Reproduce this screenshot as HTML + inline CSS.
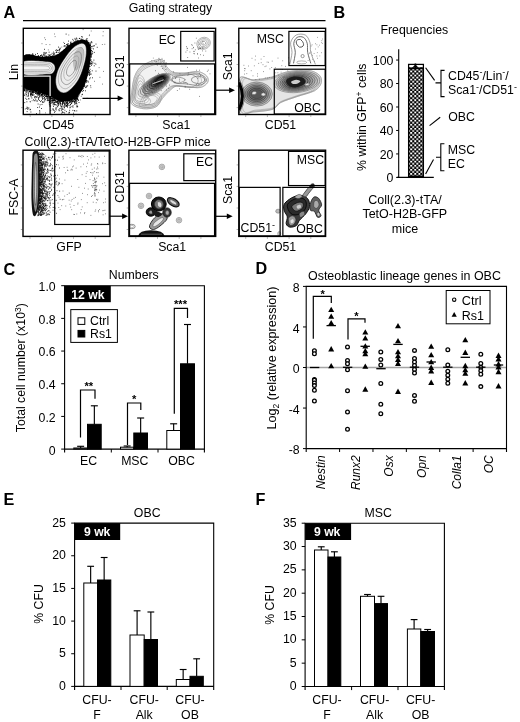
<!DOCTYPE html>
<html><head><meta charset="utf-8"><title>Figure</title>
<style>
html,body{margin:0;padding:0;background:#fff;overflow:hidden}
svg{display:block}
text{font-family:"Liberation Sans",Arial,Helvetica,sans-serif;font-size:12.3px;fill:#000}
</style></head><body>
<svg width="520" height="722" viewBox="0 0 520 722">
<rect width="520" height="722" fill="#fff"/>
<text x="3.50" y="18.20" style="font-size:16.2px;font-weight:bold;">A</text>
<text x="170.50" y="11.50" text-anchor="middle">Gating strategy</text>
<path d="M23.00 20.60L325.50 20.60" stroke="#000" stroke-width="1.2" fill="none"/>
<path d="M21.1 107.6h1.6M30.2 115.3v1.6M21.1 86.1h1.6M51.9 115.3v1.6M21.1 64.5h1.6M73.6 115.3v1.6M21.1 43.0h1.6M95.3 115.3v1.6" stroke="#888" stroke-width="0.7" fill="none"/>
<path d="M126.8 107.6h1.6M135.9 115.3v1.6M126.8 86.1h1.6M157.6 115.3v1.6M126.8 64.5h1.6M179.2 115.3v1.6M126.8 43.0h1.6M200.9 115.3v1.6" stroke="#888" stroke-width="0.7" fill="none"/>
<path d="M236.6 107.6h1.6M245.7 115.3v1.6M236.6 86.1h1.6M267.4 115.3v1.6M236.6 64.5h1.6M289.1 115.3v1.6M236.6 43.0h1.6M310.8 115.3v1.6" stroke="#888" stroke-width="0.7" fill="none"/>
<path d="M20.8 229.5h1.6M30.0 237.2v1.6M20.8 208.0h1.6M51.7 237.2v1.6M20.8 186.4h1.6M73.5 237.2v1.6M20.8 164.9h1.6M95.2 237.2v1.6" stroke="#888" stroke-width="0.7" fill="none"/>
<path d="M126.7 229.5h1.6M135.8 237.2v1.6M126.7 208.0h1.6M157.5 237.2v1.6M126.7 186.4h1.6M179.2 237.2v1.6M126.7 164.9h1.6M200.9 237.2v1.6" stroke="#888" stroke-width="0.7" fill="none"/>
<path d="M236.6 229.5h1.6M245.7 237.2v1.6M236.6 208.0h1.6M267.4 237.2v1.6M236.6 186.4h1.6M289.1 237.2v1.6M236.6 164.9h1.6M310.8 237.2v1.6" stroke="#888" stroke-width="0.7" fill="none"/>
<clipPath id="cp0"><rect x="23.30" y="28.30" width="86.70" height="86.20"/></clipPath><g clip-path="url(#cp0)">
<path d="M84.5 61.3h.01M75.2 68.4h.01M81.9 53.6h.01M78.2 77.0h.01M81.3 51.7h.01M58.5 56.8h.01M44.1 66.7h.01M44.1 52.4h.01M41.4 77.7h.01M57.2 77.9h.01M69.4 89.6h.01M37.8 76.8h.01M64.5 61.0h.01M57.6 79.9h.01M54.9 61.8h.01M65.5 61.3h.01M60.5 60.5h.01M59.1 57.0h.01M36.9 70.4h.01M32.3 75.9h.01M71.1 84.4h.01M34.5 72.8h.01M77.4 73.8h.01M37.5 74.3h.01M41.3 61.5h.01M78.4 58.0h.01M57.9 59.8h.01M81.2 39.1h.01M61.2 54.4h.01M72.7 59.7h.01M32.1 72.1h.01M60.9 97.6h.01M61.4 84.2h.01M85.2 71.0h.01M46.7 84.2h.01M64.7 68.5h.01M54.1 84.1h.01M45.3 88.0h.01M34.2 81.1h.01M79.6 91.5h.01M46.3 88.3h.01M65.7 74.0h.01M69.3 75.9h.01M32.1 73.4h.01M52.7 60.7h.01M41.6 61.1h.01M50.4 96.3h.01M28.2 75.7h.01M69.9 72.5h.01M43.7 77.5h.01M86.4 40.6h.01M69.1 76.9h.01M30.9 57.2h.01M78.2 69.1h.01M88.4 51.8h.01M90.2 77.8h.01M58.9 80.8h.01M60.5 103.7h.01M33.4 84.0h.01M85.4 55.3h.01M66.9 68.4h.01M49.0 69.5h.01M50.2 62.8h.01M40.5 73.0h.01M26.2 91.1h.01M83.8 46.2h.01M53.9 92.7h.01M42.6 69.6h.01M72.4 55.7h.01M50.0 69.2h.01M66.5 48.2h.01M50.8 98.3h.01M60.3 70.0h.01M76.6 62.2h.01M60.8 92.0h.01M68.4 48.1h.01M42.9 86.3h.01M60.6 72.9h.01M73.1 69.0h.01M85.4 42.8h.01M35.1 67.4h.01M73.9 85.6h.01M75.3 50.2h.01M32.1 69.0h.01M77.0 86.5h.01M64.5 49.8h.01M75.3 55.6h.01M60.3 104.9h.01M75.5 91.4h.01M40.4 63.9h.01M35.5 86.0h.01M51.3 61.4h.01M45.0 93.5h.01M87.8 40.9h.01M62.1 89.1h.01M56.5 84.9h.01M58.9 65.6h.01M57.5 59.8h.01M85.4 62.7h.01M74.7 63.4h.01M65.2 63.1h.01M83.8 56.2h.01M51.2 57.4h.01M84.2 80.1h.01M30.3 81.3h.01M51.5 86.9h.01M56.6 81.2h.01M41.9 68.7h.01M76.2 56.7h.01M73.7 86.8h.01M63.0 72.9h.01M88.8 49.2h.01M47.5 73.7h.01M38.4 79.8h.01M29.0 58.8h.01M36.7 87.8h.01M87.1 66.3h.01M82.5 40.2h.01M63.2 99.7h.01M66.5 88.9h.01M44.6 64.1h.01M89.3 58.6h.01M52.6 65.3h.01M64.1 66.9h.01M35.3 87.0h.01M25.6 70.9h.01M76.6 89.0h.01M77.6 95.6h.01M74.3 68.4h.01M31.5 66.1h.01M84.7 42.0h.01M78.5 41.0h.01M78.1 63.4h.01M28.5 80.0h.01M24.1 57.7h.01M26.6 75.2h.01M32.2 72.4h.01M62.2 83.9h.01M65.7 72.2h.01M35.9 83.4h.01M64.1 64.5h.01M44.0 71.9h.01M62.7 69.5h.01M71.0 74.2h.01M64.5 92.2h.01M61.4 79.3h.01M28.5 69.6h.01M79.4 67.5h.01M77.9 45.0h.01M26.8 72.2h.01M50.9 61.7h.01M30.9 86.0h.01M65.5 52.2h.01M77.8 45.7h.01M85.2 49.3h.01M76.8 89.6h.01M80.4 64.7h.01M36.7 69.1h.01M64.0 74.2h.01M72.5 92.4h.01M65.8 69.8h.01M69.0 49.3h.01M77.8 40.4h.01M68.7 48.8h.01M88.0 55.7h.01M82.4 70.5h.01M29.8 80.8h.01M69.0 67.2h.01M60.3 92.2h.01M49.0 65.2h.01M42.8 70.1h.01M70.4 59.3h.01M34.9 61.6h.01M65.0 56.2h.01M77.9 48.2h.01M60.5 80.8h.01M40.8 76.8h.01M37.6 75.6h.01M48.6 67.8h.01M32.7 59.9h.01M75.9 66.7h.01M68.1 80.0h.01M72.0 96.8h.01M30.3 60.3h.01M44.3 87.1h.01M83.7 83.6h.01M63.9 90.1h.01M52.5 88.0h.01M80.0 45.5h.01M68.3 46.7h.01M29.2 68.0h.01M76.0 47.9h.01M78.4 77.6h.01M68.2 103.6h.01M27.5 82.4h.01M75.1 89.7h.01M58.1 59.5h.01M84.8 80.3h.01M33.7 81.4h.01M66.9 66.0h.01M69.2 68.6h.01M87.2 57.2h.01M71.5 84.4h.01M68.6 57.3h.01M34.9 78.7h.01M76.8 40.1h.01M76.2 91.2h.01M71.7 95.5h.01M49.0 93.2h.01M45.1 90.0h.01M49.7 76.1h.01M83.7 64.2h.01M59.6 66.2h.01M49.8 84.1h.01M58.5 64.6h.01M68.9 58.1h.01M50.9 56.4h.01M83.3 67.1h.01M85.9 63.9h.01M45.3 87.7h.01M29.9 87.2h.01M80.3 86.0h.01M33.6 62.9h.01M71.8 62.7h.01M77.7 96.2h.01M80.7 48.6h.01M35.2 84.4h.01M27.7 70.0h.01M30.6 89.1h.01M36.4 78.6h.01M62.7 52.9h.01M88.7 71.7h.01M41.0 81.0h.01M80.2 46.6h.01M28.5 65.7h.01M54.3 77.0h.01M24.3 88.9h.01M71.9 97.2h.01M56.4 90.8h.01M86.2 50.9h.01M38.2 92.7h.01M50.1 66.0h.01M37.8 57.1h.01M56.9 77.7h.01M32.8 68.4h.01M82.0 85.9h.01M54.4 65.6h.01M71.6 78.5h.01M63.2 99.3h.01M44.5 83.3h.01M57.6 88.1h.01M63.7 62.3h.01M56.5 65.1h.01M77.8 54.2h.01M83.2 69.8h.01M33.0 91.7h.01M30.9 68.6h.01M90.0 49.3h.01M85.2 56.0h.01M56.5 71.5h.01M57.4 79.6h.01M84.5 53.4h.01M62.8 57.4h.01M37.7 78.0h.01M59.6 75.2h.01M83.0 79.1h.01M75.5 76.7h.01M76.4 87.9h.01M74.2 54.7h.01M82.7 86.3h.01M67.7 66.5h.01M42.7 66.1h.01M73.0 98.1h.01M30.9 56.1h.01M57.9 76.1h.01M46.5 85.5h.01M58.2 88.4h.01M30.8 77.4h.01M90.7 60.5h.01M61.3 73.9h.01M76.7 59.6h.01M42.6 60.6h.01M79.9 69.3h.01M70.8 65.7h.01M67.3 58.0h.01M86.8 56.2h.01M46.4 58.8h.01M69.5 78.7h.01M80.8 48.4h.01M72.7 50.2h.01M35.4 85.3h.01M59.2 56.6h.01M78.7 47.4h.01M75.1 63.6h.01M88.2 62.4h.01M51.9 61.7h.01M51.9 68.8h.01M75.8 42.5h.01M58.3 104.0h.01M68.4 49.3h.01M60.3 80.6h.01M59.1 90.2h.01M83.6 53.7h.01M55.2 72.7h.01M65.3 64.7h.01M65.8 94.0h.01M36.3 63.0h.01M83.1 85.7h.01M36.6 86.3h.01M49.4 76.3h.01M73.6 66.7h.01M66.9 76.0h.01M62.1 60.7h.01M77.7 86.2h.01M53.8 68.4h.01M66.7 70.7h.01M74.7 54.4h.01M68.0 97.4h.01M53.8 85.2h.01M56.2 76.6h.01M49.1 58.1h.01M54.5 63.0h.01M81.5 60.6h.01M59.3 81.5h.01M45.9 72.7h.01M81.8 83.2h.01M50.1 94.5h.01M78.5 45.2h.01M76.6 75.0h.01M52.5 66.3h.01M73.9 81.0h.01M27.0 71.3h.01M46.7 60.6h.01M82.9 41.8h.01M65.1 57.5h.01M60.3 67.6h.01M69.7 60.4h.01M66.8 59.6h.01M65.6 82.5h.01M50.1 64.2h.01M42.9 63.3h.01M46.2 65.5h.01M50.6 62.4h.01M47.9 78.2h.01M64.7 100.1h.01M87.6 54.7h.01M38.9 93.5h.01M84.3 78.6h.01M60.9 83.1h.01M72.9 66.2h.01M27.8 68.5h.01M84.6 49.7h.01M56.5 75.8h.01M36.3 60.4h.01M79.8 49.4h.01M80.6 50.3h.01M71.4 66.7h.01M52.1 92.8h.01M48.0 77.9h.01M57.5 80.6h.01M44.3 89.7h.01M69.7 93.8h.01M26.2 85.8h.01M76.3 76.9h.01M72.3 81.6h.01M40.5 81.5h.01M67.3 60.3h.01M67.0 46.0h.01M41.3 81.9h.01M54.2 57.2h.01M55.9 97.3h.01M38.0 89.7h.01M88.7 72.4h.01M42.1 58.8h.01M42.7 63.0h.01M28.8 62.8h.01M80.2 53.3h.01M35.6 67.3h.01M36.5 81.7h.01M45.2 85.2h.01M76.5 60.6h.01M57.9 98.9h.01M86.1 62.2h.01M66.8 55.2h.01M80.3 61.3h.01M74.7 43.4h.01M42.7 78.4h.01M46.6 71.6h.01M52.7 100.4h.01M34.4 80.4h.01M53.0 74.6h.01M62.9 100.4h.01M29.3 75.3h.01M35.6 86.2h.01M84.5 42.9h.01M24.9 70.7h.01M32.9 78.9h.01M43.7 80.3h.01M76.4 87.8h.01M65.0 71.8h.01M82.3 49.1h.01M84.3 67.4h.01M67.7 57.2h.01M24.0 73.0h.01M59.4 56.5h.01M74.3 76.1h.01M36.6 82.0h.01M42.2 87.9h.01M24.3 70.9h.01M80.5 89.7h.01M83.7 54.5h.01M63.9 55.3h.01M63.0 93.1h.01M89.4 71.1h.01M67.7 88.2h.01M42.9 73.6h.01M58.4 91.5h.01M26.8 82.7h.01M72.0 80.2h.01M71.8 100.8h.01M74.7 72.7h.01M40.3 86.4h.01M24.8 80.9h.01M38.4 63.3h.01M32.0 76.2h.01M52.2 69.6h.01M83.7 77.0h.01M71.2 82.0h.01M83.7 62.1h.01M78.1 84.7h.01M41.6 61.8h.01M76.3 95.1h.01M67.0 84.8h.01M39.0 90.6h.01M40.4 89.9h.01M91.9 53.7h.01M40.8 78.7h.01M68.5 68.5h.01M33.2 61.8h.01M81.1 62.4h.01M30.9 82.1h.01M33.3 64.8h.01M61.2 68.6h.01M79.1 81.1h.01M29.5 75.2h.01M42.8 62.8h.01M75.2 76.0h.01M66.2 74.5h.01M44.0 88.9h.01M67.0 49.4h.01M53.5 79.0h.01M88.1 65.5h.01M74.5 76.2h.01M65.1 91.2h.01M71.9 87.8h.01M71.0 43.9h.01M70.9 85.4h.01M71.1 64.2h.01M40.1 81.3h.01M71.9 48.8h.01M42.0 75.4h.01M54.6 100.4h.01M54.8 100.4h.01M41.1 55.5h.01M42.3 67.6h.01M35.7 87.0h.01M44.3 63.0h.01M54.3 81.4h.01M38.0 70.5h.01M73.8 92.7h.01M85.5 42.7h.01M39.2 59.2h.01M59.2 71.1h.01M29.8 81.9h.01M80.2 73.5h.01M83.5 81.4h.01M84.1 55.3h.01M64.2 78.0h.01M49.7 92.0h.01M77.2 45.9h.01M24.5 75.8h.01M40.1 64.2h.01M81.5 51.8h.01M52.5 67.6h.01M53.3 88.8h.01M39.0 75.4h.01M29.0 55.3h.01M52.7 70.0h.01M36.4 68.8h.01M60.7 92.0h.01M87.3 69.6h.01M62.4 69.3h.01M75.0 54.1h.01M44.6 76.1h.01M60.6 65.4h.01M59.5 54.6h.01M63.8 56.3h.01M54.7 66.7h.01M62.4 89.6h.01M81.3 64.5h.01M61.2 63.4h.01M69.5 63.2h.01M51.6 93.7h.01M39.2 75.2h.01M57.4 101.6h.01M68.5 89.3h.01M64.9 66.4h.01M31.8 60.5h.01M78.2 74.2h.01M38.3 94.1h.01M30.1 60.8h.01M76.1 81.3h.01M81.7 64.4h.01M53.3 81.2h.01M83.3 45.4h.01M32.6 56.6h.01M55.4 70.5h.01M52.8 93.9h.01M55.7 75.7h.01M73.7 43.5h.01M29.4 80.5h.01M74.5 80.3h.01M40.1 81.2h.01M72.1 85.9h.01M84.4 54.8h.01M35.7 59.5h.01M56.7 78.3h.01M56.7 56.0h.01M45.3 64.2h.01M39.5 69.6h.01M53.3 87.8h.01M65.0 89.1h.01M46.1 78.6h.01M40.9 61.6h.01M73.6 62.1h.01M43.3 73.1h.01M51.3 76.9h.01M85.5 81.1h.01M85.2 47.5h.01M44.9 91.4h.01M73.5 64.3h.01M34.0 91.9h.01M64.0 92.1h.01M87.4 66.3h.01M70.6 67.6h.01M28.3 64.3h.01M85.8 76.2h.01M29.0 88.5h.01M33.2 83.0h.01M88.9 46.0h.01M25.5 69.0h.01M61.6 96.8h.01M52.1 65.7h.01M70.7 48.2h.01M70.6 53.6h.01M35.2 58.9h.01M80.5 91.3h.01M74.3 87.0h.01M90.0 53.4h.01M52.4 56.9h.01M49.8 69.3h.01M71.0 65.8h.01M52.5 83.7h.01M50.5 60.1h.01M36.0 61.5h.01M66.8 92.9h.01M76.0 86.1h.01M39.3 96.1h.01M75.4 94.8h.01M45.1 73.5h.01M64.8 71.3h.01M28.5 75.6h.01M71.6 70.6h.01M71.1 43.6h.01M44.0 89.6h.01M65.0 100.1h.01M48.4 80.1h.01M60.9 75.3h.01M58.8 87.0h.01M62.4 78.5h.01M37.5 81.7h.01M69.3 89.4h.01M31.0 60.9h.01M87.8 43.4h.01M61.8 59.6h.01M25.9 70.7h.01M61.6 66.5h.01M77.0 45.4h.01M40.4 65.3h.01M44.1 60.4h.01M24.7 65.2h.01M59.9 87.9h.01M23.9 70.5h.01M42.5 64.2h.01M25.9 61.1h.01M53.3 60.3h.01M36.7 94.1h.01M69.6 84.2h.01M85.8 46.6h.01M86.0 64.4h.01M66.8 77.2h.01M26.6 56.8h.01M40.0 89.7h.01M31.4 64.1h.01M84.5 53.6h.01M29.9 66.5h.01M71.7 97.7h.01M63.8 72.0h.01M61.3 76.9h.01M89.0 72.3h.01M64.1 97.2h.01M26.2 77.2h.01M27.0 86.9h.01M27.8 74.9h.01M71.5 75.9h.01M78.4 74.1h.01M75.9 66.6h.01M55.5 72.4h.01M25.9 62.7h.01M75.8 70.1h.01M81.1 56.9h.01M50.2 66.1h.01M43.9 86.6h.01M59.3 63.2h.01M50.3 71.1h.01M68.9 64.1h.01M79.5 70.4h.01M84.0 61.9h.01M47.6 59.7h.01M41.3 92.5h.01M58.9 83.8h.01M35.5 88.2h.01M59.2 50.1h.01M59.4 57.0h.01M54.6 94.0h.01M89.6 53.4h.01M52.3 77.2h.01M68.9 71.3h.01M74.7 74.3h.01M60.0 74.1h.01M36.9 74.7h.01M81.6 75.7h.01M28.6 83.7h.01M68.8 97.0h.01M52.3 94.0h.01M67.6 61.1h.01M27.6 79.1h.01M38.6 57.0h.01M45.6 59.8h.01M56.2 62.7h.01M34.4 63.9h.01M89.4 49.6h.01M55.9 93.1h.01M52.5 64.2h.01M81.2 43.6h.01M40.1 82.2h.01M82.9 67.2h.01M42.6 81.9h.01M73.2 58.9h.01M65.1 80.9h.01M84.4 58.9h.01M76.2 59.0h.01M61.7 52.1h.01M37.9 73.4h.01M66.2 64.5h.01M68.6 55.0h.01M90.8 56.3h.01M83.8 71.5h.01M35.4 91.4h.01M35.9 74.7h.01M79.0 59.4h.01M81.3 79.0h.01M62.1 82.5h.01M59.4 96.5h.01M39.9 82.1h.01M87.4 55.5h.01M26.9 58.0h.01M41.7 63.1h.01M65.6 92.3h.01M50.4 70.3h.01M70.4 62.8h.01M41.7 70.2h.01M55.2 68.7h.01M87.2 54.0h.01M41.9 89.3h.01M71.6 49.0h.01M57.2 75.5h.01M83.1 80.0h.01M68.6 59.8h.01M33.4 60.8h.01M90.0 54.5h.01M85.5 58.4h.01M32.8 65.5h.01M57.1 95.0h.01M66.3 103.6h.01M45.9 83.8h.01M78.6 89.1h.01M60.0 56.7h.01M70.2 48.0h.01M81.1 75.2h.01M45.6 63.1h.01M29.8 70.2h.01M59.0 89.5h.01M76.7 49.8h.01M67.6 78.9h.01M74.0 58.2h.01M48.5 57.0h.01M75.4 74.0h.01M39.1 70.8h.01M68.1 82.3h.01M71.1 53.5h.01M81.8 44.8h.01M57.7 77.9h.01M87.3 59.8h.01M46.3 68.6h.01M69.7 85.6h.01M51.3 93.2h.01M85.7 61.6h.01M67.5 79.9h.01M60.5 86.7h.01M46.6 92.4h.01M41.8 86.2h.01M68.1 86.2h.01M72.8 48.9h.01M44.4 75.4h.01M48.6 94.0h.01M94.9 63.3h.01M30.6 57.9h.01M77.8 64.6h.01M66.1 78.7h.01M74.0 51.3h.01M45.0 83.0h.01M30.1 79.7h.01M75.5 57.4h.01M59.4 57.0h.01M37.3 64.9h.01M59.2 62.0h.01M59.3 86.5h.01M70.0 62.5h.01M83.7 67.4h.01M28.4 64.6h.01M89.3 60.7h.01M57.4 80.2h.01M76.2 59.8h.01M82.6 62.1h.01M84.4 72.5h.01M72.2 63.9h.01M87.6 54.4h.01M30.2 55.8h.01M35.6 89.3h.01M42.0 77.5h.01M46.2 81.7h.01M63.1 78.7h.01M70.3 65.3h.01M85.2 67.5h.01M49.3 60.0h.01M81.1 48.2h.01M62.6 63.0h.01M78.8 73.7h.01M65.5 71.7h.01M44.7 82.3h.01M32.7 81.1h.01M84.9 61.1h.01M62.6 63.5h.01M55.1 73.3h.01M50.4 85.9h.01M65.3 72.3h.01M87.2 48.7h.01M49.2 87.4h.01M54.1 72.2h.01M84.2 69.3h.01M71.9 52.9h.01M78.8 82.8h.01M54.1 60.9h.01M79.3 66.7h.01M81.5 42.6h.01M66.8 87.2h.01M59.8 60.2h.01M77.8 44.9h.01M26.5 74.9h.01M90.3 45.8h.01M83.7 58.1h.01M40.3 74.9h.01M80.4 83.1h.01M50.4 75.2h.01M61.8 74.4h.01M38.3 66.9h.01M69.0 85.4h.01M76.1 99.0h.01M57.6 64.3h.01M56.0 79.7h.01M56.4 85.2h.01M83.8 59.8h.01M50.6 66.9h.01M42.1 79.1h.01M57.8 74.3h.01M45.4 56.1h.01M35.2 75.6h.01M70.2 97.1h.01M82.4 84.3h.01M41.2 78.8h.01M28.9 85.9h.01M50.6 96.4h.01M88.2 55.2h.01M78.5 84.8h.01M69.0 69.8h.01M80.4 61.5h.01M71.5 80.2h.01M76.8 90.7h.01M30.3 82.5h.01M50.9 61.0h.01M59.9 56.2h.01M58.8 94.1h.01M40.2 87.9h.01M46.6 94.0h.01M86.0 75.3h.01M35.8 77.9h.01M81.6 68.1h.01M61.9 75.3h.01M68.3 57.6h.01M59.8 61.4h.01M30.4 75.1h.01M54.6 78.5h.01M64.5 77.8h.01M65.8 82.1h.01M78.8 74.8h.01M56.2 93.2h.01M83.9 49.4h.01M36.1 87.8h.01M51.7 56.5h.01M62.0 91.6h.01M73.2 85.3h.01M87.1 60.3h.01M72.6 76.9h.01M49.7 64.5h.01M69.3 71.7h.01M91.9 42.7h.01M26.1 71.6h.01M51.0 70.4h.01M55.9 70.0h.01M92.1 64.0h.01M67.3 61.3h.01M52.1 53.3h.01M76.8 71.1h.01M54.2 84.7h.01M36.5 86.0h.01M53.5 92.1h.01M41.1 90.2h.01M77.6 92.7h.01M82.1 84.8h.01M67.8 72.1h.01M85.1 69.7h.01M57.8 73.0h.01M49.0 56.2h.01M66.1 100.4h.01M67.2 82.1h.01M76.8 88.9h.01M67.4 66.2h.01M78.5 51.7h.01M48.0 66.8h.01M70.0 71.1h.01M43.2 65.2h.01M60.6 57.8h.01M70.0 82.8h.01M79.0 91.3h.01M77.1 43.1h.01M63.9 83.9h.01M45.9 62.3h.01M64.4 72.6h.01M30.0 64.2h.01M63.7 102.1h.01M58.1 64.5h.01M71.4 71.1h.01M51.1 94.3h.01M77.5 65.1h.01M28.7 72.1h.01M61.3 56.4h.01M64.6 50.5h.01M85.6 46.0h.01M83.5 49.0h.01M74.2 62.3h.01M69.4 53.6h.01M56.0 58.0h.01M57.2 61.3h.01M73.1 58.8h.01M65.6 65.8h.01M68.3 89.0h.01M69.1 57.8h.01M65.7 91.0h.01M65.0 68.3h.01M57.7 58.3h.01M45.5 53.8h.01M64.0 91.3h.01M32.1 78.8h.01M83.5 57.9h.01M32.0 82.9h.01M52.9 92.8h.01M39.2 76.8h.01M41.7 78.1h.01M69.2 75.3h.01M49.9 72.0h.01M75.0 44.4h.01M32.1 76.3h.01M63.1 60.4h.01M53.4 81.6h.01M81.3 76.0h.01M74.4 90.3h.01M33.9 60.9h.01M78.3 46.9h.01M64.2 49.7h.01M82.5 57.3h.01M88.6 59.9h.01M75.8 78.9h.01M66.4 84.3h.01M39.0 86.9h.01M46.2 85.8h.01M69.8 88.5h.01M40.5 69.0h.01M46.8 70.0h.01M49.8 89.6h.01M76.0 51.7h.01M69.8 65.9h.01M55.4 93.9h.01M31.8 84.5h.01M77.0 70.8h.01M30.2 74.0h.01M57.5 55.7h.01M43.5 65.8h.01M79.9 78.0h.01M65.3 71.2h.01M40.1 62.8h.01M74.7 74.1h.01M72.9 90.4h.01M72.9 61.8h.01M82.3 59.6h.01M42.2 82.4h.01M70.6 89.0h.01M57.6 94.4h.01M49.4 81.2h.01M48.4 91.8h.01M31.8 89.5h.01M58.1 90.7h.01M51.8 79.4h.01M70.1 49.1h.01M36.4 79.5h.01M89.0 73.8h.01M26.6 63.6h.01M72.7 56.4h.01M84.9 52.5h.01M75.7 64.5h.01M47.4 78.7h.01M54.2 59.7h.01M35.7 85.2h.01M44.7 87.3h.01M34.7 79.8h.01M81.3 84.9h.01M67.4 48.1h.01M52.4 71.9h.01M33.6 68.7h.01M91.0 74.0h.01M57.9 85.2h.01M75.5 83.7h.01M35.4 62.1h.01M60.7 57.0h.01M27.6 77.3h.01M89.9 45.2h.01M43.0 58.9h.01M70.4 92.3h.01M69.9 51.2h.01M75.8 85.8h.01M53.0 98.4h.01M59.8 101.0h.01M53.0 74.6h.01M72.4 57.4h.01M78.3 55.8h.01M29.0 58.3h.01M56.5 75.4h.01M29.8 70.5h.01M38.4 66.8h.01M74.5 96.5h.01M71.2 84.1h.01M42.9 87.5h.01M50.0 68.4h.01M56.3 94.2h.01M73.8 46.3h.01M27.0 60.6h.01M59.6 84.3h.01M74.5 50.0h.01M68.4 83.1h.01M72.3 77.0h.01M30.5 82.4h.01M36.0 78.1h.01M42.6 86.7h.01M46.3 70.9h.01M76.3 76.6h.01M90.1 59.3h.01M69.1 67.6h.01M87.4 47.4h.01M47.2 65.2h.01M49.6 76.0h.01M67.6 73.4h.01M82.5 65.7h.01M43.3 80.5h.01M37.0 65.0h.01M80.5 74.2h.01M26.7 68.9h.01M48.4 59.8h.01M75.1 81.7h.01M68.0 99.0h.01M49.6 66.5h.01M70.6 99.4h.01M72.2 93.9h.01M54.1 67.8h.01M33.9 61.0h.01M67.8 47.1h.01M61.9 74.6h.01M30.8 73.3h.01M42.1 74.8h.01M26.6 90.9h.01M36.9 66.0h.01M51.8 61.7h.01M45.5 89.5h.01M79.3 94.9h.01M25.8 83.0h.01M82.2 77.6h.01M53.4 84.5h.01M39.0 67.8h.01M83.0 57.8h.01M79.5 44.1h.01M67.2 75.0h.01M82.9 77.6h.01M78.4 46.0h.01M85.6 42.0h.01M58.8 86.4h.01M81.5 75.6h.01M52.2 72.8h.01M42.3 85.9h.01M57.6 89.1h.01M51.0 83.1h.01M84.4 71.8h.01M35.8 93.0h.01M51.7 69.8h.01M89.0 74.8h.01M90.2 42.9h.01M75.2 72.0h.01M68.2 99.8h.01M78.4 63.0h.01M38.1 87.5h.01M41.1 88.4h.01M48.6 77.2h.01M72.7 93.0h.01M25.1 58.6h.01M37.9 69.8h.01M81.0 42.5h.01M78.0 74.7h.01M65.4 84.7h.01M58.3 74.1h.01M40.0 73.9h.01M74.7 89.2h.01M61.1 60.9h.01M34.3 80.0h.01M45.7 59.2h.01M24.1 79.1h.01M50.9 69.2h.01M50.8 79.0h.01M50.5 88.9h.01M47.9 96.2h.01M48.7 65.4h.01M61.1 58.2h.01M55.6 102.3h.01M78.6 51.1h.01M60.5 75.9h.01M55.5 67.1h.01M70.7 57.2h.01M72.0 72.8h.01M80.5 76.3h.01M71.9 60.8h.01M67.4 58.2h.01M75.0 91.5h.01M31.0 81.2h.01M72.9 62.5h.01M38.4 63.0h.01M49.1 94.4h.01M69.3 77.2h.01M77.4 94.8h.01M66.1 53.2h.01M78.8 60.4h.01M26.5 59.0h.01M44.8 83.9h.01M54.3 58.0h.01M56.3 52.3h.01M45.6 77.5h.01M66.7 83.3h.01M68.2 73.4h.01M39.7 77.5h.01M69.1 78.7h.01M73.5 77.5h.01M67.4 85.6h.01M29.0 56.8h.01M64.3 65.7h.01M52.9 78.1h.01M59.5 61.1h.01M59.1 74.4h.01M41.6 59.0h.01M40.4 71.7h.01M47.3 75.1h.01M76.4 83.6h.01M50.9 60.4h.01M28.4 79.8h.01M34.8 88.9h.01M57.8 77.0h.01M49.3 61.2h.01M30.2 76.2h.01M81.7 57.0h.01M87.7 71.2h.01M50.7 94.5h.01M71.1 70.6h.01M77.6 87.7h.01M72.3 96.1h.01M67.6 52.7h.01M25.9 62.2h.01M59.3 67.7h.01M71.5 95.8h.01M49.3 88.0h.01M79.8 78.0h.01M93.6 48.9h.01M38.1 62.3h.01M68.3 79.2h.01M81.2 54.0h.01M39.0 61.7h.01M72.5 79.8h.01M36.6 58.1h.01M79.5 67.6h.01M72.1 50.2h.01M78.9 72.8h.01M32.3 86.1h.01M63.5 53.3h.01M55.6 90.2h.01M58.0 67.0h.01M75.3 103.6h.01M55.3 61.5h.01M55.2 67.9h.01M55.8 50.4h.01M50.3 62.3h.01M42.8 75.8h.01M38.2 87.4h.01M42.8 91.0h.01M76.1 44.7h.01M32.8 62.0h.01M39.1 92.2h.01M60.0 83.6h.01M47.3 73.2h.01M37.4 63.8h.01M46.6 71.4h.01M70.4 50.7h.01M88.7 60.4h.01M80.2 45.8h.01M52.1 93.9h.01M49.6 86.0h.01M40.8 85.3h.01M89.3 72.7h.01M65.5 80.9h.01M61.5 65.5h.01M87.0 56.8h.01M63.1 85.6h.01M84.6 83.3h.01M25.1 89.7h.01M77.3 76.1h.01M85.5 71.5h.01M79.1 66.4h.01M55.4 72.5h.01M25.4 84.8h.01M44.6 67.4h.01M35.9 66.3h.01M60.3 72.0h.01M67.3 51.7h.01M48.2 63.5h.01M77.5 82.4h.01M80.5 90.6h.01M79.4 79.9h.01M83.3 47.5h.01M66.8 82.4h.01M49.0 80.0h.01M81.7 64.3h.01M90.0 66.5h.01M46.5 76.9h.01M79.7 59.3h.01M66.5 72.5h.01M63.7 59.7h.01M50.1 61.1h.01M47.3 78.7h.01M42.2 81.5h.01M57.2 86.4h.01M90.5 44.7h.01M77.1 55.7h.01M84.4 74.8h.01M64.6 62.3h.01M58.4 55.8h.01M66.4 51.7h.01M48.6 83.4h.01M40.4 91.5h.01M36.9 70.7h.01M84.5 77.3h.01M45.4 66.9h.01M71.3 103.2h.01M55.8 63.6h.01M42.8 58.0h.01M44.8 73.5h.01M92.8 62.0h.01M44.8 64.5h.01M62.2 67.2h.01M89.0 45.4h.01M46.2 75.7h.01M77.8 75.4h.01M27.0 89.3h.01M68.0 52.2h.01M76.9 38.8h.01M80.8 82.3h.01M89.3 63.1h.01M71.4 76.8h.01M88.9 57.5h.01M43.9 60.7h.01M57.5 55.1h.01M38.4 69.3h.01M28.0 76.2h.01M76.3 56.5h.01M79.7 70.1h.01M26.7 83.3h.01M88.1 63.3h.01M44.4 73.7h.01M83.0 65.5h.01M74.2 79.3h.01M57.8 77.1h.01M80.4 45.7h.01M48.0 57.6h.01M79.7 38.4h.01M81.2 78.4h.01M66.3 97.5h.01M46.0 70.6h.01M59.0 69.3h.01M62.4 65.5h.01M62.2 88.5h.01M91.4 46.6h.01M27.5 69.3h.01M87.3 52.7h.01M62.5 101.0h.01M31.0 64.3h.01M83.8 56.4h.01M56.8 58.9h.01M72.1 49.5h.01M77.0 48.9h.01M29.0 84.7h.01M76.3 45.2h.01M68.8 91.0h.01M69.7 51.4h.01M86.0 87.4h.01M47.4 77.3h.01M43.6 59.0h.01M39.6 77.7h.01M30.9 74.7h.01M76.8 82.0h.01M54.2 88.4h.01M59.0 92.4h.01M45.2 85.4h.01M73.9 61.8h.01M57.0 88.1h.01M51.2 59.6h.01M60.5 64.2h.01M83.7 81.5h.01M40.2 79.7h.01M55.3 90.0h.01M32.2 55.7h.01M54.7 54.2h.01M39.1 92.4h.01M77.9 58.8h.01M79.8 79.6h.01M57.9 66.0h.01M72.0 66.7h.01M84.4 58.3h.01M64.3 71.9h.01M61.7 71.1h.01M45.4 88.8h.01M66.1 95.3h.01M64.9 88.9h.01M86.6 82.1h.01M84.0 49.6h.01M73.0 56.7h.01M72.3 82.6h.01M74.0 54.8h.01M41.1 61.4h.01M75.6 64.2h.01M45.9 61.9h.01M80.6 40.5h.01M81.6 83.6h.01M43.7 87.3h.01M58.9 97.5h.01M66.1 96.5h.01M83.2 63.9h.01M83.0 61.3h.01M37.9 84.7h.01M69.3 76.6h.01M48.3 93.1h.01M78.4 89.5h.01M58.7 65.9h.01M86.8 40.8h.01M39.3 60.0h.01M77.6 69.3h.01M44.1 86.4h.01M59.2 95.3h.01M57.1 62.0h.01M36.0 60.6h.01M75.1 41.9h.01M77.6 89.8h.01M36.2 70.0h.01M76.6 74.7h.01M82.9 72.8h.01M56.4 52.0h.01M46.1 73.8h.01M53.2 66.4h.01M30.6 69.5h.01M51.5 74.9h.01M29.5 77.9h.01M53.8 96.2h.01M70.6 44.2h.01M67.9 98.0h.01M87.6 62.3h.01M83.5 86.2h.01M64.9 63.7h.01M83.9 84.7h.01M49.6 80.8h.01M44.9 94.8h.01M63.9 52.9h.01M57.7 77.3h.01M75.7 45.2h.01M49.1 80.1h.01M79.1 90.6h.01M39.9 93.5h.01M34.4 63.8h.01M42.1 83.5h.01M88.4 68.5h.01M60.7 97.5h.01M76.1 91.9h.01M37.4 79.9h.01M79.1 42.6h.01M32.0 87.7h.01M57.1 90.4h.01M86.0 73.8h.01M74.9 88.4h.01M57.8 91.7h.01M71.0 42.1h.01M68.9 87.4h.01M48.8 86.9h.01M66.5 85.1h.01M76.5 74.7h.01M30.5 62.0h.01M84.8 65.4h.01M50.6 59.8h.01M84.9 69.7h.01M62.9 65.2h.01M81.0 39.3h.01M64.3 71.3h.01M65.5 48.8h.01M59.8 56.6h.01M35.1 58.0h.01M53.0 82.9h.01M74.2 76.7h.01M47.9 64.7h.01M56.2 68.6h.01M48.4 69.7h.01M77.3 83.0h.01M28.2 58.3h.01M81.6 69.8h.01M60.1 81.1h.01M44.3 88.1h.01M78.9 67.3h.01M78.8 88.2h.01M72.3 90.9h.01M25.1 82.5h.01M73.0 61.8h.01M67.8 61.8h.01M84.2 68.3h.01M35.0 89.9h.01M51.9 70.6h.01M68.2 83.1h.01M33.0 68.5h.01M74.6 48.8h.01M54.2 88.9h.01M69.6 73.4h.01M73.4 83.6h.01M66.5 74.7h.01M32.3 77.0h.01M43.9 75.6h.01M53.1 91.4h.01M32.8 72.6h.01M65.7 56.8h.01M72.9 88.2h.01M56.9 80.7h.01M60.3 55.0h.01M87.7 60.9h.01M29.0 67.2h.01M84.2 56.0h.01M90.0 47.4h.01M71.2 55.2h.01M82.6 89.0h.01M63.4 86.7h.01M40.1 84.3h.01M66.8 55.4h.01M79.6 51.8h.01M34.6 80.4h.01M80.7 54.1h.01M74.2 74.6h.01M72.8 63.2h.01M66.0 86.0h.01M59.1 70.7h.01M63.6 80.8h.01M68.2 92.6h.01M60.4 99.3h.01M29.8 77.0h.01M34.7 72.0h.01M83.7 48.1h.01M71.8 52.2h.01M82.5 48.3h.01M60.7 72.7h.01M65.7 62.6h.01M70.8 47.7h.01M47.6 72.4h.01M65.6 54.2h.01M41.3 89.3h.01M29.2 70.6h.01M78.4 71.5h.01M74.6 60.9h.01M54.1 70.4h.01M56.7 79.7h.01M79.1 67.0h.01M64.9 53.0h.01M47.9 66.1h.01M56.0 72.7h.01M44.9 56.4h.01M37.6 59.2h.01M75.0 96.3h.01M42.5 80.1h.01M65.4 53.2h.01M39.8 68.4h.01M46.6 94.3h.01M52.6 64.5h.01M85.7 73.5h.01M71.9 66.5h.01M72.2 44.1h.01M85.2 53.0h.01M67.1 96.8h.01M80.8 79.9h.01M58.4 68.4h.01M72.4 73.7h.01M30.4 62.7h.01M77.9 77.3h.01M39.3 78.4h.01M63.5 83.9h.01M70.9 82.6h.01M33.8 86.3h.01M47.1 82.8h.01M75.6 58.9h.01M47.8 92.5h.01M35.6 67.2h.01M65.2 75.9h.01M77.4 95.6h.01M83.6 74.6h.01M30.9 85.7h.01M79.8 64.6h.01M70.1 96.5h.01M78.3 88.0h.01M59.6 93.3h.01M59.4 62.6h.01M83.4 77.0h.01M33.8 79.7h.01M77.6 43.7h.01M34.0 88.3h.01M65.2 61.2h.01M27.1 81.5h.01M46.6 63.1h.01M81.6 70.8h.01M56.6 58.9h.01M65.2 69.3h.01M24.7 73.5h.01M84.1 76.6h.01M94.3 52.4h.01M74.5 46.3h.01M49.9 55.4h.01M31.6 75.1h.01M50.5 64.6h.01M86.3 75.4h.01M78.8 49.1h.01M46.5 65.3h.01M28.3 71.5h.01M53.8 78.7h.01M37.2 59.6h.01M68.5 79.7h.01M52.7 71.2h.01M44.6 67.6h.01M38.5 83.4h.01M44.4 67.2h.01M42.8 56.1h.01M89.3 63.2h.01M76.6 70.7h.01M67.6 92.5h.01M71.8 85.8h.01M72.0 73.2h.01M75.2 49.1h.01M55.2 57.1h.01M83.9 76.7h.01M63.8 69.0h.01M87.1 63.8h.01M68.9 87.0h.01M90.0 49.5h.01M59.8 72.5h.01M29.5 81.3h.01M72.9 49.4h.01M26.3 80.6h.01M52.0 96.0h.01M33.1 62.7h.01M30.5 82.9h.01M70.4 43.1h.01M67.2 53.9h.01M67.7 45.0h.01M71.7 60.1h.01M72.8 44.1h.01M75.5 46.2h.01M28.5 65.0h.01M31.9 71.8h.01M72.9 71.3h.01M37.5 68.6h.01M58.6 96.8h.01M29.4 55.3h.01M71.2 77.7h.01M51.6 71.9h.01M79.6 85.2h.01M31.9 80.0h.01M31.8 85.4h.01M72.8 58.4h.01M60.5 63.4h.01M88.5 63.8h.01M69.3 97.1h.01M47.0 68.9h.01M41.8 65.6h.01M92.7 53.1h.01M25.5 76.9h.01M72.1 43.9h.01M51.8 93.5h.01M68.5 70.1h.01M71.6 50.3h.01M33.7 68.1h.01M37.7 61.8h.01M55.3 90.5h.01M69.6 97.9h.01M70.8 50.7h.01M78.3 49.2h.01M41.4 94.6h.01M28.8 84.5h.01M35.8 65.2h.01M68.8 98.3h.01M53.2 67.7h.01M72.1 72.6h.01M85.6 56.9h.01M86.9 52.9h.01M80.5 53.1h.01M61.5 81.0h.01M41.8 81.4h.01M64.9 92.8h.01M78.4 85.8h.01M49.9 73.6h.01M71.2 82.1h.01M75.0 98.6h.01M80.8 46.0h.01M63.0 95.7h.01M67.4 78.0h.01M85.9 66.2h.01M85.7 76.7h.01M38.8 84.6h.01M53.3 79.2h.01M38.8 75.0h.01M31.5 81.5h.01M80.2 45.9h.01M71.8 47.1h.01M38.2 88.5h.01M90.9 62.4h.01M71.8 80.3h.01M58.8 56.0h.01M90.8 63.5h.01M76.2 77.2h.01M42.3 79.5h.01M70.5 66.9h.01M35.5 85.2h.01M26.1 81.4h.01M44.9 86.1h.01M79.1 60.1h.01M69.8 77.0h.01M69.3 64.3h.01M80.2 85.5h.01M91.9 53.9h.01M54.4 92.8h.01M74.2 62.0h.01M91.1 59.9h.01M40.6 59.8h.01M64.7 98.0h.01M52.3 75.3h.01M54.6 99.6h.01M75.1 93.8h.01M68.3 67.7h.01M80.1 82.2h.01M37.6 72.5h.01M62.2 92.0h.01M84.0 71.9h.01M37.0 68.0h.01M62.1 63.0h.01M86.0 59.0h.01M82.5 81.3h.01M51.8 89.4h.01M84.6 44.2h.01M77.5 81.2h.01M80.8 83.4h.01M53.9 87.1h.01M40.5 59.9h.01M81.2 44.3h.01M87.0 60.0h.01M46.9 56.5h.01M83.3 44.7h.01M47.2 83.2h.01M53.5 72.3h.01M61.2 79.2h.01M41.5 72.6h.01M41.3 89.1h.01M57.5 73.0h.01M28.7 75.4h.01M78.8 73.2h.01M34.2 66.5h.01M54.2 83.3h.01M64.6 76.2h.01M31.5 61.8h.01M50.6 77.3h.01M63.4 70.1h.01M81.0 87.9h.01M78.1 73.9h.01M69.4 54.7h.01M36.8 82.5h.01M70.3 88.5h.01M78.1 75.6h.01M39.2 56.7h.01M81.6 78.4h.01M63.3 82.8h.01M67.8 79.0h.01M55.3 60.5h.01M82.7 57.1h.01M71.0 45.7h.01M45.8 72.1h.01M54.1 98.7h.01M77.0 82.2h.01M82.5 37.0h.01M74.7 66.0h.01M71.6 60.2h.01M85.3 43.7h.01M39.2 77.6h.01M25.9 66.7h.01M70.7 57.7h.01M45.7 86.3h.01M34.9 68.2h.01M65.6 87.9h.01M50.9 93.7h.01M75.2 84.2h.01M70.8 70.4h.01M75.2 49.5h.01M42.9 66.4h.01M28.2 84.0h.01M81.2 88.3h.01M87.0 80.8h.01M66.5 96.0h.01M89.6 75.4h.01M72.1 95.8h.01M64.4 96.4h.01M40.1 57.8h.01M49.5 64.0h.01M57.1 68.6h.01M44.9 74.0h.01M68.3 66.7h.01M74.6 44.7h.01M64.1 65.6h.01M70.3 91.7h.01M50.1 79.1h.01M76.1 72.3h.01M38.5 63.0h.01M88.5 60.0h.01M62.6 66.9h.01M81.5 65.5h.01M63.2 88.5h.01M86.3 71.7h.01M50.9 63.4h.01M71.5 98.3h.01M69.7 86.8h.01M39.2 57.9h.01M71.6 85.0h.01M76.3 47.2h.01M48.1 79.7h.01M71.8 91.9h.01M85.0 69.7h.01M88.0 81.2h.01M29.4 69.8h.01M64.0 91.1h.01M54.6 69.3h.01M66.7 88.4h.01M42.8 85.2h.01M68.9 56.9h.01M70.1 85.4h.01M56.4 62.1h.01M40.5 68.6h.01M75.9 72.0h.01M34.8 88.3h.01M59.0 75.7h.01M66.1 61.9h.01M81.9 54.4h.01M79.6 61.1h.01M33.4 57.6h.01M40.7 66.1h.01M68.0 62.3h.01M44.7 91.9h.01M75.7 40.9h.01M53.3 54.7h.01M63.3 90.6h.01M67.7 80.1h.01M43.5 81.7h.01M84.7 68.4h.01M73.2 76.3h.01M73.6 58.7h.01M62.1 72.9h.01M33.1 83.9h.01M64.1 97.0h.01M39.9 59.7h.01M56.4 82.7h.01M64.3 87.7h.01M73.4 84.9h.01M51.6 79.7h.01M74.9 75.3h.01M80.9 60.3h.01M76.5 88.0h.01M83.4 77.2h.01M30.2 85.1h.01M43.2 66.1h.01M70.7 79.9h.01M50.0 65.1h.01M53.4 81.8h.01M32.0 64.6h.01M30.0 88.6h.01M70.6 61.5h.01M55.5 85.4h.01M85.8 65.1h.01M60.5 88.3h.01M79.4 85.3h.01M72.8 39.4h.01M49.9 96.5h.01M87.9 49.5h.01M82.1 65.5h.01M33.9 88.3h.01M50.5 81.5h.01M38.6 67.3h.01M92.6 51.4h.01M49.0 79.5h.01M38.1 85.0h.01M41.0 77.6h.01M58.0 58.8h.01M83.4 44.8h.01M28.5 57.4h.01M77.0 94.8h.01M66.1 50.0h.01M24.8 69.8h.01M39.5 80.5h.01M87.1 38.7h.01M54.4 63.8h.01M58.9 81.1h.01M59.8 66.3h.01M55.8 61.2h.01M25.3 85.9h.01M43.1 78.2h.01M28.3 55.8h.01M74.2 96.0h.01M52.9 80.4h.01M72.5 78.5h.01M47.7 88.6h.01M86.6 55.8h.01M25.9 85.6h.01M81.7 62.1h.01M32.5 65.6h.01M68.0 91.0h.01M63.8 70.7h.01M31.2 62.6h.01M52.1 69.5h.01M53.3 81.2h.01M82.3 77.7h.01M88.4 54.0h.01M80.6 89.9h.01M41.9 63.2h.01M58.8 76.9h.01M79.6 82.6h.01M81.8 48.3h.01M44.3 54.9h.01M61.7 87.4h.01M27.7 69.8h.01M29.8 59.6h.01M32.7 53.8h.01M30.2 82.8h.01M43.8 90.1h.01M43.4 82.7h.01M71.5 81.3h.01M29.5 85.1h.01M68.1 54.8h.01M70.1 55.5h.01M70.5 96.8h.01M66.3 80.8h.01M62.0 87.9h.01M75.5 78.1h.01M31.2 55.2h.01M34.4 74.8h.01M76.8 58.8h.01M57.1 60.7h.01M39.7 84.5h.01M81.4 41.9h.01M71.2 55.1h.01M52.1 86.5h.01M77.3 57.8h.01M66.5 105.6h.01M53.5 66.6h.01M82.2 84.8h.01M71.1 80.2h.01M66.6 89.7h.01M57.7 67.7h.01M71.9 57.1h.01M33.2 83.8h.01M54.3 62.2h.01M67.7 46.0h.01M27.7 70.5h.01M79.0 65.1h.01M71.9 89.4h.01M55.0 69.7h.01M54.4 94.9h.01M81.6 68.1h.01M50.5 94.2h.01M78.7 45.1h.01M47.9 94.4h.01M38.0 88.7h.01M81.3 61.5h.01M86.3 51.3h.01M68.0 86.8h.01M46.0 91.2h.01M71.8 59.1h.01M25.9 77.1h.01M83.8 64.9h.01M62.2 84.3h.01M36.4 78.6h.01M66.4 52.2h.01M66.5 51.4h.01M43.5 86.7h.01M44.1 79.4h.01M52.8 76.5h.01M80.0 61.5h.01M59.3 77.0h.01M65.2 59.5h.01M56.2 55.2h.01M71.1 85.9h.01M52.7 57.0h.01M72.7 86.5h.01M45.5 79.5h.01M81.5 61.9h.01M48.0 71.3h.01M82.7 63.8h.01M80.5 79.3h.01M57.7 84.4h.01M32.5 83.3h.01M75.8 68.5h.01M43.7 87.8h.01M82.5 44.9h.01M50.2 62.6h.01M40.0 84.9h.01M65.4 89.3h.01M51.6 98.5h.01M53.9 83.2h.01M77.9 96.5h.01M89.7 78.9h.01M91.2 42.0h.01M76.7 79.8h.01M31.5 66.1h.01M63.1 82.9h.01M88.3 69.4h.01M60.1 96.6h.01M42.6 57.7h.01M41.0 65.6h.01M53.8 71.5h.01M67.2 69.4h.01M88.8 42.8h.01M85.3 47.5h.01M53.3 93.6h.01M68.9 90.5h.01M47.4 89.3h.01M54.2 73.4h.01M67.0 65.8h.01M32.5 74.7h.01M60.0 78.2h.01M35.6 57.1h.01M67.4 98.9h.01M44.3 76.5h.01M36.8 81.5h.01M51.4 66.6h.01M53.1 87.9h.01M78.1 43.5h.01M70.5 56.8h.01M61.0 71.3h.01M65.6 82.8h.01M66.2 50.7h.01M68.4 89.3h.01M86.2 73.2h.01M89.4 47.6h.01M83.4 62.4h.01M73.8 84.5h.01M64.9 92.0h.01M39.1 63.7h.01M52.5 80.2h.01M30.0 58.4h.01M49.5 61.7h.01M37.6 69.1h.01M43.3 70.0h.01M75.6 57.8h.01M64.6 75.5h.01M29.0 73.7h.01M60.6 72.2h.01M39.4 91.6h.01M44.0 87.0h.01M65.2 68.8h.01M54.0 67.5h.01M43.3 69.1h.01M80.9 65.9h.01M35.2 67.9h.01M76.7 79.3h.01M26.5 81.5h.01M68.3 54.4h.01M32.2 64.3h.01M44.0 79.1h.01M74.5 78.8h.01M83.9 64.1h.01M47.9 86.5h.01M67.2 95.1h.01M49.9 74.8h.01M78.1 47.1h.01M27.2 68.7h.01M75.2 39.5h.01M68.2 78.8h.01M55.9 57.5h.01M73.9 60.3h.01M52.3 87.7h.01M32.6 85.8h.01M52.4 90.5h.01M28.7 57.5h.01M52.2 72.7h.01M78.4 68.9h.01M39.0 83.1h.01M61.9 64.5h.01M75.4 54.5h.01M85.4 81.1h.01M74.1 87.1h.01M63.8 101.0h.01M61.0 63.9h.01M66.9 92.2h.01M55.8 79.3h.01M49.2 75.5h.01M61.3 73.9h.01M37.3 75.4h.01M83.0 47.8h.01M27.3 79.4h.01M90.4 53.3h.01M65.2 93.0h.01M60.8 82.0h.01M76.6 88.6h.01M25.0 78.0h.01M25.1 58.9h.01M59.1 77.9h.01M43.7 83.9h.01M46.9 74.3h.01M63.0 82.9h.01M74.1 89.1h.01M71.0 91.4h.01M57.6 102.7h.01M69.8 69.5h.01M74.0 99.4h.01M90.7 52.8h.01M49.2 70.2h.01M83.3 75.3h.01M28.5 70.8h.01M72.8 73.1h.01M77.8 48.4h.01M83.1 82.6h.01M83.8 76.6h.01M57.0 80.8h.01M33.1 55.3h.01M57.5 90.8h.01M28.5 84.2h.01M82.4 46.2h.01M66.2 61.8h.01M69.5 95.9h.01M45.1 93.5h.01M88.4 44.6h.01M26.6 82.7h.01M39.6 60.2h.01M42.4 93.9h.01M47.9 93.2h.01M63.1 69.8h.01M68.2 73.7h.01M69.2 77.0h.01M53.8 92.9h.01M56.9 58.4h.01M63.8 63.1h.01M53.2 101.0h.01M86.7 43.7h.01M79.7 78.9h.01M69.8 83.9h.01M84.2 54.0h.01M39.8 61.6h.01M88.2 43.6h.01M49.2 55.6h.01M66.0 51.4h.01M87.2 72.1h.01M61.9 71.3h.01M60.5 59.6h.01M61.6 64.4h.01M51.2 77.2h.01M68.6 66.4h.01M71.0 76.4h.01M38.8 60.5h.01M83.3 53.3h.01M88.1 61.6h.01M56.0 85.0h.01M47.9 77.5h.01M56.5 89.3h.01M50.0 73.4h.01M70.8 42.4h.01M40.4 78.6h.01M49.2 82.4h.01M31.3 81.6h.01M75.2 52.0h.01M28.9 80.8h.01M51.2 85.3h.01M75.5 95.6h.01M46.4 56.2h.01M79.9 46.3h.01M68.7 79.6h.01M47.1 78.3h.01M70.5 70.2h.01M60.1 55.4h.01M65.3 84.3h.01M71.0 53.2h.01M56.7 84.6h.01M79.9 86.8h.01M24.0 64.2h.01M41.4 61.7h.01M87.0 50.0h.01M67.0 82.7h.01M49.9 57.4h.01M39.2 87.5h.01M53.3 64.2h.01M44.9 83.7h.01M27.2 64.3h.01M68.3 52.5h.01M70.3 52.3h.01M89.7 55.5h.01M41.7 88.5h.01M66.8 95.5h.01M43.6 91.6h.01M81.6 77.7h.01M60.5 62.1h.01M49.2 58.5h.01M82.8 52.3h.01M91.4 65.3h.01M47.0 79.5h.01M74.0 45.5h.01M74.8 88.5h.01M77.7 50.8h.01M54.0 89.0h.01M86.3 49.2h.01M34.8 87.9h.01M89.1 74.4h.01M26.4 58.6h.01M29.8 80.1h.01M85.5 47.8h.01M69.2 86.6h.01M69.2 72.7h.01M47.3 66.1h.01M76.2 69.7h.01M59.1 75.3h.01M59.7 90.6h.01M41.9 69.3h.01M80.2 81.8h.01M49.1 72.1h.01M29.9 80.9h.01M59.3 83.8h.01M81.3 72.7h.01M60.4 69.3h.01M86.5 59.0h.01M32.1 78.6h.01M67.4 73.7h.01M72.0 64.3h.01M64.7 50.0h.01M25.8 58.2h.01M67.5 101.9h.01M51.1 95.0h.01M30.0 76.1h.01M80.0 52.9h.01M50.4 59.4h.01M80.3 42.9h.01M66.1 84.7h.01M63.8 67.3h.01M51.1 98.1h.01M68.4 59.6h.01M43.2 90.6h.01M42.6 63.5h.01M82.3 78.4h.01M37.5 57.1h.01M48.7 92.0h.01M75.6 49.9h.01M82.1 62.4h.01M41.6 84.0h.01M39.5 67.8h.01M42.6 73.8h.01M46.2 73.8h.01M85.3 68.5h.01M80.9 56.2h.01M82.4 46.6h.01M68.4 81.2h.01M83.7 60.4h.01M39.6 60.0h.01M44.3 63.6h.01M50.8 61.0h.01M57.9 50.3h.01M66.3 60.1h.01M24.8 59.1h.01M36.8 86.7h.01M42.7 69.2h.01M90.7 43.8h.01M45.4 69.7h.01M77.6 61.3h.01M65.3 73.8h.01M51.1 98.9h.01M77.7 70.4h.01M76.3 83.9h.01M54.1 63.6h.01M66.4 49.0h.01M68.5 100.2h.01M41.8 79.0h.01M38.7 77.5h.01M41.4 81.5h.01M85.0 50.4h.01M74.7 69.8h.01M82.0 50.8h.01M81.2 86.5h.01M80.0 60.0h.01M73.5 89.7h.01M37.7 56.7h.01M64.6 100.1h.01M82.6 87.5h.01M31.9 70.0h.01M79.6 87.3h.01M63.0 73.1h.01M66.4 51.1h.01M84.5 49.8h.01M74.1 73.6h.01M61.5 71.7h.01M57.1 66.4h.01M34.4 60.7h.01M31.5 66.6h.01M40.1 70.1h.01M68.2 94.5h.01M88.1 65.8h.01M54.1 96.6h.01M73.5 63.2h.01M72.6 81.9h.01M65.6 68.9h.01M89.5 63.0h.01M34.1 77.0h.01M57.4 50.6h.01M72.0 89.7h.01M39.0 74.3h.01M89.1 61.7h.01M68.6 61.4h.01M78.5 59.2h.01M52.5 80.1h.01M66.3 94.8h.01M53.2 68.3h.01M55.5 70.8h.01M82.7 65.7h.01M32.2 70.4h.01M81.3 65.9h.01M49.7 88.7h.01M78.6 51.0h.01M60.9 68.7h.01M78.4 92.0h.01M81.4 63.7h.01M38.1 80.9h.01M81.9 77.1h.01M23.9 65.4h.01M56.2 91.5h.01M42.0 65.0h.01M52.1 70.5h.01M78.5 77.1h.01M87.7 56.4h.01M45.2 90.5h.01M64.7 83.4h.01M51.6 87.3h.01M68.4 41.1h.01M78.2 90.6h.01M79.6 45.9h.01M44.7 80.8h.01M78.2 70.5h.01M75.8 52.5h.01M61.5 75.9h.01M32.3 72.3h.01M53.2 60.1h.01M86.7 70.4h.01M49.1 63.2h.01M54.6 60.5h.01M54.0 90.2h.01M76.6 83.5h.01M50.6 56.4h.01M35.9 84.2h.01M81.4 85.9h.01M60.8 92.8h.01M33.6 63.6h.01M31.7 72.2h.01M28.4 68.8h.01M57.6 56.1h.01M72.5 71.3h.01M44.7 75.7h.01M36.2 81.5h.01M86.0 86.1h.01M71.8 68.5h.01M72.0 43.5h.01M30.4 88.4h.01M76.7 47.5h.01M88.5 66.0h.01M63.4 50.4h.01M72.0 87.8h.01M49.8 83.7h.01M76.8 80.0h.01M82.7 64.4h.01M28.4 60.9h.01M45.5 86.6h.01M66.5 53.7h.01M50.5 60.9h.01M74.3 60.4h.01M69.3 70.2h.01M73.0 97.9h.01M26.2 74.0h.01M62.0 74.9h.01M79.2 59.5h.01M69.3 78.9h.01M46.2 85.3h.01M65.3 67.2h.01M68.5 51.5h.01M82.8 69.1h.01M53.6 89.4h.01M35.8 65.3h.01M27.0 77.2h.01M70.3 102.0h.01M88.3 49.7h.01M57.1 82.7h.01M66.0 54.4h.01M60.6 93.0h.01M49.3 84.4h.01M77.1 79.8h.01M47.2 60.9h.01M85.4 42.6h.01M79.1 68.5h.01M77.2 81.1h.01M79.2 54.6h.01M51.0 54.5h.01M76.2 93.8h.01M64.6 90.2h.01M55.7 81.6h.01M73.0 62.7h.01M84.1 82.8h.01M58.0 98.2h.01M61.3 66.5h.01M56.9 96.0h.01M36.6 83.2h.01M78.8 63.2h.01M45.5 66.3h.01M60.1 59.8h.01M73.2 54.2h.01M91.1 57.1h.01M69.5 60.9h.01M70.3 53.9h.01M83.2 46.5h.01M35.2 79.5h.01M39.5 84.0h.01M32.7 60.4h.01M30.6 75.6h.01M69.0 47.2h.01M73.8 48.5h.01M79.5 73.3h.01M25.4 76.1h.01M90.1 45.7h.01M86.6 51.0h.01M72.3 69.5h.01M50.4 79.9h.01M84.3 57.4h.01M48.4 70.7h.01M60.4 80.1h.01M71.6 81.8h.01M71.9 81.4h.01M71.2 47.3h.01M58.5 88.8h.01M73.6 52.5h.01M52.6 61.7h.01M37.3 89.9h.01M89.7 45.6h.01M74.8 76.3h.01M31.5 62.4h.01M82.5 72.3h.01M63.3 56.3h.01M24.0 69.4h.01M51.5 90.8h.01M71.2 64.7h.01M47.6 60.7h.01M80.4 71.2h.01M32.9 92.5h.01M70.8 79.0h.01M47.6 70.7h.01M35.0 66.4h.01M46.8 80.8h.01M58.4 92.7h.01M81.1 50.8h.01M72.7 57.5h.01M61.2 71.5h.01M64.3 71.3h.01M62.7 95.4h.01M40.9 67.5h.01M77.8 67.6h.01M47.0 93.9h.01M42.5 72.8h.01M64.5 83.7h.01M79.5 46.3h.01M32.8 63.3h.01M60.1 67.0h.01M60.4 66.2h.01M40.2 70.0h.01M89.8 63.6h.01M31.7 66.7h.01M65.8 60.3h.01M86.1 49.5h.01M37.8 81.7h.01M55.6 89.6h.01M83.5 50.8h.01M50.2 91.7h.01M68.1 68.6h.01M79.2 73.5h.01M29.0 84.6h.01M71.0 93.8h.01M41.6 78.9h.01M89.4 54.7h.01M32.8 62.2h.01M39.5 66.3h.01M26.9 73.7h.01M83.2 59.0h.01M45.1 62.0h.01M72.9 82.8h.01M38.1 55.9h.01M32.9 88.2h.01M49.0 58.7h.01M68.7 57.2h.01M62.4 54.9h.01M24.3 57.4h.01M87.4 51.8h.01M30.3 80.1h.01M48.4 69.8h.01M60.2 91.4h.01M38.6 89.9h.01M77.4 45.6h.01M53.8 80.9h.01M72.8 87.2h.01M45.1 78.2h.01M51.2 86.5h.01M77.4 85.4h.01M49.8 67.5h.01M56.1 66.1h.01M81.5 51.3h.01M85.6 44.4h.01M40.2 69.4h.01M34.0 65.8h.01M79.6 43.4h.01M35.0 68.7h.01M26.0 64.5h.01M65.6 56.7h.01M85.7 52.3h.01M80.1 54.3h.01M62.8 76.3h.01M86.6 56.8h.01M67.8 65.5h.01M71.9 58.0h.01M73.7 49.4h.01M74.1 77.8h.01M33.1 64.3h.01M65.2 96.8h.01M34.2 80.4h.01M52.5 73.2h.01M51.4 85.3h.01M73.7 77.9h.01M30.3 71.8h.01M42.5 74.9h.01M44.8 64.2h.01M59.8 99.1h.01M62.5 75.6h.01M53.1 75.7h.01M80.4 42.5h.01M49.1 52.2h.01M42.3 56.5h.01M83.9 50.0h.01M80.3 68.4h.01M33.7 85.4h.01M34.8 79.1h.01M51.3 87.5h.01M91.5 56.0h.01M65.2 50.6h.01M66.5 54.2h.01M45.2 74.4h.01M35.9 65.1h.01M64.8 98.8h.01M71.1 63.1h.01M76.9 55.5h.01M75.8 79.2h.01M46.3 80.6h.01M44.5 86.9h.01M41.3 64.9h.01M77.5 57.2h.01M82.1 86.6h.01M66.6 100.4h.01M50.2 92.8h.01M69.2 60.5h.01M63.4 88.9h.01M77.0 96.1h.01M85.7 42.3h.01M75.3 53.7h.01M57.7 74.3h.01M78.3 52.2h.01M31.9 87.8h.01M34.4 84.6h.01M66.5 78.6h.01M78.5 75.7h.01M26.5 75.6h.01M65.2 88.7h.01M40.3 77.8h.01M49.9 93.6h.01M75.0 38.4h.01M41.1 71.4h.01M50.5 63.9h.01M44.2 58.6h.01M26.2 82.8h.01M40.0 79.5h.01M61.7 55.6h.01M68.4 65.7h.01M84.2 53.9h.01M59.1 50.3h.01M26.1 68.3h.01M85.7 50.3h.01M35.0 74.4h.01M42.8 74.0h.01M55.5 68.5h.01M70.8 76.9h.01M55.9 75.3h.01M69.3 93.2h.01M54.3 94.5h.01M48.2 54.8h.01M46.5 87.2h.01M45.1 76.6h.01M63.3 63.3h.01M58.8 89.1h.01M52.9 92.6h.01M74.3 73.7h.01M76.0 54.6h.01M64.9 98.7h.01M42.1 68.3h.01M86.7 62.1h.01M50.8 85.1h.01M76.3 50.6h.01M66.4 96.6h.01M88.4 47.8h.01M82.6 79.2h.01M36.9 74.9h.01M56.9 72.7h.01M73.7 81.8h.01M30.8 57.8h.01M58.8 80.5h.01M43.6 74.9h.01M30.9 74.7h.01M39.3 75.8h.01M40.7 55.6h.01M45.7 82.9h.01M81.7 76.3h.01M66.0 86.8h.01M30.3 68.3h.01M85.5 46.1h.01M46.7 58.9h.01M67.9 51.7h.01M70.8 93.8h.01M28.6 71.1h.01M54.7 79.4h.01M45.5 84.7h.01M46.6 68.9h.01M55.1 96.7h.01M46.3 52.9h.01M68.0 91.0h.01M55.6 57.3h.01M87.7 64.7h.01M31.7 67.5h.01M26.2 68.2h.01M85.5 75.7h.01M71.7 77.7h.01M26.2 75.2h.01M47.4 93.8h.01M56.0 72.6h.01M68.8 61.6h.01M29.5 77.0h.01M69.2 64.3h.01M43.7 68.7h.01M72.2 91.2h.01M50.9 86.3h.01M56.9 79.5h.01M37.5 69.1h.01M80.3 68.6h.01M56.3 97.5h.01M76.9 92.2h.01M83.9 77.8h.01M65.9 80.2h.01M38.3 76.4h.01M55.4 75.0h.01M63.4 97.6h.01M55.0 78.0h.01M69.1 87.2h.01M84.9 56.5h.01M32.7 77.1h.01M38.2 62.3h.01M63.2 99.9h.01M57.7 78.4h.01M70.0 45.9h.01M87.5 75.6h.01M77.5 44.2h.01M47.0 78.1h.01M84.6 73.1h.01M32.2 66.4h.01M38.4 79.6h.01M67.6 87.1h.01M68.7 92.8h.01M82.2 85.0h.01M67.5 65.6h.01M35.8 78.0h.01M60.5 66.2h.01M38.0 82.4h.01M62.7 62.2h.01M51.0 79.7h.01M68.6 72.2h.01M50.7 63.0h.01M82.7 51.6h.01M74.0 95.6h.01M59.0 60.2h.01M48.0 79.2h.01M51.9 69.4h.01M36.2 90.1h.01M31.5 81.0h.01M82.3 66.9h.01M58.5 100.2h.01M38.1 76.0h.01M36.1 81.3h.01M54.6 75.2h.01M34.8 66.5h.01M68.4 46.1h.01M51.8 78.3h.01M63.5 59.1h.01M50.9 99.2h.01M57.1 68.8h.01M52.8 61.6h.01M37.1 85.4h.01M37.7 60.5h.01M80.6 44.0h.01M78.8 52.9h.01M59.6 84.6h.01M66.6 86.3h.01M80.5 66.9h.01M36.6 80.7h.01M67.4 74.5h.01M68.1 45.7h.01M47.5 87.0h.01M50.0 89.8h.01M60.7 74.9h.01M58.2 96.4h.01M67.9 73.2h.01M26.3 60.4h.01M28.5 88.6h.01M66.7 77.4h.01M69.4 81.8h.01M37.1 64.2h.01M37.7 72.9h.01M38.8 80.3h.01M59.2 58.7h.01M52.7 82.7h.01M82.4 46.9h.01M60.2 74.9h.01M77.4 86.3h.01M61.4 98.0h.01M57.9 87.8h.01M25.7 77.0h.01M65.3 100.3h.01M62.0 99.8h.01M29.8 83.8h.01M67.5 95.4h.01M69.9 46.8h.01M43.5 91.3h.01M64.4 82.1h.01M43.1 61.4h.01M38.7 67.5h.01M24.0 58.9h.01M69.9 83.1h.01M30.5 76.1h.01M75.4 57.0h.01M58.2 83.5h.01M54.1 95.7h.01M63.4 65.2h.01M74.4 65.0h.01M59.2 55.8h.01M59.6 100.9h.01M60.7 94.4h.01M84.0 81.5h.01M28.2 60.8h.01M76.5 80.4h.01M26.2 71.9h.01M59.3 52.1h.01M66.9 86.4h.01M24.7 67.4h.01M85.1 72.6h.01M38.6 77.0h.01M60.0 60.2h.01M46.0 78.1h.01M43.3 68.0h.01M51.6 71.3h.01M45.8 85.9h.01M43.8 76.7h.01M66.0 78.6h.01M32.3 68.5h.01M81.4 80.2h.01M63.2 71.9h.01M28.5 68.8h.01M83.5 78.2h.01M25.4 62.3h.01M64.6 93.4h.01M67.3 51.4h.01M90.8 74.2h.01M56.3 75.0h.01M39.0 62.4h.01M63.6 78.8h.01M82.8 44.7h.01M29.2 83.8h.01M51.0 85.0h.01M47.1 90.3h.01M67.1 74.3h.01M44.9 70.0h.01M70.0 79.9h.01M86.8 65.4h.01M43.4 86.1h.01M85.9 76.2h.01M72.9 85.3h.01M69.4 100.5h.01M37.3 87.5h.01M44.9 69.5h.01M81.7 73.6h.01M36.7 82.7h.01M90.8 64.6h.01M69.1 45.4h.01M27.4 81.0h.01M50.8 70.0h.01M63.4 63.2h.01M52.7 62.1h.01M42.9 58.7h.01M36.1 85.9h.01M46.5 79.7h.01M41.3 66.8h.01M56.9 88.8h.01M83.2 61.4h.01M86.8 50.7h.01M68.1 66.4h.01M35.0 59.1h.01M58.3 71.5h.01M46.2 79.4h.01M81.1 64.6h.01M37.3 89.7h.01M56.6 91.7h.01M64.2 63.9h.01M44.4 67.0h.01M45.1 92.2h.01M66.0 64.4h.01M56.9 58.4h.01M69.7 71.4h.01M31.7 80.4h.01M72.2 84.9h.01M81.1 50.9h.01M41.0 59.3h.01M79.0 69.1h.01M46.9 70.1h.01M34.0 71.6h.01M37.8 59.8h.01M70.7 54.7h.01M42.9 78.6h.01M79.7 46.7h.01M63.4 85.7h.01M72.9 50.7h.01M88.7 48.2h.01M81.6 75.9h.01M60.8 52.3h.01M38.1 78.8h.01M33.3 79.5h.01M41.1 62.4h.01M77.6 84.9h.01M81.2 45.7h.01M63.9 85.0h.01M32.2 71.6h.01M61.5 84.7h.01M53.9 81.2h.01M67.8 88.3h.01M59.8 61.9h.01M66.9 51.4h.01M35.3 62.8h.01M81.5 36.7h.01M41.8 73.9h.01M62.8 56.2h.01M85.8 87.6h.01M28.9 59.3h.01M32.2 54.7h.01M39.5 89.0h.01M51.7 93.5h.01M70.5 72.3h.01M69.9 55.5h.01M58.1 81.0h.01M85.6 47.5h.01M67.6 47.4h.01M88.4 62.2h.01M41.6 69.4h.01M41.1 91.8h.01M51.0 57.8h.01M80.7 48.7h.01M50.3 87.5h.01M67.4 90.2h.01M36.6 60.9h.01M82.7 71.4h.01M36.7 91.8h.01M40.7 90.3h.01M65.7 69.7h.01M42.4 83.3h.01M25.7 80.8h.01M59.6 49.4h.01M27.4 73.5h.01M49.1 73.0h.01M40.5 90.1h.01M67.5 45.2h.01M71.5 90.9h.01M52.9 70.4h.01M56.4 73.3h.01M44.2 76.8h.01M31.1 75.3h.01M83.7 84.8h.01M72.9 72.5h.01M57.4 83.0h.01M75.3 63.5h.01M30.5 84.6h.01M76.0 90.1h.01M89.1 62.1h.01M60.7 95.3h.01M57.4 92.9h.01M77.7 72.7h.01M25.0 59.2h.01M63.4 68.8h.01M74.9 49.3h.01M24.6 76.9h.01M62.0 77.5h.01M59.6 70.0h.01M48.8 87.2h.01M59.4 86.7h.01M62.6 81.1h.01M67.2 84.7h.01M88.2 66.1h.01M66.7 53.2h.01M69.0 69.8h.01M31.9 85.3h.01M27.3 69.3h.01M42.9 85.5h.01M71.8 54.3h.01M67.4 45.0h.01M63.0 99.3h.01M48.1 76.9h.01M55.5 60.9h.01M83.2 62.3h.01M77.9 52.9h.01M62.8 88.0h.01M43.3 67.8h.01M45.7 84.7h.01M80.8 51.7h.01M67.8 60.0h.01M75.8 100.3h.01M81.8 83.3h.01M79.3 83.2h.01M45.7 76.4h.01M63.2 58.7h.01M41.1 80.2h.01M35.3 62.6h.01M34.2 83.9h.01M35.0 76.8h.01M35.4 92.1h.01M68.9 93.9h.01M54.9 64.5h.01M69.7 75.8h.01M37.8 77.7h.01M62.4 92.1h.01M31.2 77.0h.01M80.2 67.7h.01M41.2 94.8h.01M61.4 93.8h.01M80.4 57.7h.01M44.3 68.3h.01M64.8 96.7h.01M46.6 96.5h.01M76.6 59.0h.01M36.4 76.6h.01M60.9 87.7h.01M81.6 41.7h.01M48.1 60.5h.01M59.3 55.9h.01M71.0 72.0h.01M69.6 50.2h.01M37.9 71.0h.01M50.8 92.3h.01M46.3 85.9h.01M49.1 57.5h.01M88.1 43.0h.01M88.7 57.2h.01M25.4 78.5h.01M33.3 79.9h.01M43.9 59.1h.01M83.9 77.6h.01M86.8 86.4h.01M90.7 54.1h.01M84.3 74.0h.01M28.7 67.5h.01M83.2 49.1h.01M70.8 56.9h.01M59.4 93.0h.01M89.1 73.0h.01M84.1 73.5h.01M57.7 98.1h.01M58.5 75.7h.01M31.9 87.4h.01M50.7 65.1h.01M51.4 58.2h.01M27.4 83.2h.01M54.0 83.9h.01M86.1 49.3h.01M87.5 53.7h.01M34.5 82.1h.01M56.5 49.9h.01M50.8 97.5h.01M54.4 63.8h.01M34.1 62.9h.01M43.6 92.1h.01M83.1 88.5h.01M56.3 84.5h.01M65.2 61.6h.01M56.1 79.5h.01M38.8 87.2h.01M60.7 64.0h.01M57.9 97.9h.01M43.4 75.9h.01M40.0 87.1h.01M71.2 70.2h.01M43.3 73.1h.01M44.0 55.5h.01M49.8 64.1h.01M47.4 82.4h.01M69.3 61.0h.01M38.2 59.4h.01M78.4 78.6h.01M43.6 58.5h.01M29.5 87.1h.01M81.9 68.0h.01M46.7 87.8h.01M71.7 87.6h.01M71.4 66.7h.01M41.1 57.3h.01M64.9 68.5h.01M35.3 79.7h.01M59.5 99.8h.01M33.8 86.6h.01M53.0 72.7h.01M35.3 58.4h.01M34.9 68.5h.01M59.3 61.2h.01M57.6 95.7h.01M66.7 55.5h.01M84.6 63.0h.01M72.9 55.2h.01M56.0 91.4h.01M67.4 50.3h.01M80.1 58.4h.01M60.7 92.1h.01M79.0 64.0h.01M85.1 52.8h.01M40.6 69.7h.01M87.7 51.3h.01M76.1 72.0h.01M50.5 64.6h.01M79.1 48.5h.01M42.8 78.0h.01M32.2 66.1h.01M71.8 65.6h.01M56.7 91.5h.01M68.9 50.8h.01M43.3 60.5h.01M73.0 43.5h.01M46.5 91.8h.01M82.2 47.5h.01M78.7 51.3h.01M84.7 82.6h.01M62.4 95.6h.01M42.8 81.4h.01M51.5 65.9h.01M44.2 57.6h.01M27.4 62.7h.01M79.0 75.9h.01M84.2 59.5h.01M76.0 49.4h.01M34.6 83.2h.01M84.8 50.6h.01M72.6 66.4h.01M82.9 81.1h.01M79.9 44.9h.01M29.2 66.5h.01M31.1 72.1h.01M48.1 66.1h.01M79.7 62.4h.01M56.0 88.7h.01M45.6 61.5h.01M33.3 65.1h.01M63.8 68.9h.01M78.1 69.2h.01M78.8 52.0h.01M82.1 86.4h.01M40.4 84.5h.01M28.7 73.2h.01M42.3 79.9h.01M78.5 79.9h.01M26.5 80.2h.01M36.4 79.4h.01M77.2 72.3h.01M75.7 70.0h.01M74.4 46.5h.01M64.1 84.5h.01M69.2 74.1h.01M62.8 61.8h.01M47.8 74.7h.01M58.1 71.3h.01M40.9 78.4h.01M30.6 67.9h.01M51.9 86.5h.01M41.7 85.9h.01M90.1 69.3h.01M54.1 102.8h.01M26.8 83.2h.01M30.3 80.5h.01M66.7 55.2h.01M86.3 81.8h.01M77.4 81.0h.01M69.5 84.8h.01M62.3 74.3h.01M54.4 67.5h.01M41.8 81.2h.01M66.7 58.0h.01M35.7 80.9h.01M85.1 51.7h.01M65.9 95.9h.01M58.4 77.5h.01M37.3 75.4h.01M49.3 88.1h.01M58.8 83.4h.01M52.7 74.7h.01M82.7 71.0h.01M72.8 64.4h.01M44.8 71.7h.01M41.7 78.2h.01M35.2 88.6h.01M75.9 69.8h.01M54.5 90.1h.01M79.9 47.8h.01M26.1 61.7h.01M86.9 58.3h.01M31.7 63.5h.01M57.0 86.7h.01M60.0 76.4h.01M67.1 92.9h.01M35.8 93.3h.01M57.5 101.1h.01M54.0 78.3h.01M30.6 66.1h.01M39.6 76.1h.01M57.3 68.9h.01M25.7 69.5h.01M78.7 67.8h.01M72.1 87.7h.01M40.1 85.3h.01M89.2 55.3h.01M35.8 61.1h.01M29.9 63.7h.01M53.7 92.1h.01M25.9 66.6h.01M67.0 63.0h.01M56.3 102.3h.01M68.1 64.9h.01M52.5 66.9h.01M86.1 49.5h.01M71.4 86.0h.01M42.0 86.1h.01M31.2 65.9h.01M44.4 95.3h.01M40.1 81.2h.01M85.8 70.0h.01M60.6 96.1h.01M60.5 94.9h.01M67.4 77.7h.01M33.7 89.5h.01M38.9 80.2h.01M71.3 69.8h.01M45.5 73.3h.01M85.6 90.8h.01M68.5 49.7h.01M78.6 56.2h.01M45.1 79.1h.01M68.8 70.7h.01M33.7 66.8h.01M72.1 70.8h.01M36.6 80.5h.01M47.7 91.8h.01M45.9 90.0h.01M71.4 96.7h.01M87.7 72.9h.01M52.7 88.8h.01M26.2 63.8h.01M24.8 73.6h.01M68.3 78.0h.01M77.9 41.2h.01M63.1 77.7h.01M70.6 66.5h.01M65.1 80.5h.01M71.6 82.3h.01M81.2 71.2h.01M43.5 91.8h.01M25.7 83.7h.01M81.1 64.4h.01M96.0 71.1h.01M74.0 50.6h.01M48.9 79.9h.01M78.4 50.4h.01M59.1 92.2h.01M69.8 70.2h.01M87.7 85.7h.01M60.0 91.9h.01M50.8 90.9h.01M48.2 88.7h.01M73.6 63.4h.01M71.4 52.8h.01M61.5 78.8h.01M77.9 62.3h.01M63.6 58.2h.01M75.3 46.6h.01M81.5 67.1h.01M44.6 89.6h.01M73.5 89.1h.01M68.0 84.1h.01M80.3 50.3h.01M49.0 88.7h.01M64.0 72.5h.01M47.8 63.5h.01M58.9 76.2h.01M85.2 48.3h.01M42.3 59.8h.01M64.7 45.8h.01M87.0 65.9h.01M82.8 42.4h.01M75.3 82.7h.01M84.2 84.6h.01M86.6 80.5h.01M39.9 57.8h.01M66.1 59.9h.01M61.4 78.0h.01M72.9 53.8h.01M73.6 73.1h.01M78.4 62.3h.01M39.3 67.2h.01M32.8 86.6h.01M79.3 50.1h.01M42.9 72.3h.01M36.2 60.2h.01M76.1 79.6h.01M67.0 100.2h.01M82.0 49.9h.01M77.3 70.2h.01M84.0 60.9h.01M46.0 61.7h.01M67.1 72.9h.01M61.2 89.2h.01M75.2 52.7h.01M80.0 92.9h.01M44.7 85.7h.01M29.8 75.3h.01M74.9 95.9h.01M67.9 77.2h.01M40.1 92.5h.01M40.4 76.5h.01M45.9 52.7h.01M38.4 77.8h.01M26.1 84.4h.01M37.9 82.7h.01M45.5 68.6h.01M32.1 87.3h.01M39.3 60.7h.01M50.1 65.8h.01M32.7 72.8h.01M65.3 98.2h.01M51.6 61.6h.01M63.6 78.4h.01M75.5 48.7h.01M67.6 50.0h.01M83.6 75.1h.01M27.2 84.6h.01M24.5 84.0h.01M57.6 78.2h.01M68.3 81.2h.01M37.5 53.6h.01M58.5 79.2h.01M35.9 60.7h.01M85.1 43.9h.01M51.0 70.8h.01M73.1 61.9h.01M47.9 72.3h.01M55.2 67.5h.01M75.4 42.4h.01M83.4 61.2h.01M54.0 60.8h.01M62.8 65.3h.01M28.8 82.6h.01M74.9 59.2h.01M35.1 80.7h.01M38.9 74.5h.01M43.8 83.6h.01M24.2 58.3h.01M83.7 83.4h.01M81.4 59.1h.01M24.4 89.0h.01M52.1 73.7h.01M63.7 99.9h.01M44.3 79.3h.01M79.7 86.4h.01M39.2 88.9h.01M65.2 82.4h.01M54.8 71.0h.01M57.7 87.3h.01M59.7 87.7h.01M64.0 93.6h.01M89.3 66.4h.01M37.9 87.2h.01M46.8 68.6h.01M41.0 63.3h.01M44.5 81.7h.01M27.5 62.4h.01M24.4 62.8h.01M57.5 92.9h.01M80.7 62.0h.01M30.5 64.5h.01M37.2 69.8h.01M76.8 52.9h.01M36.3 84.2h.01M81.1 53.7h.01M63.3 79.8h.01M43.3 62.8h.01M88.2 82.1h.01M36.3 83.5h.01M73.8 70.0h.01M35.5 58.5h.01M43.6 58.0h.01M73.2 65.2h.01M74.3 93.1h.01M77.0 62.4h.01M47.9 74.3h.01M36.3 91.2h.01M50.8 58.1h.01M87.2 64.5h.01M57.6 84.7h.01M62.9 96.6h.01M81.4 71.9h.01M60.0 54.2h.01M37.4 63.6h.01M74.1 57.3h.01M52.1 69.9h.01M70.9 65.5h.01M36.6 68.9h.01M85.7 51.1h.01M38.3 64.6h.01M78.5 57.6h.01M84.6 69.7h.01M28.0 86.5h.01M82.5 40.6h.01M43.1 88.7h.01M43.9 53.1h.01M57.4 82.3h.01M67.3 78.5h.01M74.1 54.7h.01M70.4 61.9h.01M47.4 92.9h.01M43.0 79.9h.01M77.6 54.1h.01M86.4 60.1h.01M36.3 71.6h.01M81.8 41.2h.01M69.7 66.0h.01M45.8 64.6h.01M72.8 86.5h.01M41.4 62.2h.01M64.2 53.2h.01M52.1 93.1h.01M81.1 46.5h.01M56.1 77.3h.01M72.5 55.0h.01M61.1 75.0h.01M33.6 65.0h.01M82.0 82.4h.01M81.1 67.8h.01M70.1 69.8h.01M92.2 70.8h.01M51.8 73.3h.01M78.2 63.2h.01M80.4 48.5h.01M55.8 68.5h.01M66.1 91.1h.01M74.3 74.6h.01M44.6 81.0h.01M85.7 61.9h.01M33.7 81.9h.01M75.8 58.7h.01M55.5 65.1h.01M75.8 95.4h.01M37.8 62.9h.01M82.4 81.3h.01M55.9 58.3h.01M86.8 45.6h.01M44.8 58.2h.01M83.4 45.4h.01M39.3 75.7h.01M52.6 73.7h.01M62.3 90.1h.01M68.3 66.5h.01M41.1 60.8h.01M70.2 89.1h.01M54.7 85.3h.01M59.1 72.2h.01M41.0 74.7h.01M83.3 84.9h.01M86.3 51.0h.01M74.8 80.2h.01M41.3 70.7h.01M26.7 61.8h.01M70.5 89.6h.01M46.4 59.1h.01M49.7 84.3h.01M45.2 86.9h.01M40.2 91.6h.01M43.0 89.6h.01M65.4 77.2h.01M48.9 95.6h.01M38.6 79.5h.01M81.1 42.6h.01M44.1 84.0h.01M38.1 64.3h.01M89.0 56.7h.01M68.3 98.2h.01M66.7 52.3h.01M80.7 90.2h.01M39.5 69.8h.01M68.7 83.0h.01M68.1 46.7h.01M65.7 46.0h.01M38.4 66.4h.01M66.9 97.6h.01M41.3 76.7h.01M70.5 74.2h.01M34.0 59.8h.01M32.9 74.6h.01M28.4 73.5h.01M74.7 82.2h.01M77.4 57.0h.01M29.7 64.5h.01M56.6 90.8h.01M82.9 61.1h.01M29.1 76.0h.01M76.1 70.9h.01M61.9 58.1h.01M71.3 96.6h.01M77.5 68.3h.01M60.5 86.1h.01M41.7 80.4h.01M34.3 74.0h.01M40.4 60.1h.01M66.8 87.9h.01M74.9 95.2h.01M81.5 45.1h.01M86.8 42.6h.01M43.9 93.6h.01M37.3 77.2h.01M59.5 64.2h.01M75.9 98.4h.01M51.6 65.9h.01M36.9 60.5h.01M81.8 72.1h.01M92.4 77.8h.01M75.3 91.4h.01M46.2 56.3h.01M67.4 93.3h.01M84.7 44.7h.01M51.8 63.6h.01M74.6 88.9h.01M62.7 77.6h.01M57.4 58.8h.01M55.3 69.1h.01M41.0 63.1h.01M77.5 91.0h.01M56.5 59.4h.01M64.7 89.9h.01M27.4 85.7h.01M89.4 53.1h.01M33.2 66.6h.01M68.4 69.6h.01M59.8 60.5h.01M75.5 52.5h.01M67.0 96.1h.01M38.6 66.6h.01M74.0 46.7h.01M67.5 78.6h.01M62.9 91.4h.01M73.4 56.5h.01M33.0 83.2h.01M66.7 75.6h.01M80.9 68.4h.01M49.1 88.0h.01M53.9 85.0h.01M62.2 86.9h.01M83.1 80.2h.01M66.2 54.3h.01M42.6 81.5h.01M67.5 74.0h.01M48.0 79.9h.01M60.9 88.1h.01M32.3 56.3h.01M59.8 97.7h.01M60.5 62.9h.01M65.5 61.2h.01M59.8 74.4h.01M62.5 96.9h.01M72.1 84.1h.01M72.1 58.3h.01M66.2 80.6h.01M70.7 98.0h.01M50.8 70.8h.01M32.3 72.6h.01M81.8 54.3h.01M86.7 72.9h.01M82.6 81.8h.01M61.2 74.7h.01M74.2 80.3h.01M30.3 62.5h.01M36.5 72.8h.01M48.7 84.5h.01M70.1 99.6h.01M61.6 73.8h.01M82.7 91.3h.01M75.6 55.9h.01M63.6 102.1h.01M35.2 87.1h.01M57.7 79.8h.01M81.2 80.6h.01M79.4 58.2h.01M65.5 56.3h.01M39.1 85.1h.01M69.4 61.4h.01M42.5 91.3h.01M39.1 73.9h.01M44.8 58.8h.01M52.6 66.9h.01M54.1 56.0h.01M72.0 78.6h.01M62.2 58.4h.01M79.8 78.1h.01M65.8 88.9h.01M38.4 55.7h.01M79.5 64.3h.01M65.0 73.6h.01M80.6 48.0h.01M59.5 89.0h.01M81.0 46.2h.01M57.3 61.2h.01M82.2 65.1h.01M30.7 78.9h.01M67.9 61.0h.01M47.9 88.7h.01M64.6 94.6h.01M64.0 82.2h.01M79.0 45.2h.01M85.4 45.2h.01M34.9 88.6h.01M82.3 70.9h.01M29.6 71.0h.01M43.5 79.0h.01M43.9 72.2h.01M70.9 57.8h.01M77.1 41.2h.01M89.0 63.2h.01M63.2 100.0h.01M67.1 47.1h.01M77.8 68.4h.01M40.8 77.4h.01M26.0 83.4h.01M82.5 75.9h.01M34.9 87.7h.01M46.1 69.0h.01M56.9 87.6h.01M46.6 70.8h.01M29.9 57.3h.01M53.5 66.8h.01M38.9 72.7h.01M76.7 73.3h.01M50.2 65.6h.01M26.2 75.2h.01M81.8 70.5h.01M29.0 80.1h.01M43.2 86.0h.01M38.4 65.1h.01M28.8 78.7h.01M32.7 86.6h.01M36.8 68.7h.01M68.5 80.1h.01M34.4 76.3h.01M28.1 68.8h.01M60.3 65.5h.01M82.2 63.5h.01M82.4 94.3h.01M57.3 90.7h.01M78.9 55.6h.01M73.8 92.3h.01M62.3 60.0h.01M76.7 90.0h.01M76.9 98.9h.01M58.1 64.5h.01M72.3 99.3h.01M77.9 54.8h.01M27.4 65.5h.01M75.2 52.7h.01M63.2 82.1h.01M78.9 81.6h.01M29.3 89.5h.01M71.5 67.5h.01M46.6 69.6h.01M46.7 72.8h.01M65.5 72.3h.01M27.4 57.0h.01M81.6 73.2h.01M43.9 62.3h.01M47.5 57.4h.01M28.3 71.0h.01M84.6 67.1h.01M77.8 58.9h.01M44.5 85.2h.01M44.7 82.6h.01M66.0 85.0h.01M86.9 64.7h.01M77.9 60.0h.01M55.6 78.6h.01M29.5 83.7h.01M52.7 81.4h.01M38.1 72.5h.01M53.1 90.2h.01M85.3 63.0h.01M80.1 68.8h.01M68.9 79.4h.01M41.0 85.2h.01M67.9 94.5h.01M57.5 67.2h.01M38.5 92.6h.01M52.4 66.4h.01M79.5 66.9h.01M71.5 49.0h.01M86.9 74.1h.01M65.5 86.2h.01M31.5 56.6h.01M84.4 54.7h.01M41.0 77.4h.01M63.6 81.1h.01M81.4 63.7h.01M81.2 76.9h.01M73.9 59.6h.01M71.2 71.6h.01M48.4 89.2h.01M28.2 84.3h.01M66.0 89.9h.01M82.0 57.3h.01M30.7 78.4h.01M59.6 88.6h.01M24.9 83.2h.01M69.6 79.6h.01M78.9 76.2h.01M41.3 62.8h.01M24.9 63.9h.01M75.0 90.3h.01M54.6 96.8h.01M88.1 46.5h.01M66.8 86.1h.01M63.7 78.5h.01M38.2 58.5h.01M42.7 58.0h.01M92.8 46.4h.01M89.4 70.4h.01M81.9 81.0h.01M68.2 99.9h.01M40.4 55.8h.01M72.5 69.9h.01M90.1 47.5h.01M91.3 50.6h.01M43.9 72.4h.01M46.8 62.7h.01M80.9 50.1h.01M54.2 72.1h.01M79.6 92.8h.01M60.7 79.3h.01M74.6 49.0h.01M26.8 70.5h.01M27.0 65.9h.01M80.1 49.1h.01M82.2 85.9h.01M73.0 83.6h.01M61.8 62.8h.01M83.0 55.2h.01M70.3 68.5h.01M66.4 82.5h.01M82.6 67.1h.01M38.0 80.5h.01M63.4 62.0h.01M73.0 77.4h.01M74.2 89.5h.01M33.2 66.5h.01M73.9 71.6h.01M82.6 44.2h.01M33.8 79.5h.01M86.5 48.4h.01M43.1 71.5h.01M48.6 87.1h.01M74.2 60.7h.01M67.9 49.5h.01M35.6 67.8h.01M77.6 61.4h.01M79.6 87.2h.01M27.9 79.8h.01M58.0 97.1h.01M74.1 63.6h.01M45.6 66.3h.01M25.5 84.6h.01M87.6 51.8h.01M36.7 58.8h.01M68.9 66.8h.01M42.2 90.2h.01M33.0 54.3h.01M47.7 84.3h.01M42.0 60.8h.01M81.3 57.7h.01M77.2 85.5h.01M53.2 62.4h.01M91.5 55.0h.01M68.7 90.5h.01M79.8 87.7h.01M64.8 57.5h.01M80.0 77.3h.01M75.0 60.9h.01M83.7 48.5h.01M46.1 88.9h.01M49.7 80.5h.01M83.7 47.4h.01M81.2 47.1h.01M52.6 95.0h.01M35.3 60.2h.01M89.5 46.4h.01M69.9 72.4h.01M86.4 54.2h.01M60.3 99.7h.01M72.2 50.6h.01M86.4 61.4h.01M76.2 50.7h.01M46.7 93.6h.01M60.3 89.5h.01M56.1 70.9h.01M77.5 85.9h.01M54.7 92.1h.01M75.8 94.4h.01M28.6 70.2h.01M27.5 78.7h.01M51.2 59.7h.01M50.5 86.4h.01M31.6 84.2h.01M82.3 69.0h.01M78.2 54.1h.01M48.6 66.3h.01M53.7 90.4h.01M37.1 76.6h.01M51.7 66.2h.01M61.2 56.9h.01M73.9 85.2h.01M81.7 79.3h.01M69.9 54.5h.01M43.3 90.0h.01M58.9 91.3h.01M50.5 70.6h.01M42.3 56.2h.01M46.3 80.3h.01M39.3 88.0h.01M55.9 66.3h.01M30.1 71.0h.01M60.7 86.4h.01M51.1 98.1h.01M40.2 85.5h.01M87.9 46.3h.01M61.1 57.1h.01M26.9 85.7h.01M59.9 49.3h.01M74.3 82.7h.01M32.3 87.4h.01M47.6 81.2h.01M38.6 93.3h.01M62.1 80.8h.01M79.8 69.2h.01M31.9 64.5h.01M65.1 73.7h.01M24.3 74.9h.01M57.0 62.8h.01M73.3 57.3h.01M68.4 46.1h.01M37.1 78.4h.01M56.1 57.1h.01M34.1 63.6h.01M33.5 80.4h.01M86.4 43.7h.01M28.4 77.8h.01M78.3 79.3h.01M29.7 61.8h.01M45.1 60.8h.01M53.1 87.3h.01M73.9 92.3h.01M49.0 73.7h.01M80.0 52.9h.01M41.2 88.3h.01M65.3 52.3h.01M88.8 66.6h.01M35.1 63.5h.01M73.5 91.0h.01M31.1 88.8h.01M45.7 92.5h.01M74.9 88.3h.01M58.0 61.9h.01M29.1 55.2h.01M69.7 73.2h.01M28.9 64.6h.01M70.7 73.7h.01M66.8 77.6h.01M31.8 89.2h.01M74.3 95.7h.01M42.9 68.6h.01M59.4 63.1h.01M63.6 90.2h.01M50.0 81.4h.01M79.2 44.9h.01M80.7 53.9h.01M63.8 55.7h.01M79.3 38.5h.01M81.5 65.2h.01M78.5 95.7h.01M48.3 92.0h.01M73.6 56.1h.01M85.8 46.1h.01M68.0 61.3h.01M64.1 46.6h.01M24.6 63.4h.01M68.1 87.1h.01M80.7 82.8h.01M58.0 90.3h.01M86.4 76.6h.01M62.1 53.1h.01M87.7 63.3h.01M61.6 53.3h.01M39.7 60.5h.01M59.8 85.7h.01M38.7 66.8h.01M46.7 75.0h.01M37.5 80.0h.01M67.4 49.4h.01M63.9 88.0h.01M64.4 61.9h.01M83.9 48.2h.01M63.6 55.3h.01M83.2 74.2h.01M60.6 94.8h.01M82.0 43.1h.01M83.8 72.2h.01M59.6 66.8h.01M27.7 81.7h.01M71.7 57.7h.01M60.0 64.8h.01M73.3 94.0h.01M69.0 56.9h.01M73.7 86.1h.01M24.6 89.6h.01M47.8 64.6h.01M25.6 87.9h.01M30.1 68.1h.01M37.7 63.2h.01M77.1 96.1h.01M68.9 57.2h.01M64.9 94.6h.01M57.4 85.3h.01M27.4 79.0h.01M85.7 62.1h.01M62.1 70.8h.01M75.9 73.1h.01M75.4 64.4h.01M42.9 61.3h.01M79.6 64.1h.01M65.5 53.6h.01M33.4 91.5h.01M61.4 95.9h.01M89.8 51.9h.01M76.6 38.1h.01M33.6 61.2h.01M44.4 69.5h.01M33.7 73.0h.01M70.2 87.5h.01M44.0 93.3h.01M50.2 64.6h.01M50.9 93.5h.01M68.4 75.0h.01M69.7 90.6h.01M87.9 72.3h.01M77.7 82.7h.01M29.5 84.5h.01M30.3 73.7h.01M41.9 83.4h.01M30.6 73.2h.01M63.9 87.5h.01M35.3 78.7h.01M25.0 85.0h.01M67.4 58.3h.01M51.3 90.1h.01M42.9 65.6h.01M50.8 95.3h.01M77.3 77.4h.01M66.4 74.9h.01M64.3 83.3h.01M81.5 48.2h.01M38.2 91.9h.01M38.9 86.2h.01M74.5 93.9h.01M32.3 70.4h.01M60.6 88.0h.01M71.0 73.5h.01M82.0 56.0h.01M80.0 60.1h.01M87.6 55.8h.01M80.6 49.0h.01M63.8 93.2h.01M50.7 93.9h.01M63.5 91.7h.01M50.5 58.7h.01M64.8 57.1h.01M57.3 70.2h.01M36.1 79.8h.01M69.5 92.5h.01M32.8 76.5h.01M70.2 91.4h.01M92.9 63.0h.01M70.4 57.6h.01M36.4 70.2h.01M58.6 73.4h.01M44.3 77.6h.01M52.1 72.6h.01M25.6 58.4h.01M66.9 75.0h.01M52.0 77.2h.01M38.9 71.9h.01M63.1 100.8h.01M57.2 54.8h.01M28.5 64.6h.01M28.1 67.8h.01M88.5 55.0h.01M83.5 42.7h.01M38.3 78.0h.01M72.4 64.5h.01M80.6 90.6h.01M63.1 69.7h.01M39.8 96.9h.01M44.3 61.5h.01M79.7 59.4h.01M32.0 64.6h.01M86.7 39.1h.01M48.8 71.7h.01M32.5 73.4h.01M73.5 92.5h.01M77.9 61.4h.01M83.5 81.8h.01M88.7 52.2h.01M86.0 47.9h.01M36.6 63.6h.01M63.3 54.4h.01M68.8 82.2h.01M26.2 63.8h.01M40.3 79.8h.01M53.8 73.9h.01M84.4 86.6h.01M80.4 47.8h.01M38.7 86.1h.01M65.6 89.4h.01M63.2 69.3h.01M91.7 41.8h.01M67.1 60.9h.01M36.0 70.9h.01M68.1 55.3h.01M62.3 69.2h.01M82.7 68.8h.01M33.6 95.0h.01M74.3 54.5h.01M65.3 91.8h.01M62.5 95.9h.01M69.7 99.1h.01M73.3 40.8h.01M73.9 58.9h.01M72.1 57.9h.01M88.9 57.4h.01M67.4 49.6h.01M60.5 64.5h.01M60.4 69.5h.01M82.8 82.9h.01M69.9 62.9h.01M73.3 83.4h.01M76.0 66.8h.01M27.7 74.4h.01M44.6 49.3h.01M41.9 84.1h.01M25.2 75.2h.01M87.2 67.8h.01M70.7 69.6h.01M76.6 55.1h.01M76.6 51.3h.01M89.7 74.0h.01M48.9 71.3h.01M44.1 62.6h.01M69.0 49.2h.01M87.5 72.2h.01M50.4 85.7h.01M52.9 66.3h.01M70.1 97.0h.01M82.0 40.0h.01M33.9 70.4h.01M74.7 66.7h.01M61.2 53.6h.01M41.0 81.0h.01M29.0 82.7h.01M90.8 63.4h.01M66.7 84.2h.01M70.4 61.3h.01M71.3 52.6h.01M36.6 75.6h.01M61.1 93.8h.01M67.4 90.2h.01M58.9 85.0h.01M93.3 45.9h.01M30.6 82.6h.01M74.7 68.9h.01M64.8 50.9h.01M66.6 56.5h.01M39.9 79.0h.01M95.9 64.2h.01M68.6 93.2h.01M56.8 83.5h.01M71.6 47.5h.01M33.1 88.2h.01M38.4 86.8h.01M52.7 95.9h.01M77.5 71.4h.01M83.3 64.8h.01M53.6 52.1h.01M73.7 46.2h.01M53.4 61.8h.01M52.5 56.0h.01M63.1 80.0h.01M38.1 91.5h.01M75.7 45.1h.01M68.2 62.7h.01M46.8 68.0h.01M30.9 60.8h.01M55.9 95.7h.01M28.0 56.6h.01M40.2 78.2h.01M67.9 88.8h.01M52.0 68.2h.01M90.3 71.9h.01M36.9 80.6h.01M45.0 66.1h.01M68.0 92.0h.01M33.1 71.2h.01M83.4 70.9h.01M67.7 63.4h.01M75.0 72.1h.01M82.8 74.5h.01M41.3 89.4h.01M52.7 67.7h.01M82.0 68.9h.01M41.3 86.8h.01M64.2 54.2h.01M65.3 86.5h.01M67.5 100.5h.01M26.1 88.9h.01M77.9 66.2h.01M75.9 54.5h.01M60.3 91.5h.01M64.2 76.4h.01M75.6 71.1h.01M65.2 82.4h.01M75.2 52.0h.01M72.9 76.0h.01M35.6 93.3h.01M58.8 70.4h.01M78.5 87.3h.01M25.0 58.1h.01M55.3 75.2h.01M60.1 88.1h.01M31.8 77.4h.01M50.1 66.7h.01M81.0 88.5h.01M27.3 69.5h.01M85.3 81.6h.01M67.0 46.9h.01M58.8 83.1h.01M70.9 89.1h.01M52.6 90.9h.01M74.9 72.9h.01M66.1 34.1h.01M43.4 60.7h.01M64.5 55.2h.01M63.3 67.7h.01M91.6 63.5h.01M53.4 72.4h.01M81.2 56.7h.01M24.2 83.7h.01M31.4 56.1h.01M50.9 79.5h.01M80.4 84.9h.01M71.6 71.2h.01M62.5 103.3h.01M82.0 94.7h.01M50.3 85.8h.01M40.9 65.3h.01M56.2 52.5h.01M49.1 71.8h.01M91.3 52.0h.01M24.1 87.3h.01M73.1 97.9h.01M48.2 57.3h.01M58.0 96.4h.01M46.8 67.6h.01M80.2 70.1h.01M72.4 80.4h.01M69.9 73.8h.01M78.5 63.0h.01M42.4 67.9h.01M47.9 68.5h.01M54.2 61.6h.01M74.9 78.3h.01M72.4 68.2h.01M64.7 76.1h.01M51.4 78.8h.01M51.9 64.6h.01M49.8 60.4h.01M37.2 73.3h.01M59.5 63.1h.01M73.7 91.7h.01M57.0 80.5h.01M31.7 62.6h.01M38.7 68.5h.01M66.6 44.5h.01M42.5 68.8h.01M56.8 94.1h.01M40.3 87.8h.01M52.5 87.8h.01M48.3 79.5h.01M67.1 88.9h.01M83.6 78.9h.01M81.3 40.2h.01M57.7 77.0h.01M81.6 86.9h.01M62.4 95.2h.01M54.3 65.0h.01M82.1 53.7h.01M58.6 47.1h.01M51.0 56.3h.01M65.3 51.8h.01M24.9 62.1h.01M42.9 75.9h.01M54.8 69.9h.01M75.1 66.0h.01M62.8 76.9h.01M70.8 62.3h.01M59.6 96.8h.01M34.5 62.1h.01M70.6 70.0h.01M44.2 53.8h.01M81.0 82.1h.01M42.5 75.1h.01M54.2 78.8h.01M38.1 68.7h.01M62.4 62.4h.01M70.0 62.8h.01M47.1 59.1h.01M49.9 70.3h.01M65.5 83.3h.01M54.3 75.8h.01M43.0 64.7h.01M28.2 85.4h.01M86.0 58.4h.01M42.3 69.9h.01M84.0 47.9h.01M69.4 75.9h.01M54.2 102.2h.01M53.7 53.7h.01M64.6 95.3h.01M39.5 69.0h.01M49.8 89.1h.01M46.0 82.2h.01M82.0 61.7h.01M58.5 60.0h.01M30.6 61.4h.01M72.0 93.0h.01M51.9 61.1h.01M58.1 52.5h.01M37.9 69.4h.01M63.7 94.7h.01M75.1 97.5h.01M82.6 69.2h.01M75.5 84.1h.01M35.9 70.2h.01M26.7 61.6h.01M58.6 90.2h.01M36.9 92.4h.01M24.5 63.8h.01M60.4 95.9h.01M48.0 77.0h.01M29.3 85.1h.01M59.5 92.4h.01M66.1 47.5h.01M47.4 66.4h.01M43.1 79.2h.01M56.8 80.0h.01M71.4 49.4h.01M33.4 56.3h.01M30.2 72.4h.01M39.1 78.5h.01M79.3 47.8h.01M39.7 83.9h.01M48.0 56.9h.01M44.2 74.1h.01M96.0 44.1h.01M75.6 62.2h.01M48.7 85.0h.01M51.9 60.4h.01M76.2 99.0h.01M35.0 71.2h.01M87.4 64.6h.01M50.0 90.8h.01M67.9 60.5h.01M33.6 68.2h.01M33.1 91.2h.01M28.9 84.7h.01M82.9 44.7h.01M55.5 74.4h.01M76.6 96.7h.01M81.9 50.1h.01M46.9 75.7h.01M56.5 63.1h.01M77.5 53.4h.01M50.1 86.2h.01M32.1 71.1h.01M32.8 78.2h.01M44.8 77.2h.01M56.0 77.6h.01M44.2 81.0h.01M41.2 61.7h.01M32.4 72.6h.01M50.2 69.0h.01M91.6 61.7h.01M83.0 72.8h.01M58.8 92.7h.01M38.5 63.4h.01M30.5 72.1h.01M83.4 51.1h.01M86.5 73.1h.01M33.6 76.4h.01M48.3 90.5h.01M34.9 75.1h.01M68.4 94.7h.01M86.1 42.5h.01M88.1 46.4h.01M57.0 91.1h.01M57.5 78.0h.01M54.0 94.1h.01M77.7 63.7h.01M61.5 65.8h.01M27.9 80.6h.01M91.4 50.3h.01M63.6 65.4h.01M39.5 58.8h.01M36.8 60.0h.01M37.1 88.5h.01M52.2 86.5h.01M74.8 41.8h.01M63.2 51.5h.01M47.9 74.3h.01M62.6 84.0h.01M31.7 62.7h.01M53.5 84.4h.01M40.6 81.6h.01M58.1 71.3h.01M57.2 96.0h.01M69.7 68.2h.01M34.0 73.0h.01M67.6 87.0h.01M71.9 81.1h.01M28.9 71.0h.01M66.5 105.5h.01M53.6 86.7h.01M47.5 85.3h.01M30.8 74.4h.01M70.2 72.5h.01M57.5 97.6h.01M64.0 57.2h.01M63.4 88.8h.01M70.1 62.1h.01M60.2 82.1h.01M55.6 71.7h.01M63.9 91.5h.01M67.3 69.4h.01M87.7 57.1h.01M62.4 93.1h.01M46.3 76.9h.01M44.9 60.2h.01M35.1 65.2h.01M32.8 71.8h.01M53.7 89.4h.01M39.8 69.4h.01M35.9 88.5h.01M30.4 69.3h.01M88.5 51.5h.01M44.8 67.9h.01M73.7 66.7h.01M80.9 83.6h.01M78.2 74.1h.01M55.3 85.8h.01M65.9 73.8h.01M34.0 69.9h.01M48.9 93.4h.01M43.5 92.9h.01M79.5 57.7h.01M67.0 53.8h.01M57.4 61.8h.01M65.1 77.1h.01M51.3 84.4h.01M41.2 90.8h.01M46.9 67.5h.01M79.2 76.4h.01M56.5 74.4h.01M74.0 88.8h.01M69.6 87.0h.01M33.9 64.9h.01M39.9 83.4h.01M30.4 87.2h.01M78.1 62.5h.01M78.8 43.4h.01M77.8 51.0h.01M23.9 80.2h.01M89.6 63.7h.01M47.9 96.8h.01M61.5 107.1h.01M82.9 39.3h.01M32.5 80.6h.01M62.1 77.7h.01M55.1 74.2h.01M82.4 62.1h.01M27.8 58.7h.01M69.1 83.9h.01M71.3 79.1h.01M53.6 65.4h.01M46.8 83.9h.01M70.1 88.0h.01M58.4 94.3h.01M75.9 72.8h.01M35.6 81.2h.01M33.6 68.6h.01M61.2 68.6h.01M77.0 97.2h.01M58.0 79.3h.01M55.8 90.7h.01M31.0 66.7h.01M31.7 71.1h.01M49.4 90.1h.01M83.8 67.8h.01M75.1 73.1h.01M78.8 55.4h.01M77.9 80.5h.01M75.1 87.4h.01M66.8 47.1h.01M71.6 56.4h.01M50.2 72.8h.01M54.6 59.2h.01M78.4 89.2h.01M81.6 90.6h.01M32.3 69.8h.01M51.9 62.4h.01M24.2 76.9h.01M49.1 68.8h.01M42.2 87.1h.01M46.3 69.0h.01M43.3 54.5h.01M30.7 93.9h.01M69.9 55.0h.01M83.6 43.8h.01M79.5 73.8h.01M93.9 60.1h.01M38.2 56.5h.01M37.0 65.0h.01M47.5 66.3h.01M53.5 75.3h.01M97.2 47.3h.01M48.0 89.2h.01M46.8 62.5h.01M56.3 94.7h.01M71.8 74.8h.01M28.8 63.5h.01M35.3 80.6h.01M72.3 87.0h.01M84.4 58.0h.01M49.3 87.9h.01M29.9 72.7h.01M30.0 60.7h.01M64.5 43.5h.01M57.2 84.0h.01M85.2 57.1h.01M41.5 70.0h.01M69.8 80.5h.01M89.0 60.5h.01M84.8 45.3h.01M82.5 67.9h.01M49.7 55.0h.01M48.1 100.7h.01M53.3 61.9h.01M46.9 95.3h.01M67.7 63.1h.01M68.3 43.9h.01M36.5 63.6h.01M57.3 80.0h.01M75.7 64.4h.01M67.4 92.5h.01M82.3 68.7h.01M84.6 85.4h.01M71.9 66.3h.01M84.5 79.7h.01M55.7 73.8h.01M27.5 83.9h.01M62.9 70.1h.01M74.4 80.5h.01M86.3 57.8h.01M76.5 84.6h.01M55.3 93.5h.01M83.2 54.5h.01M45.7 73.7h.01M72.3 80.7h.01M94.2 65.8h.01M78.9 90.4h.01M36.8 75.9h.01M45.0 67.6h.01M37.2 81.6h.01M57.3 90.3h.01M45.1 62.4h.01M53.7 59.9h.01M70.8 46.1h.01M69.2 95.8h.01M46.5 91.9h.01M89.1 43.1h.01M61.2 98.1h.01M88.0 49.2h.01M41.6 55.0h.01M28.8 82.0h.01M61.9 73.5h.01M35.3 81.7h.01M45.6 81.2h.01M33.4 69.3h.01M68.4 87.7h.01M87.8 42.8h.01M69.1 85.7h.01M45.7 63.0h.01M28.2 61.8h.01M67.2 89.2h.01M42.4 58.3h.01M30.1 91.4h.01M35.5 74.3h.01M39.9 67.6h.01M91.0 57.1h.01M64.6 84.4h.01M41.7 68.3h.01M60.2 54.0h.01M83.0 46.4h.01M49.9 72.8h.01M64.2 80.1h.01M28.6 66.9h.01M91.7 54.3h.01M64.4 81.9h.01M35.5 54.4h.01M24.1 77.1h.01M56.6 83.9h.01M53.0 98.1h.01M38.0 57.2h.01M60.7 57.4h.01M33.0 62.9h.01M52.3 71.1h.01M61.7 69.8h.01M88.5 58.4h.01M31.4 58.2h.01M59.9 92.4h.01M87.0 73.9h.01M58.2 76.5h.01M49.4 60.8h.01M53.8 54.9h.01M43.2 81.1h.01M65.4 89.9h.01M51.0 90.0h.01M85.6 67.7h.01M90.7 85.8h.01M86.0 39.9h.01M79.8 44.8h.01M50.5 62.4h.01M58.6 58.0h.01M67.5 92.6h.01M58.6 63.5h.01M70.7 59.3h.01M67.8 43.9h.01M69.9 91.4h.01M51.3 75.1h.01M81.7 69.5h.01M63.1 63.4h.01M58.9 91.8h.01M90.5 45.7h.01M71.6 90.7h.01M75.5 69.0h.01M76.3 73.0h.01M34.8 79.6h.01M78.1 79.8h.01M88.5 64.9h.01M68.8 58.3h.01M46.0 81.2h.01M84.3 52.9h.01M56.8 62.9h.01M34.2 87.6h.01M69.8 86.2h.01M61.1 55.4h.01M63.9 98.7h.01M54.8 65.8h.01M66.1 76.5h.01M58.1 92.4h.01M54.4 112.3h.01M29.7 86.5h.01M56.8 70.5h.01M66.8 79.6h.01M34.2 71.9h.01M44.2 77.9h.01M82.1 47.1h.01M73.0 79.3h.01M68.8 88.1h.01M63.9 66.3h.01M72.7 88.8h.01M54.2 64.7h.01M62.6 95.8h.01M61.5 90.2h.01M54.3 53.2h.01M63.1 70.1h.01M75.6 42.9h.01M63.2 69.5h.01M65.3 82.7h.01M80.1 84.8h.01M81.4 83.7h.01M74.2 57.0h.01M79.8 78.3h.01M69.3 76.3h.01M94.6 45.8h.01M29.9 56.8h.01M50.6 61.9h.01M69.5 72.7h.01M86.9 53.8h.01M64.6 59.1h.01M61.5 67.7h.01M42.6 82.5h.01M91.9 48.2h.01M43.8 83.7h.01M34.4 61.8h.01M63.6 70.0h.01M52.7 94.4h.01M63.2 65.4h.01M40.9 90.0h.01M37.0 89.4h.01M83.6 90.4h.01M27.3 59.3h.01M87.7 73.3h.01M57.6 69.7h.01M79.2 81.3h.01M77.7 45.7h.01M70.2 100.2h.01M42.6 69.5h.01M44.0 68.9h.01M60.2 48.3h.01M73.0 65.4h.01M49.7 105.0h.01M40.0 94.4h.01M48.0 99.9h.01M74.0 101.7h.01M75.8 97.8h.01M31.2 96.8h.01M38.8 92.2h.01M77.0 105.6h.01M29.8 91.5h.01M31.6 89.5h.01M46.7 96.1h.01M54.1 103.3h.01M43.8 102.4h.01M38.1 104.0h.01M35.7 96.7h.01M29.8 89.2h.01M31.3 93.9h.01M60.4 103.5h.01M49.6 102.7h.01M75.7 100.2h.01M67.4 107.0h.01M30.8 94.1h.01M23.9 88.4h.01M58.0 101.1h.01M77.4 99.5h.01M32.3 89.8h.01M49.7 97.4h.01M30.0 91.6h.01M59.1 110.7h.01M65.2 105.9h.01M66.0 102.0h.01M67.6 106.8h.01M24.6 90.8h.01M38.5 92.0h.01M28.5 94.9h.01M47.5 99.0h.01M32.1 94.6h.01M47.2 100.6h.01M31.7 94.8h.01M26.1 88.0h.01M26.8 99.4h.01M59.8 108.7h.01M71.4 100.7h.01M50.6 103.7h.01M71.0 99.8h.01M76.6 98.2h.01M63.1 109.3h.01M63.6 103.3h.01M48.0 96.8h.01M27.6 88.3h.01M65.2 103.9h.01M75.5 101.7h.01M55.8 100.7h.01M37.5 93.9h.01M66.3 111.6h.01M53.7 100.3h.01M31.7 91.3h.01M64.9 110.2h.01M53.3 103.8h.01M64.9 102.5h.01M65.1 104.4h.01M50.3 97.6h.01M65.0 103.2h.01M41.5 95.8h.01M64.6 103.4h.01M30.6 94.8h.01M32.0 93.0h.01M64.4 107.1h.01M76.5 103.3h.01M26.9 92.4h.01M76.4 97.3h.01M28.8 98.4h.01M73.0 105.7h.01M53.2 100.2h.01M45.6 96.6h.01M48.9 100.3h.01M60.1 102.7h.01M27.9 90.7h.01M74.4 98.8h.01M45.2 95.4h.01M42.9 98.5h.01M49.2 96.6h.01M54.1 102.7h.01M24.8 88.3h.01M38.7 95.1h.01M62.5 104.6h.01M38.3 92.8h.01M74.2 98.3h.01M67.0 102.3h.01M32.4 91.4h.01M36.3 91.5h.01M51.8 103.0h.01M44.5 97.4h.01M60.8 101.4h.01M51.0 97.9h.01M42.4 101.8h.01M58.3 101.0h.01M52.7 98.1h.01M35.8 99.3h.01M62.7 109.0h.01M46.5 95.3h.01M63.6 101.5h.01M56.7 101.2h.01M60.2 100.9h.01M67.5 103.3h.01M33.1 93.3h.01M38.7 93.7h.01M26.0 92.8h.01M55.2 100.0h.01M46.4 98.2h.01M33.2 90.4h.01M69.8 100.5h.01M57.8 103.9h.01M61.9 108.8h.01M32.8 92.4h.01M45.8 96.6h.01M46.5 96.9h.01M49.4 102.8h.01M69.7 101.3h.01M56.3 109.9h.01M47.5 96.5h.01M74.1 101.7h.01M71.7 101.5h.01M39.1 94.5h.01M42.2 93.8h.01M31.3 89.7h.01M56.9 105.1h.01M42.7 94.2h.01M33.4 99.8h.01M69.8 105.7h.01M66.4 106.4h.01M38.3 97.8h.01M54.9 104.4h.01M77.1 98.5h.01M75.0 98.5h.01M67.8 101.3h.01M52.7 101.1h.01M69.4 112.3h.01M70.7 101.4h.01M32.3 91.5h.01M76.9 98.2h.01M76.9 103.9h.01M73.0 101.3h.01M77.5 98.7h.01M51.0 98.3h.01M76.5 101.1h.01M44.1 101.3h.01M69.1 100.8h.01M28.6 93.0h.01M57.3 106.2h.01M61.9 109.1h.01M74.8 99.6h.01M72.6 101.5h.01M37.7 92.7h.01M60.2 102.5h.01M34.7 90.7h.01M53.1 99.4h.01M54.2 100.7h.01M38.9 92.4h.01M46.1 96.0h.01M69.2 100.5h.01M43.2 96.3h.01M28.2 93.7h.01M71.8 99.6h.01M42.2 94.0h.01M67.2 104.7h.01M56.7 102.2h.01M31.0 90.5h.01M32.1 95.4h.01M61.7 101.2h.01M42.9 93.7h.01M76.3 102.7h.01M61.9 103.9h.01M24.5 87.8h.01M32.3 92.8h.01M66.3 102.6h.01M57.4 103.0h.01M37.5 93.7h.01M43.0 96.0h.01M31.3 93.0h.01M42.0 104.4h.01M32.1 90.2h.01M54.6 100.1h.01M26.3 94.5h.01M30.9 94.0h.01M36.9 92.9h.01M60.8 106.1h.01M39.4 95.9h.01M23.9 86.8h.01M25.7 91.1h.01M54.3 102.3h.01M27.6 91.0h.01M72.9 100.8h.01M34.2 100.7h.01M48.9 100.1h.01M34.7 97.3h.01M56.0 107.8h.01M65.2 106.0h.01M58.7 103.7h.01M38.4 98.3h.01M43.2 96.3h.01M64.1 105.9h.01M61.6 106.4h.01M33.3 92.5h.01M28.9 89.5h.01M39.0 94.9h.01M58.4 100.7h.01M49.2 103.0h.01M76.0 97.4h.01M52.4 100.6h.01M47.9 96.4h.01M38.4 92.4h.01M39.0 97.7h.01M61.2 101.1h.01M40.3 93.3h.01M29.9 91.4h.01M63.1 101.4h.01M40.0 92.6h.01M24.2 86.8h.01M75.3 100.3h.01M68.1 105.4h.01M78.4 99.9h.01M61.5 101.1h.01M42.1 97.3h.01M68.7 100.8h.01M68.9 103.9h.01M44.9 100.7h.01M54.0 100.1h.01M42.1 94.0h.01M58.9 109.7h.01M55.0 99.2h.01M30.5 95.8h.01M24.9 87.5h.01M50.0 106.4h.01M50.0 101.7h.01M55.8 104.7h.01M44.2 94.6h.01M60.8 101.1h.01M58.7 103.2h.01M49.3 104.7h.01M50.0 101.7h.01M50.2 100.0h.01M62.7 105.0h.01M35.9 91.7h.01M74.8 104.3h.01M69.7 102.5h.01M67.5 104.6h.01M35.0 97.9h.01M40.0 92.8h.01M32.0 89.8h.01M49.4 101.9h.01M39.3 93.2h.01M46.5 96.5h.01M53.3 100.4h.01M53.6 109.1h.01M71.7 103.5h.01M45.1 99.2h.01M37.4 96.0h.01M51.3 100.5h.01M48.7 96.1h.01M56.0 101.8h.01M30.2 90.8h.01M23.9 86.5h.01M54.9 104.8h.01M28.2 90.0h.01M24.1 86.6h.01M58.6 104.1h.01M70.6 104.6h.01M29.2 89.3h.01M74.5 101.4h.01M67.5 105.1h.01M49.3 102.1h.01M26.5 87.4h.01M40.9 96.2h.01M69.9 107.8h.01M70.2 101.1h.01M31.1 93.0h.01M50.3 98.3h.01M72.6 101.3h.01M43.7 94.3h.01M52.8 98.7h.01M30.1 101.7h.01M49.5 99.1h.01M26.2 108.5h.01M72.3 99.6h.01M47.9 100.1h.01M27.2 88.0h.01M36.2 96.7h.01M66.7 103.1h.01M73.9 100.0h.01M74.8 102.6h.01M62.8 102.5h.01M26.1 89.1h.01M60.9 105.0h.01M49.3 98.1h.01M53.9 98.9h.01M36.8 97.5h.01M63.8 112.4h.01M49.6 100.4h.01M57.7 101.1h.01M62.2 112.3h.01M34.1 92.5h.01M75.1 98.5h.01M47.0 96.5h.01M53.6 100.6h.01M40.9 95.5h.01M55.1 111.4h.01M72.0 100.3h.01M41.2 94.2h.01M47.9 97.7h.01M44.3 98.3h.01M70.7 104.6h.01M31.0 94.2h.01M38.6 99.6h.01M52.7 98.1h.01M40.6 93.1h.01M31.5 89.5h.01M42.5 95.0h.01M39.4 94.3h.01M59.8 101.1h.01M74.0 101.0h.01M34.1 91.9h.01M24.7 90.4h.01M55.4 100.9h.01M27.8 109.3h.01M50.7 105.9h.01M36.1 93.5h.01M40.6 101.6h.01M62.6 101.7h.01M74.9 99.0h.01M64.7 104.2h.01M52.8 102.7h.01M38.3 93.1h.01M52.4 102.0h.01M63.6 101.1h.01M27.0 90.1h.01M76.3 97.7h.01M74.7 99.1h.01M48.4 97.1h.01M51.8 102.8h.01M24.0 86.9h.01M24.0 94.1h.01M36.6 92.1h.01M59.2 103.9h.01M30.2 92.7h.01M77.0 97.6h.01M74.2 99.5h.01M59.2 101.3h.01M37.4 94.0h.01M77.8 97.6h.01M36.9 91.5h.01M50.1 97.5h.01M75.4 98.5h.01M41.6 95.1h.01M42.6 97.0h.01M77.2 99.0h.01M62.8 100.9h.01M39.6 93.7h.01M30.7 94.7h.01M27.8 96.2h.01M35.4 91.4h.01M47.9 98.6h.01M63.0 106.8h.01M30.0 89.8h.01M44.3 97.2h.01M77.9 96.4h.01M73.2 100.2h.01M49.9 96.9h.01M62.4 102.3h.01M34.9 96.4h.01M56.3 108.1h.01M45.0 99.3h.01M31.9 91.8h.01M58.6 102.3h.01M41.7 94.6h.01M30.9 89.3h.01M53.1 104.8h.01M51.9 100.0h.01M29.3 91.0h.01M26.0 90.1h.01M76.2 98.6h.01M28.8 91.9h.01M39.8 93.9h.01M52.9 98.9h.01M54.2 104.6h.01M75.4 99.3h.01M58.9 100.9h.01M35.0 91.9h.01M33.1 90.0h.01M45.2 99.2h.01M27.4 88.6h.01M77.7 98.1h.01M71.1 102.9h.01M69.8 102.5h.01M24.4 90.5h.01M69.7 110.3h.01M32.5 94.9h.01M34.6 90.9h.01M76.2 99.1h.01M42.7 102.3h.01M60.8 101.6h.01M37.6 93.0h.01M38.0 92.6h.01M68.7 100.9h.01M74.8 101.3h.01M48.2 98.3h.01M57.6 101.7h.01M67.0 102.0h.01M28.0 88.2h.01M74.9 102.1h.01M72.0 102.5h.01M39.8 113.2h.01M42.9 98.6h.01M26.9 101.8h.01M41.4 100.7h.01M32.5 92.4h.01M37.1 101.1h.01M32.7 95.1h.01M42.8 93.6h.01M25.9 93.9h.01M47.6 97.0h.01M72.9 110.4h.01M64.5 107.8h.01M59.6 102.2h.01M71.0 97.1h.01M67.2 104.9h.01M67.2 103.1h.01M77.1 96.4h.01M55.9 96.6h.01M57.5 97.0h.01M74.4 110.6h.01M30.4 109.4h.01M79.0 102.5h.01M76.8 110.9h.01M53.6 106.4h.01M69.0 112.4h.01M65.0 96.3h.01M51.2 101.4h.01M27.1 111.6h.01M55.6 94.9h.01M39.6 100.4h.01M50.8 110.6h.01M28.9 99.0h.01M50.7 92.3h.01M75.9 100.5h.01M70.0 101.0h.01M64.0 93.8h.01M25.8 98.3h.01M58.4 105.6h.01M30.9 112.0h.01M71.8 100.1h.01M71.9 92.6h.01M69.8 96.2h.01M44.7 95.4h.01M31.9 98.0h.01M74.9 111.0h.01M30.0 109.8h.01M65.4 101.0h.01M36.4 113.6h.01M27.9 108.7h.01M61.7 110.3h.01M61.8 113.8h.01M73.6 113.2h.01M67.3 95.1h.01M72.0 106.6h.01M62.4 112.0h.01M40.1 104.8h.01M73.0 107.1h.01M57.7 106.8h.01M28.3 95.3h.01M41.4 108.5h.01M24.8 102.6h.01M43.6 91.6h.01M77.7 106.7h.01M39.7 110.6h.01M67.8 102.6h.01M54.5 98.7h.01M31.0 91.8h.01M50.0 98.8h.01M57.4 95.5h.01M76.9 92.1h.01M52.3 109.0h.01M64.5 104.9h.01M66.7 105.5h.01M77.0 101.2h.01M42.6 95.1h.01M73.4 93.1h.01M39.8 111.9h.01M35.1 100.7h.01M50.7 92.3h.01M70.3 107.2h.01M56.0 101.4h.01M55.4 109.0h.01M27.0 107.2h.01M27.8 107.7h.01M78.3 100.5h.01M66.5 98.9h.01M48.8 93.8h.01M59.8 93.2h.01M77.4 106.7h.01M64.7 113.0h.01M28.9 108.0h.01M66.7 100.4h.01M62.5 103.6h.01M55.0 91.9h.01M53.2 110.1h.01M44.6 91.3h.01M26.1 95.9h.01M69.0 113.7h.01M74.7 102.4h.01M52.9 99.6h.01M54.1 110.4h.01M76.7 106.8h.01M42.7 99.3h.01M37.0 100.9h.01M37.7 107.5h.01M55.8 92.2h.01M39.6 107.0h.01M70.0 93.7h.01M24.6 95.3h.01" stroke="#000" stroke-width="0.95" stroke-linecap="round" fill="none"/>
<path d="M42.3 98.9h.01M85.5 68.3h.01M102.6 84.1h.01M64.2 45.5h.01M84.9 54.2h.01M74.4 103.2h.01M63.7 42.4h.01M103.2 31.7h.01M89.5 34.9h.01M63.5 79.5h.01M99.1 67.6h.01M30.7 82.0h.01M83.8 58.2h.01M44.7 37.8h.01M49.9 44.6h.01M62.1 112.0h.01M34.2 94.8h.01M60.1 85.7h.01M29.2 114.2h.01M90.9 87.6h.01M55.1 36.6h.01M53.9 57.4h.01M33.1 89.3h.01M80.6 99.9h.01M56.8 90.9h.01M30.4 101.8h.01M103.5 71.4h.01M42.0 43.7h.01M26.3 76.2h.01M49.6 90.6h.01M81.2 96.3h.01M103.0 35.8h.01M102.3 44.5h.01M60.6 108.3h.01M53.7 93.8h.01M25.9 55.0h.01M68.8 35.0h.01M94.4 81.3h.01M86.9 86.2h.01M89.3 35.6h.01M45.4 112.9h.01M48.3 49.9h.01M55.0 84.5h.01M69.7 58.9h.01M54.6 34.0h.01M104.8 44.3h.01M49.3 79.0h.01M32.1 100.7h.01M63.0 107.0h.01M23.7 70.6h.01M26.9 58.2h.01M60.0 48.2h.01M83.1 29.6h.01M74.8 102.2h.01M45.4 39.6h.01M59.5 60.7h.01M46.3 81.5h.01M29.9 89.2h.01M59.8 110.7h.01M73.1 54.4h.01M52.8 55.7h.01M64.5 65.5h.01M87.1 98.2h.01M28.4 96.3h.01M25.2 109.1h.01M61.8 47.1h.01M60.3 83.5h.01M99.9 77.3h.01M91.2 31.0h.01M46.1 44.5h.01" stroke="#444" stroke-width="0.8" stroke-linecap="round" fill="none"/>
<path d="M23.3 56.4C26.4 51.5 36.7 56.9 41.9 56.8C47.2 56.6 51.4 56.5 54.7 55.5C58.1 54.5 59.3 52.9 62.0 50.9C64.8 49.0 68.1 45.5 71.2 43.6C74.2 41.8 77.5 40.3 80.3 40.0C83.1 39.6 86.2 40.0 88.0 41.4C89.7 42.9 90.5 45.4 90.9 48.7C91.3 52.1 90.8 57.3 90.3 61.5C89.8 65.8 89.0 70.1 88.0 74.3C86.9 78.6 85.8 83.3 83.9 87.1C82.1 90.9 79.5 94.8 76.6 97.2C73.7 99.5 69.8 100.8 66.6 101.4C63.4 101.9 60.2 101.1 57.4 100.3C54.7 99.5 53.2 98.0 50.0 96.6C46.8 95.2 42.7 93.6 38.3 91.9C33.8 90.1 25.8 91.9 23.3 86.0C20.8 80.1 20.2 61.3 23.3 56.4Z" stroke="#000" stroke-width="0" fill="#000"/>
<path d="M23.3 61.5C27.3 59.4 42.3 61.1 47.4 61.5C52.5 62.0 52.5 63.1 53.8 64.3C55.1 65.5 55.2 67.4 55.1 68.8C54.9 70.3 54.2 71.9 52.9 72.9C51.6 73.8 52.3 74.1 47.4 74.3C42.5 74.6 27.3 76.5 23.3 74.3C19.3 72.2 19.3 63.7 23.3 61.5Z" stroke="#000" stroke-width="0.5" fill="#f4f4f4"/>
<path d="M23.3 63.0C27.2 63.0 41.8 62.5 46.7 63.0C51.5 63.5 51.4 64.5 52.3 65.7C53.3 67.0 53.3 69.5 52.3 70.7C51.4 71.9 51.5 72.5 46.7 72.9C41.8 73.2 27.2 72.9 23.3 72.9" stroke="#777" stroke-width="0.5" fill="none"/>
<path d="M23.3 64.5C27.1 64.5 41.3 64.1 45.9 64.5C50.5 64.8 50.1 65.8 50.9 66.7C51.7 67.5 51.7 69.0 50.9 69.8C50.1 70.5 50.5 71.1 45.9 71.4C41.3 71.7 27.1 71.4 23.3 71.4" stroke="#777" stroke-width="0.5" fill="none"/>
<path d="M23.3 65.9C26.9 65.9 40.9 65.6 45.2 65.9C49.6 66.2 48.7 67.1 49.4 67.6C50.1 68.1 50.1 68.4 49.4 68.8C48.7 69.2 49.6 69.8 45.2 69.9C40.9 70.1 26.9 69.9 23.3 69.9" stroke="#777" stroke-width="0.5" fill="none"/>
<path d="M57.4 88.9C56.1 86.7 55.5 83.2 55.6 79.8C55.8 76.5 56.8 72.5 58.4 68.8C59.9 65.2 62.3 61.4 64.8 57.9C67.2 54.4 70.2 50.3 73.0 47.8C75.7 45.4 79.1 43.6 81.2 43.3C83.3 43.0 84.9 43.9 85.8 46.0C86.6 48.1 86.6 52.3 86.1 56.1C85.7 59.9 84.3 64.9 83.0 68.8C81.7 72.8 80.4 76.5 78.5 79.8C76.5 83.2 73.6 86.7 71.2 88.9C68.7 91.1 66.1 93.0 63.8 93.0C61.6 93.0 58.8 91.1 57.4 88.9Z" stroke="#000" stroke-width="0.5" fill="#ececec"/>
<path d="M74.8 52.4C76.2 49.7 79.7 46.9 81.2 46.9C82.7 46.9 83.9 49.5 83.9 52.4C83.9 55.3 82.6 61.2 81.2 64.3C79.8 67.3 77.1 70.8 75.7 70.7C74.3 70.5 73.1 66.4 73.0 63.4C72.8 60.3 73.4 55.1 74.8 52.4Z" stroke="#000" stroke-width="0" fill="rgba(0,0,0,0.18)"/>
<path d="M59.8 85.4C58.7 83.6 58.2 80.6 58.3 77.8C58.5 75.1 59.3 71.8 60.6 68.7C61.9 65.7 63.9 62.6 65.9 59.6C67.9 56.7 70.5 53.3 72.7 51.3C75.0 49.3 77.8 47.8 79.6 47.5C81.3 47.3 82.7 48.0 83.4 49.8C84.0 51.6 84.0 55.0 83.7 58.1C83.3 61.3 82.1 65.5 81.1 68.7C80.0 72.0 78.9 75.1 77.3 77.8C75.6 80.6 73.2 83.6 71.2 85.4C69.2 87.2 67.1 88.8 65.2 88.8C63.3 88.8 61.0 87.2 59.8 85.4Z" stroke="#888" stroke-width="0.5" fill="none"/>
<path d="M62.2 81.9C61.3 80.5 60.9 78.1 61.0 75.9C61.1 73.7 61.8 71.1 62.9 68.6C63.9 66.2 65.5 63.7 67.1 61.4C68.7 59.1 70.7 56.4 72.5 54.8C74.3 53.2 76.5 52.0 77.9 51.8C79.3 51.6 80.4 52.2 80.9 53.6C81.5 55.0 81.5 57.7 81.2 60.2C80.9 62.7 80.0 66.0 79.1 68.6C78.3 71.3 77.4 73.7 76.1 75.9C74.8 78.1 72.9 80.5 71.3 81.9C69.7 83.4 68.0 84.6 66.5 84.6C65.0 84.6 63.2 83.4 62.2 81.9Z" stroke="#555" stroke-width="0.5" fill="none"/>
<path d="M64.6 78.4C64.0 77.3 63.7 75.6 63.8 73.9C63.8 72.3 64.3 70.3 65.1 68.5C65.8 66.8 67.0 64.9 68.2 63.2C69.4 61.5 70.9 59.4 72.3 58.3C73.6 57.1 75.2 56.2 76.3 56.0C77.3 55.9 78.1 56.3 78.5 57.4C78.9 58.4 78.9 60.4 78.7 62.3C78.5 64.1 77.8 66.6 77.2 68.5C76.6 70.5 75.9 72.3 74.9 73.9C74.0 75.6 72.6 77.3 71.4 78.4C70.2 79.5 68.9 80.4 67.8 80.4C66.7 80.4 65.3 79.5 64.6 78.4Z" stroke="#888" stroke-width="0.5" fill="none"/>
<path d="M67.0 74.9C66.6 74.2 66.4 73.0 66.5 72.0C66.5 70.9 66.9 69.6 67.3 68.5C67.8 67.3 68.6 66.1 69.4 64.9C70.2 63.8 71.1 62.5 72.0 61.7C72.9 60.9 74.0 60.4 74.6 60.3C75.3 60.2 75.8 60.5 76.1 61.1C76.4 61.8 76.4 63.1 76.2 64.4C76.1 65.6 75.6 67.2 75.2 68.5C74.8 69.7 74.4 70.9 73.8 72.0C73.1 73.0 72.2 74.2 71.4 74.9C70.7 75.6 69.8 76.2 69.1 76.2C68.4 76.2 67.5 75.6 67.0 74.9Z" stroke="#555" stroke-width="0.5" fill="none"/>
<path d="M23.3 76.2H50.1V95.9" stroke="#e8e8e8" stroke-width="1.3" fill="none"/>
<path d="M50.1 95.9V114.5" stroke="#000" stroke-width="1.25" fill="none"/>
</g>
<rect x="23.30" y="28.30" width="86.70" height="86.20" stroke="#000" stroke-width="1.4" fill="none"/>
<path d="M82.50 98.30L120.50 98.30" stroke="#000" stroke-width="1.2" fill="none"/>
<path d="M123.50 98.30L117.60 95.50L117.60 101.10Z" fill="#000"/>
<clipPath id="cp1"><rect x="129.00" y="28.30" width="86.60" height="86.20"/></clipPath><g clip-path="url(#cp1)">
<path d="M131.4 103.6C129.5 100.6 131.5 95.0 131.9 90.8C132.4 86.5 132.9 81.8 134.1 78.0C135.4 74.2 136.9 70.7 139.6 67.9C142.4 65.2 146.8 62.9 150.6 61.5C154.4 60.2 159.8 58.9 162.4 59.7C165.1 60.6 164.9 64.6 166.7 66.7C168.4 68.7 169.8 71.1 172.9 72.1C176.0 73.2 181.1 73.0 185.3 72.9C189.5 72.8 194.5 71.0 198.1 71.6C201.7 72.1 205.3 74.3 206.8 76.2C208.4 78.0 208.7 80.7 207.6 82.5C206.5 84.4 203.7 86.8 200.3 87.5C196.9 88.2 191.1 87.0 187.1 86.7C183.2 86.5 179.5 85.3 176.5 86.0C173.5 86.7 171.6 89.1 169.2 91.1C166.9 93.2 164.6 95.8 162.4 98.4C160.3 101.1 159.3 105.1 156.1 106.8C152.9 108.5 147.4 109.2 143.3 108.7C139.2 108.1 133.3 106.5 131.4 103.6Z" stroke="#999" stroke-width="0.5" fill="rgba(0,0,0,0.05)"/>
<path d="M131.4 103.6C129.5 100.6 131.5 95.0 131.9 90.8C132.4 86.5 132.9 81.8 134.1 78.0C135.4 74.2 136.9 70.7 139.6 67.9C142.4 65.2 146.8 62.9 150.6 61.5C154.4 60.2 159.8 58.9 162.4 59.7C165.1 60.6 164.9 64.6 166.7 66.7C168.4 68.7 169.8 71.1 172.9 72.1C176.0 73.2 181.1 73.0 185.3 72.9C189.5 72.8 194.5 71.0 198.1 71.6C201.7 72.1 205.3 74.3 206.8 76.2C208.4 78.0 208.7 80.7 207.6 82.5C206.5 84.4 203.7 86.8 200.3 87.5C196.9 88.2 191.1 87.0 187.1 86.7C183.2 86.5 179.5 85.3 176.5 86.0C173.5 86.7 171.6 89.1 169.2 91.1C166.9 93.2 164.6 95.8 162.4 98.4C160.3 101.1 159.3 105.1 156.1 106.8C152.9 108.5 147.4 109.2 143.3 108.7C139.2 108.1 133.3 106.5 131.4 103.6Z" stroke="#999" stroke-width="0.5" fill="none"/>
<path d="M132.7 102.5C130.9 99.7 132.7 94.4 133.2 90.4C133.6 86.4 134.0 82.0 135.2 78.4C136.4 74.8 137.8 71.5 140.4 69.0C143.0 66.4 147.1 64.2 150.7 63.0C154.3 61.7 159.3 60.4 161.8 61.2C164.4 62.0 164.2 65.8 165.8 67.8C167.4 69.7 168.7 71.9 171.6 72.9C174.6 73.9 179.4 73.7 183.3 73.6C187.3 73.5 192.0 71.9 195.3 72.4C198.7 72.9 202.1 75.0 203.6 76.7C205.1 78.4 205.3 80.9 204.3 82.7C203.2 84.5 200.6 86.7 197.4 87.3C194.2 88.0 188.7 86.9 185.0 86.7C181.3 86.4 177.9 85.3 175.1 86.0C172.3 86.7 170.4 88.8 168.2 90.8C166.0 92.7 163.9 95.2 161.8 97.6C159.8 100.1 158.8 103.9 155.8 105.5C152.8 107.2 147.7 107.8 143.8 107.3C140.0 106.8 134.4 105.3 132.7 102.5Z" stroke="#888" stroke-width="0.5" fill="none"/>
<path d="M133.9 101.4C132.3 98.7 134.0 93.9 134.4 90.1C134.8 86.4 135.2 82.2 136.3 78.9C137.5 75.5 138.7 72.4 141.1 70.0C143.6 67.6 147.4 65.6 150.8 64.4C154.1 63.2 158.9 62.0 161.2 62.8C163.6 63.5 163.4 67.1 164.9 68.9C166.5 70.7 167.7 72.8 170.4 73.7C173.1 74.6 177.6 74.4 181.3 74.4C185.0 74.3 189.4 72.7 192.6 73.2C195.8 73.7 198.9 75.6 200.3 77.2C201.7 78.9 201.9 81.2 201.0 82.9C200.0 84.5 197.5 86.6 194.5 87.2C191.5 87.8 186.4 86.8 182.9 86.6C179.5 86.4 176.2 85.3 173.6 85.9C171.0 86.6 169.3 88.6 167.2 90.4C165.1 92.3 163.2 94.6 161.2 96.9C159.3 99.2 158.4 102.8 155.6 104.3C152.8 105.8 148.0 106.3 144.4 105.9C140.7 105.4 135.6 104.0 133.9 101.4Z" stroke="#999" stroke-width="0.5" fill="none"/>
<path d="M135.2 100.3C133.6 97.8 135.3 93.3 135.6 89.8C136.0 86.3 136.4 82.4 137.4 79.3C138.5 76.2 139.7 73.3 141.9 71.1C144.2 68.8 147.8 66.9 150.9 65.8C154.0 64.7 158.4 63.6 160.6 64.3C162.8 65.0 162.7 68.3 164.1 70.0C165.5 71.7 166.6 73.7 169.2 74.5C171.7 75.3 175.9 75.2 179.4 75.1C182.8 75.0 186.9 73.6 189.9 74.1C192.8 74.5 195.7 76.3 197.0 77.8C198.3 79.3 198.5 81.5 197.6 83.0C196.7 84.6 194.4 86.5 191.6 87.1C188.9 87.7 184.1 86.7 180.9 86.5C177.6 86.3 174.6 85.3 172.2 85.9C169.7 86.5 168.1 88.4 166.2 90.1C164.3 91.8 162.4 93.9 160.6 96.1C158.8 98.2 158.0 101.6 155.4 103.0C152.8 104.4 148.3 104.9 144.9 104.5C141.5 104.0 136.7 102.7 135.2 100.3Z" stroke="#777" stroke-width="0.5" fill="none"/>
<path d="M132.7 102.6C131.2 99.4 132.8 91.7 133.8 87.1C134.8 82.5 137.0 76.5 138.7 75.2C140.4 74.0 143.1 76.9 144.2 79.8C145.3 82.7 144.4 88.9 145.5 92.6C146.5 96.2 151.1 99.4 150.6 101.7C150.1 104.0 145.3 106.1 142.4 106.3C139.4 106.4 134.1 105.8 132.7 102.6Z" stroke="#888" stroke-width="0.5" fill="none"/>
<path d="M134.1 100.9C132.9 98.2 134.2 91.8 135.0 88.0C135.8 84.2 137.7 79.1 139.1 78.1C140.5 77.1 142.7 79.5 143.7 81.9C144.6 84.3 143.8 89.5 144.7 92.5C145.6 95.6 149.4 98.2 149.0 100.1C148.5 102.0 144.6 103.8 142.1 103.9C139.7 104.0 135.3 103.5 134.1 100.9Z" stroke="#999" stroke-width="0.5" fill="none"/>
<path d="M135.5 99.1C134.6 97.0 135.6 91.9 136.3 88.8C136.9 85.8 138.4 81.8 139.5 81.0C140.7 80.2 142.4 82.1 143.1 84.0C143.9 85.9 143.3 90.0 144.0 92.5C144.7 94.9 147.7 97.0 147.4 98.5C147.0 100.0 143.9 101.4 141.9 101.5C140.0 101.6 136.5 101.2 135.5 99.1Z" stroke="#777" stroke-width="0.5" fill="none"/>
<path d="M137.0 97.3C136.3 95.7 137.0 91.9 137.5 89.7C138.0 87.5 139.1 84.5 139.9 83.9C140.8 83.3 142.1 84.7 142.6 86.1C143.2 87.5 142.7 90.6 143.2 92.4C143.8 94.2 146.0 95.7 145.7 96.9C145.5 98.0 143.2 99.0 141.7 99.1C140.3 99.2 137.7 98.9 137.0 97.3Z" stroke="#999" stroke-width="0.5" fill="none"/>
<path d="M139.6 105.4C139.3 103.2 142.4 96.6 145.1 94.4C147.8 92.3 153.3 92.1 156.1 92.6C158.8 93.0 161.5 95.0 161.5 97.2C161.5 99.3 158.5 103.6 156.1 105.4C153.6 107.1 149.7 107.6 146.9 107.6C144.2 107.6 139.9 107.6 139.6 105.4Z" stroke="#888" stroke-width="0.5" fill="none"/>
<path d="M141.9 104.4C141.6 102.6 144.1 97.3 146.3 95.6C148.4 93.9 152.8 93.8 155.0 94.2C157.2 94.5 159.4 96.1 159.4 97.8C159.4 99.5 157.0 103.0 155.0 104.4C153.1 105.8 149.9 106.1 147.7 106.1C145.5 106.1 142.1 106.1 141.9 104.4Z" stroke="#999" stroke-width="0.5" fill="none"/>
<path d="M144.1 103.4C143.9 102.1 145.8 98.1 147.4 96.8C149.1 95.5 152.3 95.4 154.0 95.7C155.6 96.0 157.3 97.2 157.3 98.5C157.3 99.7 155.4 102.4 154.0 103.4C152.5 104.4 150.1 104.7 148.5 104.7C146.9 104.7 144.3 104.7 144.1 103.4Z" stroke="#888" stroke-width="0.5" fill="none"/>
<path d="M172.9 77.1C174.7 75.8 181.1 75.8 185.3 75.2C189.5 74.7 194.7 73.6 198.1 74.0C201.4 74.4 204.1 76.3 205.4 77.6C206.7 79.0 206.9 80.7 205.7 82.0C204.6 83.3 201.8 85.0 198.4 85.3C195.0 85.6 189.3 84.2 185.3 83.8C181.3 83.4 176.4 83.9 174.3 82.7C172.3 81.6 171.0 78.3 172.9 77.1Z" stroke="#555" stroke-width="0.6" fill="none"/>
<path d="M192.2 78.0C193.2 77.1 196.1 76.2 198.1 76.2C200.0 76.2 202.9 77.1 203.9 78.0C204.9 78.9 204.9 80.7 203.9 81.6C202.9 82.5 200.0 83.5 198.1 83.5C196.1 83.5 193.2 82.5 192.2 81.6C191.3 80.7 191.3 78.9 192.2 78.0Z" stroke="#555" stroke-width="0.6" fill="none"/>
<path d="M171.6 79.8C171.6 78.8 175.7 77.1 178.0 77.1C180.3 77.1 185.3 78.8 185.3 79.8C185.3 80.8 180.3 83.1 178.0 83.1C175.7 83.1 171.6 80.8 171.6 79.8Z" stroke="#666" stroke-width="0.6" fill="none"/>
<ellipse cx="154.2" cy="85.3" rx="18.5" ry="7.6" transform="rotate(-33 154.2 85.3)" stroke="#969696" stroke-width="0.7" fill="rgba(0,0,0,0.10)"/>
<ellipse cx="154.9" cy="84.6" rx="16.8" ry="6.9" transform="rotate(-33 154.9 84.6)" stroke="#737373" stroke-width="0.7" fill="none"/>
<ellipse cx="155.6" cy="84.0" rx="15.1" ry="6.2" transform="rotate(-33 155.6 84.0)" stroke="#5d5d5d" stroke-width="0.7" fill="rgba(0,0,0,0.10)"/>
<ellipse cx="156.3" cy="83.4" rx="13.4" ry="5.6" transform="rotate(-33 156.3 83.4)" stroke="#4a4a4a" stroke-width="0.7" fill="rgba(0,0,0,0.14)"/>
<ellipse cx="157.0" cy="82.7" rx="11.8" ry="4.9" transform="rotate(-33 157.0 82.7)" stroke="#393939" stroke-width="0.7" fill="rgba(0,0,0,0.17)"/>
<ellipse cx="157.7" cy="82.1" rx="10.1" ry="4.2" transform="rotate(-33 157.7 82.1)" stroke="#2a2a2a" stroke-width="0.7" fill="rgba(0,0,0,0.21)"/>
<ellipse cx="158.3" cy="81.4" rx="8.4" ry="3.5" transform="rotate(-33 158.3 81.4)" stroke="#1b1b1b" stroke-width="0.7" fill="rgba(0,0,0,0.24)"/>
<ellipse cx="159.0" cy="80.8" rx="6.7" ry="2.9" transform="rotate(-33 159.0 80.8)" stroke="#0d0d0d" stroke-width="0.7" fill="rgba(0,0,0,0.28)"/>
<ellipse cx="159.7" cy="80.2" rx="5.0" ry="2.2" transform="rotate(-33 159.7 80.2)" stroke="#000000" stroke-width="0.7" fill="rgba(0,0,0,0.31)"/>
<path d="M152.4 83.8L163.7 79.8" stroke="#ddd" stroke-width="0.9" fill="none"/>
<path d="M160.4 60.0h.01M151.8 60.5h.01M162.2 61.1h.01M155.9 62.9h.01M150.8 63.8h.01M166.2 62.7h.01M166.4 63.9h.01M156.7 63.9h.01M158.5 63.4h.01M160.6 63.7h.01M164.4 60.4h.01M154.5 61.1h.01M161.8 62.4h.01M160.0 63.9h.01M159.0 58.3h.01M156.2 61.6h.01M158.5 60.7h.01M153.3 58.1h.01M163.6 62.1h.01M158.9 58.6h.01M160.5 62.0h.01M162.0 58.4h.01M159.7 59.6h.01M157.6 63.6h.01M156.4 61.6h.01" stroke="#777" stroke-width="0.8" stroke-linecap="round" fill="none"/>
<ellipse cx="203.6" cy="43.3" rx="2.1" ry="1.8" transform="rotate(-20 203.6 43.3)" stroke="#777" stroke-width="0.5" fill="none"/>
<ellipse cx="203.6" cy="43.3" rx="3.8" ry="3.2" transform="rotate(-20 203.6 43.3)" stroke="#777" stroke-width="0.5" fill="none"/>
<ellipse cx="203.6" cy="43.3" rx="5.5" ry="4.7" transform="rotate(-20 203.6 43.3)" stroke="#777" stroke-width="0.5" fill="none"/>
<ellipse cx="203.6" cy="43.3" rx="6.9" ry="5.9" transform="rotate(-20 203.6 43.3)" stroke="#777" stroke-width="0.5" fill="none"/>
<path d="M194.2 51.4h.01M200.4 48.5h.01M198.1 48.7h.01M197.7 47.1h.01M193.8 51.4h.01M198.7 49.4h.01M203.1 43.9h.01M196.3 38.2h.01M194.3 53.8h.01M200.6 48.4h.01M200.4 54.7h.01M187.5 48.5h.01M203.0 48.2h.01M186.6 46.6h.01M203.6 55.3h.01M198.4 58.0h.01M193.4 47.8h.01M192.2 45.6h.01M197.4 54.2h.01M193.9 53.4h.01M185.9 52.1h.01M202.8 41.6h.01M187.1 50.3h.01M195.3 49.8h.01M193.4 47.4h.01M205.8 51.1h.01M187.0 48.1h.01M202.4 50.9h.01M199.1 48.8h.01M187.7 57.5h.01M192.1 48.7h.01M189.9 52.0h.01M197.6 53.6h.01M199.7 44.1h.01M202.6 48.0h.01M191.8 44.5h.01M199.5 48.0h.01M194.9 43.0h.01" stroke="#555" stroke-width="0.8" stroke-linecap="round" fill="none"/>
<path d="M187.8 75.2h.01M196.6 70.2h.01M199.4 96.4h.01M176.7 76.8h.01M164.4 80.4h.01M173.5 71.9h.01M175.7 77.9h.01M152.8 83.8h.01M183.8 82.6h.01M208.3 70.1h.01M161.1 86.0h.01M169.0 73.7h.01M187.5 67.4h.01M185.2 87.2h.01M185.7 82.6h.01M197.5 78.1h.01M179.9 73.7h.01M166.4 86.1h.01M154.9 77.8h.01M159.3 74.4h.01M161.6 84.4h.01M175.1 82.2h.01M199.5 70.2h.01M166.5 90.0h.01M161.2 66.5h.01M158.4 73.4h.01M186.7 82.8h.01M179.4 79.2h.01M185.1 86.3h.01M159.1 84.6h.01M161.2 90.6h.01M172.3 75.9h.01M205.1 79.9h.01M210.0 73.8h.01M207.3 71.3h.01M169.5 85.1h.01M187.4 83.8h.01M152.7 82.0h.01M188.8 74.7h.01M152.5 92.6h.01M164.3 83.0h.01M196.3 84.7h.01M164.9 80.7h.01M174.2 82.4h.01M189.7 89.3h.01M168.7 88.4h.01M179.6 88.9h.01M171.8 80.9h.01M179.5 81.1h.01M155.5 70.7h.01M175.3 78.5h.01M200.5 75.5h.01M199.4 73.4h.01M166.3 80.1h.01M161.1 80.6h.01M170.8 74.3h.01M165.4 66.4h.01M198.8 77.9h.01M170.6 80.0h.01M184.9 82.5h.01M188.3 72.9h.01M165.9 69.5h.01M157.3 65.2h.01M184.9 79.8h.01M157.7 75.2h.01M198.8 84.6h.01M162.5 68.5h.01M177.3 90.5h.01M166.9 78.4h.01" stroke="#555" stroke-width="0.8" stroke-linecap="round" fill="none"/>
<rect x="180.72" y="31.39" width="33.43" height="29.59" stroke="#000" stroke-width="1.2" fill="none"/>
<rect x="129.60" y="63.91" width="85.10" height="50.09" stroke="#000" stroke-width="1.3" fill="none"/>
</g>
<rect x="129.00" y="28.30" width="86.60" height="86.20" stroke="#000" stroke-width="1.4" fill="none"/>
<text x="167.20" y="44.20" text-anchor="middle">EC</text>
<path d="M216.00 90.20L232.00 90.20" stroke="#000" stroke-width="1.2" fill="none"/>
<path d="M235.00 90.20L229.10 87.40L229.10 93.00Z" fill="#000"/>
<clipPath id="cp2"><rect x="238.80" y="28.30" width="86.80" height="86.20"/></clipPath><g clip-path="url(#cp2)">
<path d="M239.0 78.9C241.4 73.5 247.8 80.1 253.3 79.8C258.7 79.5 265.8 78.4 271.5 77.1C277.3 75.7 281.9 72.7 288.0 71.6C294.1 70.5 302.8 69.7 308.1 70.3C313.3 70.9 317.2 73.1 319.4 75.2C321.6 77.4 322.0 80.5 321.2 83.1C320.4 85.7 318.5 88.5 314.5 90.8C310.4 93.0 302.7 94.6 297.1 96.6C291.5 98.6 284.8 100.5 280.7 102.6C276.6 104.8 277.0 107.8 272.4 109.4C267.9 111.0 258.8 111.5 253.3 112.0C247.7 112.4 241.4 117.8 239.0 112.3C236.6 106.8 236.6 84.3 239.0 78.9Z" stroke="#999" stroke-width="0.5" fill="rgba(0,0,0,0.10)"/>
<path d="M239.0 78.9C241.4 73.5 247.8 80.1 253.3 79.8C258.7 79.5 265.8 78.4 271.5 77.1C277.3 75.7 281.9 72.7 288.0 71.6C294.1 70.5 302.8 69.7 308.1 70.3C313.3 70.9 317.2 73.1 319.4 75.2C321.6 77.4 322.0 80.5 321.2 83.1C320.4 85.7 318.5 88.5 314.5 90.8C310.4 93.0 302.7 94.6 297.1 96.6C291.5 98.6 284.8 100.5 280.7 102.6C276.6 104.8 277.0 107.8 272.4 109.4C267.9 111.0 258.8 111.5 253.3 112.0C247.7 112.4 241.4 117.8 239.0 112.3C236.6 106.8 236.6 84.3 239.0 78.9Z" stroke="#999" stroke-width="0.5" fill="none"/>
<path d="M241.1 79.6C243.4 74.4 249.5 80.7 254.6 80.4C259.8 80.2 266.5 79.1 272.0 77.8C277.5 76.5 281.8 73.7 287.6 72.6C293.4 71.6 301.7 70.8 306.7 71.4C311.7 72.0 315.4 74.1 317.5 76.1C319.5 78.1 320.0 81.1 319.2 83.6C318.4 86.0 316.6 88.7 312.8 90.9C309.0 93.0 301.6 94.5 296.3 96.4C290.9 98.3 284.6 100.1 280.7 102.1C276.8 104.2 277.2 107.1 272.9 108.6C268.5 110.0 259.9 110.5 254.6 111.0C249.3 111.5 243.4 116.6 241.1 111.3C238.8 106.1 238.8 84.7 241.1 79.6Z" stroke="#888" stroke-width="0.5" fill="none"/>
<path d="M243.2 80.3C245.3 75.4 251.1 81.4 256.0 81.1C260.9 80.8 267.2 79.9 272.4 78.6C277.7 77.4 281.8 74.7 287.2 73.7C292.7 72.7 300.6 72.0 305.3 72.5C310.0 73.1 313.6 75.1 315.5 77.0C317.5 78.9 317.9 81.7 317.2 84.0C316.4 86.4 314.7 88.9 311.1 90.9C307.5 93.0 300.5 94.4 295.5 96.2C290.4 98.0 284.4 99.7 280.7 101.6C277.0 103.6 277.4 106.3 273.3 107.7C269.2 109.1 261.0 109.6 256.0 110.0C251.0 110.5 245.3 115.3 243.2 110.3C241.0 105.4 241.0 85.1 243.2 80.3Z" stroke="#999" stroke-width="0.5" fill="none"/>
<ellipse cx="256.8" cy="94.1" rx="15.5" ry="12.0" transform="rotate(0 256.8 94.1)" stroke="#777" stroke-width="0.7" fill="rgba(0,0,0,0.15)"/>
<ellipse cx="256.8" cy="94.1" rx="13.6" ry="10.5" transform="rotate(0 256.8 94.1)" stroke="#666" stroke-width="0.7" fill="rgba(0,0,0,0.15)"/>
<ellipse cx="256.8" cy="94.1" rx="11.7" ry="9.0" transform="rotate(0 256.8 94.1)" stroke="#555" stroke-width="0.7" fill="rgba(0,0,0,0.15)"/>
<ellipse cx="256.8" cy="94.1" rx="9.8" ry="7.5" transform="rotate(0 256.8 94.1)" stroke="#444" stroke-width="0.7" fill="rgba(0,0,0,0.15)"/>
<ellipse cx="256.8" cy="94.1" rx="7.9" ry="6.0" transform="rotate(0 256.8 94.1)" stroke="#333" stroke-width="0.7" fill="rgba(0,0,0,0.15)"/>
<ellipse cx="256.8" cy="94.1" rx="6.0" ry="4.5" transform="rotate(0 256.8 94.1)" stroke="#444" stroke-width="0.7" fill="rgba(0,0,0,0.15)"/>
<ellipse cx="254.2" cy="93.0" rx="2.2" ry="1.5" transform="rotate(-10 254.2 93.0)" stroke="#666" stroke-width="0.5" fill="#e8e8e8"/>
<ellipse cx="263.3" cy="94.4" rx="2.0" ry="1.6" transform="rotate(0 263.3 94.4)" stroke="#666" stroke-width="0.5" fill="#e8e8e8"/>
<ellipse cx="297.1" cy="82.0" rx="23.0" ry="10.5" transform="rotate(-6 297.1 82.0)" stroke="#888" stroke-width="0.7" fill="rgba(0,0,0,0.09)"/>
<ellipse cx="296.9" cy="82.0" rx="20.8" ry="9.6" transform="rotate(-6 296.9 82.0)" stroke="#777" stroke-width="0.7" fill="rgba(0,0,0,0.09)"/>
<ellipse cx="296.6" cy="82.0" rx="18.7" ry="8.7" transform="rotate(-6 296.6 82.0)" stroke="#666" stroke-width="0.7" fill="rgba(0,0,0,0.09)"/>
<ellipse cx="296.4" cy="82.0" rx="16.5" ry="7.8" transform="rotate(-6 296.4 82.0)" stroke="#555" stroke-width="0.7" fill="rgba(0,0,0,0.09)"/>
<ellipse cx="296.1" cy="82.0" rx="14.3" ry="6.8" transform="rotate(-6 296.1 82.0)" stroke="#444" stroke-width="0.7" fill="rgba(0,0,0,0.09)"/>
<ellipse cx="295.9" cy="82.0" rx="12.2" ry="5.9" transform="rotate(-6 295.9 82.0)" stroke="#333" stroke-width="0.7" fill="rgba(0,0,0,0.09)"/>
<ellipse cx="295.6" cy="82.0" rx="10.0" ry="5.0" transform="rotate(-6 295.6 82.0)" stroke="#222" stroke-width="0.7" fill="rgba(0,0,0,0.09)"/>
<path d="M286.5 79.8C287.6 78.3 291.5 76.8 294.4 76.5C297.2 76.3 301.8 77.1 303.5 78.3C305.2 79.6 305.8 82.3 304.4 83.8C303.0 85.3 298.0 87.2 295.3 87.5C292.5 87.7 289.4 86.6 288.0 85.3C286.5 84.0 285.5 81.3 286.5 79.8Z" stroke="#000" stroke-width="0" fill="#1c1c1c"/>
<path d="M291.3 81.6C291.9 81.0 294.7 79.9 296.2 79.8C297.7 79.7 300.2 80.6 300.4 81.3C300.6 81.9 298.4 83.4 297.1 83.8C295.8 84.2 293.5 84.2 292.5 83.8C291.6 83.5 290.7 82.3 291.3 81.6Z" stroke="#000" stroke-width="0" fill="#ccc"/>
<ellipse cx="307.2" cy="84.4" rx="2.2" ry="1.2" transform="rotate(-10 307.2 84.4)" stroke="#555" stroke-width="0.4" fill="#ddd"/>
<path d="M239.0 82.4Q245.6 96.2 239.0 110.1" stroke="#000" stroke-width="3.0" fill="none"/>
<path d="M239.0 78.9Q250.5 96.2 239.0 113.1" stroke="#555" stroke-width="0.6" fill="rgba(0,0,0,0.15)"/>
<path d="M293.5 63.4C293.8 61.5 295.2 55.8 295.3 52.4C295.3 49.1 293.5 45.8 293.8 43.3C294.1 40.8 295.5 38.4 297.1 37.4C298.7 36.4 301.8 36.4 303.5 37.4C305.2 38.4 306.5 40.8 307.2 43.3C307.9 45.8 307.1 49.1 307.7 52.4C308.3 55.8 310.3 61.5 310.8 63.4" stroke="#444" stroke-width="0.8" fill="none"/>
<path d="M289.8 64.3C290.2 62.3 291.8 56.1 292.0 52.4C292.1 48.7 290.0 45.2 290.7 42.4C291.4 39.5 293.8 36.3 296.2 35.0C298.6 33.8 303.0 33.8 305.3 35.0C307.6 36.3 309.0 39.5 309.9 42.4C310.8 45.2 309.9 48.7 310.8 52.4C311.7 56.1 314.6 62.3 315.4 64.3" stroke="#666" stroke-width="0.6" fill="none"/>
<ellipse cx="299.9" cy="43.3" rx="4.2" ry="3.2" transform="rotate(60 299.9 43.3)" stroke="#444" stroke-width="0.8" fill="none"/>
<ellipse cx="302.6" cy="56.1" rx="1.6" ry="1.6" transform="rotate(0 302.6 56.1)" stroke="#555" stroke-width="0.6" fill="none"/>
<ellipse cx="301.7" cy="62.4" rx="5.0" ry="1.5" transform="rotate(0 301.7 62.4)" stroke="#666" stroke-width="0.5" fill="none"/>
<path d="M243.9 65.3h.01M255.2 59.9h.01M252.0 58.3h.01M257.6 73.8h.01M271.7 67.5h.01M251.2 70.7h.01M267.5 78.0h.01M287.8 70.8h.01M261.1 59.1h.01M263.0 64.7h.01M244.5 74.1h.01M255.5 56.1h.01M272.0 78.0h.01M265.3 78.0h.01M272.2 61.1h.01M255.8 79.6h.01M282.5 69.5h.01M282.7 60.8h.01M275.8 72.8h.01M277.9 72.8h.01M281.1 72.2h.01M269.3 77.4h.01M253.0 75.8h.01M288.7 57.8h.01M261.2 62.7h.01M244.7 70.7h.01M254.3 65.8h.01M265.0 66.6h.01M268.4 62.3h.01M275.3 67.7h.01M264.0 56.5h.01M285.6 66.4h.01M284.0 77.4h.01M258.7 63.4h.01M278.8 75.2h.01M278.0 58.1h.01M257.5 76.2h.01M289.5 63.0h.01M263.4 71.6h.01M269.9 68.9h.01M246.8 73.6h.01M248.6 66.0h.01M266.1 66.0h.01M267.1 62.1h.01M281.8 65.7h.01M283.4 77.1h.01M244.6 68.5h.01M245.2 68.7h.01M259.6 79.3h.01M281.0 69.4h.01" stroke="#666" stroke-width="0.8" stroke-linecap="round" fill="none"/>
<path d="M316.9 56.0h.01M319.8 55.9h.01M312.6 55.3h.01M321.8 40.6h.01M317.5 37.4h.01M314.1 53.5h.01M322.3 43.5h.01M321.5 52.7h.01M311.3 52.1h.01M317.3 52.6h.01M315.6 43.7h.01M308.1 60.5h.01M314.5 61.3h.01M318.2 46.9h.01M319.5 45.2h.01M321.7 42.4h.01M315.6 49.0h.01M311.2 46.0h.01M317.4 58.3h.01M312.1 44.8h.01M312.7 59.3h.01M309.6 53.1h.01M316.9 44.8h.01M310.0 53.1h.01M322.6 39.0h.01" stroke="#666" stroke-width="0.7" stroke-linecap="round" fill="none"/>
<rect x="288.89" y="31.39" width="36.31" height="34.16" stroke="#000" stroke-width="1.2" fill="none"/>
<rect x="274.28" y="69.21" width="50.92" height="44.79" stroke="#000" stroke-width="1.2" fill="none"/>
</g>
<rect x="238.80" y="28.30" width="86.80" height="86.20" stroke="#000" stroke-width="1.4" fill="none"/>
<text x="270.30" y="43.40" text-anchor="middle">MSC</text>
<text x="307.50" y="111.80" text-anchor="middle">OBC</text>
<clipPath id="cp3"><rect x="23.00" y="150.20" width="87.00" height="86.20"/></clipPath><g clip-path="url(#cp3)">
<path d="M39.5 173.7h.01M40.6 214.1h.01M40.8 212.1h.01M49.7 183.6h.01M53.1 203.4h.01M40.1 195.8h.01M52.0 168.3h.01M38.3 163.6h.01M46.3 191.8h.01M41.4 177.8h.01M40.8 201.5h.01M37.8 192.5h.01M42.0 210.8h.01M51.0 174.8h.01M42.6 204.0h.01M47.8 169.7h.01M40.7 159.4h.01M43.4 174.6h.01M38.2 161.7h.01M39.1 192.2h.01M41.0 156.0h.01M42.4 162.1h.01M38.0 166.4h.01M38.3 176.6h.01M40.9 198.4h.01M38.0 191.0h.01M38.6 166.8h.01M40.1 159.1h.01M44.0 205.6h.01M39.5 174.5h.01M40.1 184.9h.01M42.7 167.3h.01M39.1 188.6h.01M41.7 187.5h.01M39.5 194.0h.01M46.4 205.2h.01M45.5 191.8h.01M43.2 174.1h.01M52.4 195.2h.01M47.2 205.7h.01M38.3 159.3h.01M38.6 155.2h.01M47.9 213.9h.01M45.3 198.7h.01M39.4 159.7h.01M40.7 194.0h.01M43.4 193.4h.01M40.5 153.8h.01M38.4 177.7h.01M39.2 179.2h.01M40.5 159.0h.01M38.3 167.5h.01M47.8 169.4h.01M41.2 159.5h.01M46.5 178.4h.01M41.8 171.0h.01M43.1 156.7h.01M47.3 211.3h.01M39.2 192.6h.01M46.9 162.0h.01M42.4 188.6h.01M46.3 165.1h.01M42.8 170.2h.01M42.3 173.9h.01M45.2 163.1h.01M38.6 191.3h.01M46.2 188.0h.01M37.8 183.8h.01M39.9 175.8h.01M40.8 169.6h.01M41.3 175.9h.01M38.1 195.7h.01M38.5 170.6h.01M43.4 185.7h.01M40.6 179.9h.01M42.9 210.2h.01M42.9 213.0h.01M46.6 193.0h.01M40.6 208.6h.01M39.3 174.2h.01M42.4 200.8h.01M38.6 183.7h.01M38.8 169.9h.01M39.1 170.8h.01M42.0 183.7h.01M42.1 176.9h.01M46.9 162.6h.01M39.9 206.4h.01M37.7 190.3h.01M43.1 200.8h.01M40.0 197.2h.01M44.6 198.7h.01M38.9 181.9h.01M38.4 209.5h.01M39.6 180.2h.01M47.6 171.4h.01M47.9 172.8h.01M41.3 170.6h.01M43.7 169.9h.01M41.1 181.4h.01M39.0 168.4h.01M38.4 161.8h.01M39.8 174.2h.01M41.7 184.5h.01M43.3 189.9h.01M38.3 186.8h.01M39.5 201.0h.01M40.0 176.5h.01M41.7 157.5h.01M41.4 160.2h.01M46.1 207.2h.01M43.6 162.0h.01M38.2 157.8h.01M55.1 179.2h.01M38.2 191.1h.01M42.3 158.8h.01M37.7 165.2h.01M42.0 191.6h.01M48.2 191.9h.01M39.5 190.9h.01M40.7 189.9h.01M44.2 197.4h.01M42.8 180.7h.01M47.8 179.9h.01M53.7 193.9h.01M39.4 199.4h.01M41.0 182.6h.01M41.2 170.0h.01M41.2 188.8h.01M41.2 199.6h.01M39.6 189.2h.01M41.3 215.1h.01M50.2 165.1h.01M38.8 190.5h.01M39.8 159.2h.01M39.7 173.8h.01M39.4 194.2h.01M42.4 170.2h.01M39.0 188.5h.01M41.8 201.7h.01M44.9 200.6h.01M39.4 185.9h.01M43.8 214.3h.01M39.2 182.8h.01M43.2 169.7h.01M39.4 181.7h.01M41.8 170.9h.01M40.8 178.4h.01M41.2 165.9h.01M40.9 160.4h.01M38.7 196.9h.01M42.4 164.7h.01M43.0 169.1h.01M40.2 199.1h.01M40.8 154.5h.01M45.6 205.3h.01M44.5 178.0h.01M40.6 200.1h.01M45.7 205.1h.01M39.0 174.9h.01M37.8 200.6h.01M39.1 190.4h.01M41.4 173.6h.01M42.5 203.9h.01M40.7 177.3h.01M38.6 177.6h.01M41.4 165.6h.01M40.8 185.7h.01M53.8 187.3h.01M41.3 196.4h.01M39.1 191.7h.01M41.0 156.7h.01M48.5 197.5h.01M38.3 158.9h.01M42.9 206.1h.01M38.2 162.9h.01M38.4 200.5h.01M41.8 177.8h.01M46.0 163.1h.01M41.8 192.9h.01M39.8 183.7h.01M40.6 196.6h.01M40.7 169.8h.01M39.4 178.8h.01M50.9 200.2h.01M41.5 199.9h.01M60.1 199.3h.01M43.8 158.4h.01M47.1 214.9h.01M38.5 182.5h.01M51.1 177.1h.01M42.3 176.6h.01M42.9 193.1h.01M41.3 204.9h.01M38.0 155.1h.01M45.9 199.4h.01M40.5 190.3h.01M39.1 176.1h.01M43.6 172.7h.01M42.4 210.1h.01M41.8 182.1h.01M39.5 156.9h.01M38.5 191.1h.01M46.7 166.7h.01M38.3 204.2h.01M43.9 200.3h.01M43.6 205.5h.01M49.0 166.1h.01M42.3 197.0h.01M42.9 165.8h.01M48.8 210.7h.01M41.0 174.7h.01M39.1 166.7h.01M39.2 187.6h.01M40.5 195.2h.01M40.5 202.0h.01M38.1 202.2h.01M41.3 190.4h.01M40.9 170.6h.01M40.3 193.9h.01M41.2 172.2h.01M40.3 178.5h.01M39.3 207.2h.01M43.7 189.5h.01M44.4 169.4h.01M40.6 203.4h.01M44.2 213.1h.01M42.1 190.2h.01M42.2 198.4h.01M41.8 208.7h.01M38.4 191.9h.01M40.2 180.3h.01M49.0 198.9h.01M38.0 168.1h.01M44.1 162.9h.01M39.3 167.0h.01M48.1 170.8h.01M39.9 158.3h.01M42.2 196.4h.01M38.6 189.5h.01M44.8 164.9h.01M45.9 177.0h.01M39.6 178.3h.01M44.4 197.3h.01M38.8 202.9h.01M50.5 205.1h.01M39.0 185.6h.01M51.6 178.8h.01M54.6 169.3h.01M43.9 177.7h.01M38.1 181.1h.01M44.8 198.2h.01M37.8 212.1h.01M48.8 186.5h.01M42.3 154.9h.01M40.3 177.1h.01M39.0 197.7h.01M41.5 167.3h.01M39.6 188.7h.01M38.6 175.3h.01M40.3 203.6h.01M41.7 178.9h.01M41.4 186.5h.01M38.2 155.0h.01M38.6 182.7h.01M44.7 190.9h.01M38.8 172.6h.01M38.2 166.7h.01M43.8 210.6h.01M57.4 160.2h.01M40.0 209.9h.01M39.9 209.9h.01M37.7 173.9h.01M45.3 196.4h.01M39.8 196.4h.01M40.0 206.3h.01M39.6 164.9h.01M39.5 152.9h.01M37.8 202.3h.01M40.6 157.3h.01M41.5 195.8h.01M38.4 204.1h.01M43.9 185.3h.01M51.5 175.5h.01M40.2 206.3h.01M44.8 203.7h.01M43.6 174.3h.01M39.6 177.3h.01M45.1 184.1h.01M49.5 187.8h.01M38.6 196.9h.01M39.6 200.3h.01M43.5 172.9h.01M42.2 164.4h.01M43.0 206.1h.01M39.9 169.0h.01M41.6 169.0h.01M39.1 160.6h.01M46.9 173.4h.01M39.7 162.1h.01M42.8 179.7h.01M37.8 215.7h.01M39.7 156.5h.01M38.0 188.0h.01M38.0 178.0h.01M46.1 215.5h.01M39.4 162.2h.01M37.7 183.8h.01M44.1 154.7h.01M41.4 163.8h.01M39.6 178.6h.01M39.4 154.3h.01M43.4 197.4h.01M50.2 203.6h.01M47.2 186.5h.01M40.3 160.8h.01M42.3 199.2h.01M37.9 207.6h.01M39.2 191.0h.01M44.5 159.1h.01M39.0 200.6h.01M40.4 171.9h.01M49.8 184.2h.01M42.4 191.6h.01M47.1 214.4h.01M39.6 206.2h.01M49.7 195.3h.01M39.0 184.0h.01M49.1 214.8h.01M43.1 196.7h.01M47.7 192.0h.01M39.4 208.0h.01M39.0 188.2h.01M38.1 200.6h.01M41.0 160.5h.01M43.0 178.2h.01M38.1 210.4h.01M40.1 213.0h.01M40.2 184.3h.01M39.2 165.3h.01M46.7 187.5h.01M41.1 193.3h.01M40.0 207.3h.01M49.3 198.9h.01M42.7 178.1h.01M38.1 201.7h.01M41.1 161.8h.01M40.0 204.2h.01M39.8 159.7h.01M39.8 165.3h.01M40.8 211.3h.01M42.9 209.5h.01M41.1 182.2h.01M43.9 208.0h.01M38.5 192.5h.01M41.6 167.5h.01M38.7 209.1h.01M38.9 197.7h.01M38.0 164.8h.01M38.7 185.2h.01M40.0 208.9h.01M39.0 194.7h.01M40.2 204.1h.01M38.0 166.9h.01M38.0 201.1h.01M38.9 200.8h.01M38.9 185.4h.01M42.0 163.1h.01M39.0 195.0h.01M40.8 192.9h.01M43.6 172.5h.01M42.8 196.6h.01M39.6 171.2h.01M41.0 195.6h.01M49.2 159.2h.01M38.4 175.1h.01M41.7 171.6h.01M49.8 176.7h.01M53.9 170.8h.01M39.8 202.8h.01M43.4 154.3h.01M40.6 185.2h.01M39.2 175.0h.01M42.7 165.8h.01M40.7 201.5h.01M38.8 212.7h.01M40.7 184.2h.01M55.1 208.1h.01M39.2 206.7h.01M52.1 183.9h.01M41.0 200.9h.01M44.6 209.9h.01M39.5 190.3h.01M42.6 185.8h.01M44.1 193.1h.01M43.7 170.1h.01M41.0 205.7h.01M42.6 164.8h.01M38.9 195.0h.01M38.4 184.4h.01M50.2 160.1h.01M38.0 169.8h.01M47.6 178.0h.01M52.3 199.6h.01M40.5 162.5h.01M42.0 191.1h.01M43.7 205.1h.01M56.5 213.3h.01M41.8 164.0h.01M41.3 202.4h.01M39.2 178.8h.01M39.4 194.1h.01M43.6 207.7h.01M44.4 191.5h.01M38.4 207.0h.01M38.0 205.1h.01M40.0 207.5h.01M40.4 183.7h.01M41.4 213.0h.01M50.0 203.0h.01M40.7 193.1h.01M38.4 181.3h.01M38.2 157.0h.01M38.9 178.7h.01M37.9 192.0h.01M43.8 163.6h.01M37.9 153.4h.01M39.7 161.0h.01M39.1 200.6h.01M41.6 198.9h.01M42.1 167.6h.01M39.4 182.8h.01M40.8 170.1h.01M43.5 207.9h.01M44.3 206.4h.01M39.7 188.6h.01M46.8 188.7h.01M41.8 185.3h.01M37.9 188.5h.01M51.7 189.4h.01M41.6 214.4h.01M41.5 209.0h.01M43.2 185.3h.01M42.5 207.9h.01M42.9 161.7h.01M42.6 189.2h.01M41.4 164.0h.01M37.9 191.6h.01M38.3 165.5h.01M47.2 200.5h.01M42.5 212.6h.01M43.3 184.8h.01M42.7 206.6h.01M52.2 171.2h.01M39.1 174.5h.01M40.0 173.6h.01M47.7 193.4h.01M45.7 161.8h.01M40.5 192.1h.01M47.0 170.7h.01M41.9 155.7h.01M45.3 174.7h.01M42.1 182.0h.01M38.3 215.1h.01M41.1 211.3h.01M38.6 154.5h.01M42.6 153.5h.01M55.6 166.7h.01M45.2 165.4h.01M54.7 204.2h.01M40.1 194.1h.01M39.2 188.2h.01M40.4 164.9h.01M42.7 201.2h.01M41.2 163.4h.01M41.3 181.7h.01M44.2 209.4h.01M38.2 176.1h.01M41.2 197.0h.01M38.1 190.9h.01M43.8 181.1h.01M39.6 163.4h.01M42.2 194.6h.01M38.6 214.1h.01M47.2 164.9h.01M41.1 203.3h.01M40.3 179.4h.01M37.8 169.0h.01M38.3 213.1h.01M40.1 175.1h.01M40.3 168.8h.01M39.5 181.1h.01M38.4 196.7h.01M45.4 181.0h.01M47.1 179.8h.01M44.8 165.5h.01M39.8 176.4h.01M37.9 167.2h.01M39.0 159.1h.01M38.5 161.9h.01M41.1 190.0h.01M43.5 208.5h.01M39.8 154.9h.01M43.3 170.5h.01M39.6 208.0h.01M38.0 189.9h.01M43.2 183.4h.01M42.4 167.5h.01M41.3 198.5h.01M38.2 163.8h.01M39.6 156.7h.01M41.6 211.5h.01M41.1 165.2h.01M46.7 161.9h.01M45.6 175.4h.01M47.1 164.4h.01M45.0 181.7h.01M42.3 166.1h.01M38.6 196.1h.01M40.4 188.3h.01M42.1 208.2h.01M40.7 192.6h.01M40.3 182.8h.01M39.2 171.7h.01M40.8 177.9h.01M44.0 190.4h.01M37.8 192.6h.01M38.3 157.6h.01M44.6 188.1h.01M42.1 157.3h.01M42.4 214.4h.01M38.3 160.2h.01M41.4 160.3h.01M40.8 189.7h.01M39.6 183.1h.01M45.7 194.2h.01M38.6 196.5h.01M40.8 174.1h.01M45.6 166.3h.01M41.0 184.3h.01M43.2 184.6h.01M39.3 203.4h.01M39.9 191.1h.01M37.8 154.8h.01M44.7 201.6h.01M37.8 196.8h.01M38.8 203.9h.01M41.3 202.0h.01M42.7 196.2h.01M38.6 192.2h.01M40.8 174.0h.01M43.3 162.8h.01M42.3 211.7h.01M38.6 173.7h.01M44.4 190.1h.01M41.4 162.1h.01M39.0 177.9h.01M39.6 178.1h.01M43.3 170.1h.01M41.7 176.4h.01M40.8 170.5h.01M51.4 158.2h.01M37.9 200.6h.01M43.2 163.8h.01M44.6 181.7h.01M43.8 169.7h.01M38.1 192.8h.01M39.3 198.6h.01M40.1 180.0h.01M38.4 189.4h.01M40.7 166.6h.01M41.7 214.3h.01M40.0 185.3h.01M43.6 159.0h.01M39.5 193.8h.01M44.1 193.0h.01M37.9 178.9h.01M41.0 165.1h.01M40.4 160.1h.01M56.1 178.2h.01M47.8 165.3h.01M39.2 184.2h.01M41.9 198.2h.01M40.6 198.5h.01M42.4 172.2h.01M44.5 183.7h.01M69.2 193.1h.01M38.2 197.1h.01M41.3 164.7h.01M42.0 192.5h.01M38.6 199.6h.01M47.6 192.5h.01M40.7 206.4h.01M47.8 162.5h.01M39.1 160.9h.01M47.9 163.5h.01M52.7 168.5h.01M43.6 204.1h.01M38.0 164.8h.01M39.0 157.5h.01M51.4 190.4h.01M44.8 196.1h.01M37.9 162.4h.01M40.2 190.1h.01M40.9 200.7h.01M42.5 182.1h.01M38.6 187.8h.01M43.5 188.1h.01M43.6 208.0h.01M48.3 157.3h.01M56.8 181.4h.01M38.1 165.4h.01M38.0 205.1h.01M42.4 168.5h.01M38.8 214.0h.01M42.6 202.9h.01M45.6 164.3h.01M41.4 210.3h.01M43.7 195.2h.01M41.8 196.2h.01M43.6 188.3h.01M39.6 195.5h.01M39.6 193.5h.01M38.0 153.1h.01M38.7 158.3h.01M38.2 194.0h.01M49.0 197.3h.01M48.5 176.7h.01M39.2 160.7h.01M43.4 200.8h.01M39.9 171.7h.01M45.5 193.7h.01M46.4 198.7h.01M53.1 207.4h.01M40.8 189.6h.01M44.4 167.0h.01M38.9 207.9h.01M40.3 198.9h.01M43.7 183.7h.01M41.8 198.5h.01M39.7 209.8h.01M40.0 169.1h.01M40.3 174.1h.01M37.8 164.6h.01M47.0 187.1h.01M39.7 199.9h.01M43.4 197.6h.01M44.6 166.8h.01M39.8 184.5h.01M41.8 182.8h.01M37.9 181.4h.01M42.9 193.2h.01M43.4 158.1h.01M49.5 165.9h.01M41.6 181.9h.01M39.9 191.4h.01M45.7 164.3h.01M45.8 156.1h.01M40.9 178.6h.01M42.6 172.8h.01M38.1 195.9h.01M49.9 157.4h.01M38.9 188.5h.01M43.7 174.2h.01M41.2 174.8h.01M43.1 168.3h.01M38.7 194.8h.01M45.4 175.9h.01M45.5 208.2h.01M40.6 165.3h.01M38.4 196.9h.01M38.8 170.4h.01M46.9 159.3h.01M37.9 175.0h.01M37.9 207.2h.01M42.2 201.5h.01M41.5 169.0h.01M40.0 167.1h.01M39.3 202.8h.01M38.5 179.1h.01M44.3 186.1h.01M38.8 196.1h.01M39.8 157.2h.01M40.2 175.0h.01M39.4 192.6h.01M46.5 179.2h.01M46.1 173.6h.01M38.8 188.7h.01M38.8 178.4h.01M40.9 192.9h.01M44.4 171.6h.01M44.4 213.2h.01M41.2 157.2h.01M45.8 203.3h.01M40.5 180.8h.01M41.4 172.7h.01M39.0 196.8h.01M40.5 169.4h.01M39.1 167.6h.01M44.1 163.8h.01M38.8 174.6h.01M49.3 192.9h.01M38.4 196.4h.01M42.3 165.1h.01M41.8 192.8h.01M43.2 210.7h.01M39.1 203.7h.01M40.3 215.3h.01M51.4 170.1h.01M45.3 190.0h.01M53.8 176.1h.01M39.7 175.1h.01M42.4 206.8h.01M40.2 195.3h.01M44.8 168.7h.01M49.1 183.9h.01M40.2 212.6h.01M38.4 208.7h.01M39.6 196.6h.01M40.1 179.8h.01M40.9 186.3h.01M38.2 203.7h.01M39.2 175.2h.01M39.8 199.5h.01M38.8 172.7h.01M39.6 176.1h.01M39.4 200.2h.01M38.3 174.1h.01M49.4 206.3h.01M55.6 192.9h.01M38.4 183.6h.01M42.4 192.2h.01M41.6 163.6h.01M38.4 172.4h.01M39.4 197.0h.01M42.7 187.1h.01M41.2 210.5h.01M50.2 202.1h.01M41.3 174.6h.01M45.6 187.2h.01M37.7 175.6h.01M41.5 154.3h.01M44.3 178.3h.01M40.2 167.8h.01M41.5 182.3h.01M40.3 180.1h.01M45.9 184.6h.01M39.2 164.0h.01M39.4 209.6h.01M39.7 187.1h.01M41.3 153.1h.01M40.3 182.0h.01M38.6 187.8h.01M40.8 173.3h.01M43.6 197.9h.01M38.0 154.0h.01M39.4 195.3h.01M39.0 178.2h.01M38.0 190.2h.01M42.0 180.1h.01M43.7 182.8h.01M41.9 172.5h.01M41.3 189.5h.01M37.8 175.4h.01M38.4 183.8h.01M43.3 213.1h.01M39.5 156.3h.01M39.7 192.3h.01M54.1 207.5h.01M39.6 214.4h.01M38.7 186.2h.01M43.5 186.2h.01M45.0 197.4h.01M44.8 170.2h.01M38.6 186.0h.01M43.7 203.9h.01M38.0 194.6h.01M41.9 156.1h.01M40.0 200.8h.01M38.2 156.9h.01M42.2 169.4h.01M44.7 185.9h.01M38.0 184.9h.01M41.5 197.1h.01M41.6 182.4h.01M39.2 184.1h.01M40.6 212.1h.01M41.1 174.6h.01M40.2 191.4h.01M54.5 206.8h.01M39.7 205.8h.01M41.3 168.6h.01M37.9 181.2h.01M39.3 198.5h.01M46.1 196.0h.01M47.3 178.1h.01M39.7 182.8h.01M39.1 199.3h.01M42.8 190.4h.01M47.6 197.7h.01M42.0 190.2h.01M52.7 156.4h.01M48.1 172.3h.01M42.3 177.0h.01M37.8 175.7h.01M41.2 207.5h.01M39.6 160.4h.01M44.8 173.2h.01M41.1 206.9h.01M39.7 167.1h.01M42.0 193.5h.01M45.4 169.3h.01M41.7 162.3h.01M49.9 207.8h.01M52.6 168.0h.01M43.5 158.4h.01M39.6 203.1h.01M45.1 181.8h.01M43.7 164.5h.01M40.5 182.6h.01M50.4 170.5h.01M43.8 159.8h.01M45.6 197.7h.01M40.8 207.4h.01M42.4 193.1h.01M42.0 209.3h.01M41.7 197.3h.01M44.9 182.3h.01M40.1 155.0h.01M39.8 170.5h.01M39.7 174.5h.01M44.9 191.2h.01M38.7 182.3h.01M42.7 171.3h.01M39.4 184.6h.01M37.9 188.5h.01M38.3 210.6h.01M43.1 203.0h.01M45.4 205.8h.01M39.0 170.3h.01M38.1 185.0h.01M41.2 207.8h.01M38.6 163.8h.01M47.1 160.8h.01M40.0 192.1h.01M49.1 170.3h.01M44.4 176.4h.01M40.6 189.8h.01M38.9 206.7h.01M39.0 175.9h.01M42.1 164.5h.01M39.5 168.5h.01M37.9 205.8h.01M55.1 159.8h.01M42.8 201.3h.01M38.4 215.4h.01M38.2 187.4h.01M40.2 199.5h.01M41.0 197.9h.01M46.0 206.0h.01M41.6 210.1h.01M37.9 200.2h.01M42.4 193.2h.01M43.4 176.0h.01M41.2 160.7h.01M44.8 177.5h.01M43.3 204.2h.01M39.6 178.6h.01M44.3 187.8h.01M40.0 199.8h.01M43.8 178.6h.01M45.2 210.1h.01M37.9 207.2h.01M41.8 191.7h.01M49.6 181.4h.01M40.8 211.7h.01M38.7 181.8h.01M38.8 186.2h.01M43.4 188.1h.01M50.0 191.6h.01M39.5 190.4h.01M40.6 168.0h.01M46.2 212.5h.01M38.0 214.8h.01M40.4 177.0h.01M38.9 186.3h.01M59.5 168.0h.01M56.1 184.2h.01M43.8 207.4h.01M37.9 211.5h.01M39.3 196.5h.01M40.7 163.6h.01M40.8 196.7h.01M38.0 183.9h.01M39.7 154.6h.01M39.0 156.7h.01M44.0 186.2h.01M37.7 156.3h.01M38.7 198.1h.01M39.7 162.6h.01M39.9 185.6h.01M43.3 175.2h.01M44.0 161.9h.01M39.0 191.7h.01M52.9 170.2h.01M37.9 203.8h.01M37.8 179.2h.01M47.0 194.1h.01M50.7 187.8h.01M39.1 200.7h.01M39.9 161.9h.01M55.9 182.7h.01M38.1 194.4h.01M41.6 199.2h.01M39.0 202.1h.01M38.3 208.1h.01M39.0 200.6h.01M59.7 191.2h.01M57.0 190.7h.01M50.1 212.2h.01M42.7 181.4h.01M47.3 178.6h.01M49.5 177.6h.01M39.8 161.8h.01M41.2 158.0h.01M46.6 209.5h.01M38.1 186.5h.01M40.7 207.6h.01M43.9 208.3h.01M37.9 207.7h.01M40.0 213.2h.01M40.4 163.4h.01M39.5 165.9h.01M41.2 190.4h.01M51.0 185.1h.01M41.8 174.9h.01M39.5 196.6h.01M58.3 184.2h.01M51.1 184.5h.01M46.8 185.2h.01M38.2 162.4h.01M41.1 205.9h.01M43.5 154.1h.01M47.3 195.1h.01M38.1 181.1h.01M41.2 176.3h.01M37.8 165.4h.01M40.2 199.8h.01M43.2 214.0h.01M50.6 197.4h.01M44.8 179.9h.01M53.0 210.2h.01M42.5 180.1h.01M43.1 212.2h.01M40.3 201.8h.01M39.4 202.6h.01M40.4 170.9h.01M38.7 208.8h.01M40.6 199.7h.01M38.3 156.5h.01M45.5 199.9h.01M41.7 207.7h.01M51.0 164.5h.01M45.3 179.8h.01M38.0 198.3h.01M39.6 191.5h.01M40.5 202.1h.01M45.8 162.3h.01M46.2 213.7h.01M39.9 159.8h.01M38.4 212.1h.01M40.3 189.5h.01M37.8 195.6h.01M46.6 197.0h.01M41.2 196.4h.01M43.8 171.8h.01M38.6 161.2h.01M45.7 205.5h.01M41.3 190.3h.01M43.6 179.3h.01M42.3 175.4h.01M46.5 194.5h.01M40.1 184.4h.01M39.9 159.9h.01M43.2 179.5h.01M47.9 194.5h.01M39.0 181.5h.01M48.6 189.3h.01M39.1 187.0h.01M50.8 173.9h.01M45.0 161.3h.01M41.4 170.9h.01M39.3 169.9h.01M39.0 209.0h.01M43.0 184.1h.01M43.3 181.0h.01M37.9 152.9h.01M43.8 200.0h.01M47.7 168.8h.01M39.4 202.0h.01M44.8 189.9h.01M41.4 184.5h.01M45.2 210.9h.01M38.4 178.8h.01M38.4 166.7h.01M40.9 214.6h.01M40.1 165.6h.01M38.9 163.7h.01M39.2 179.6h.01M38.8 184.3h.01M52.6 165.8h.01M39.1 190.0h.01M38.0 211.5h.01M41.1 186.7h.01M50.1 191.6h.01M41.8 173.4h.01M55.4 175.4h.01M42.7 178.9h.01M48.9 198.2h.01M37.9 197.4h.01M38.7 205.6h.01M37.8 189.1h.01M40.4 183.2h.01M42.5 188.5h.01M39.1 215.0h.01M46.1 179.1h.01M38.2 201.3h.01M40.3 182.5h.01M38.5 211.0h.01M42.4 180.2h.01M42.2 153.1h.01M41.6 183.2h.01M37.9 207.5h.01M42.5 203.6h.01M52.5 157.6h.01M40.9 184.2h.01M39.3 203.3h.01M40.2 205.4h.01M40.2 172.4h.01M40.6 176.2h.01M40.6 201.6h.01M39.6 188.5h.01M48.9 210.7h.01M39.9 205.6h.01M38.6 164.2h.01M39.5 191.7h.01M44.6 198.5h.01M49.3 180.5h.01M40.3 153.6h.01M42.0 164.1h.01M49.0 200.6h.01M42.3 194.2h.01M41.9 154.7h.01M42.2 199.8h.01M38.5 159.1h.01M42.5 154.1h.01M37.9 179.5h.01M37.9 167.2h.01M38.0 178.6h.01M39.5 163.1h.01M39.8 156.8h.01M47.4 200.7h.01M38.6 162.7h.01M39.7 182.7h.01M37.8 170.8h.01M38.6 158.0h.01M51.7 180.2h.01M40.6 215.5h.01M39.9 194.1h.01M38.1 199.7h.01M37.8 195.5h.01M44.8 165.2h.01M42.5 210.6h.01M46.1 190.9h.01M41.2 157.3h.01M42.2 181.5h.01M40.8 167.2h.01M38.6 191.5h.01M41.0 196.0h.01M38.4 201.4h.01M42.7 158.3h.01M41.5 179.8h.01M44.7 157.3h.01M39.6 188.7h.01M53.3 154.1h.01M39.8 167.3h.01M42.8 158.9h.01M62.3 199.7h.01M42.0 172.2h.01M43.8 175.6h.01M46.2 172.6h.01M45.8 198.8h.01M39.8 192.7h.01M47.5 196.0h.01M40.7 199.5h.01M37.8 189.8h.01M45.7 210.4h.01M40.3 192.1h.01M39.8 176.6h.01M38.4 209.1h.01M38.5 198.9h.01M40.9 200.3h.01M43.6 207.8h.01M40.5 214.4h.01M46.2 158.6h.01M43.0 178.8h.01M48.8 213.9h.01M43.8 193.5h.01M44.2 179.5h.01M45.1 186.7h.01M45.5 208.9h.01M39.3 169.7h.01M39.3 196.3h.01M43.7 186.0h.01M40.6 168.6h.01M44.6 206.3h.01M39.3 179.3h.01M46.0 195.5h.01M38.9 176.9h.01M41.2 156.5h.01M38.9 172.5h.01M38.6 190.7h.01M42.5 195.7h.01M39.4 178.3h.01M41.9 204.7h.01M37.8 170.4h.01M41.4 177.1h.01M54.2 195.3h.01M42.5 193.3h.01M38.1 187.8h.01M41.8 196.4h.01M38.0 197.4h.01M37.8 202.8h.01M38.9 196.3h.01M47.2 175.9h.01M41.1 160.7h.01M44.6 208.8h.01M39.5 210.7h.01M38.4 178.0h.01M38.0 191.0h.01M38.2 212.0h.01M49.2 214.5h.01M37.7 161.1h.01M38.5 168.3h.01M40.3 157.2h.01M50.4 163.4h.01M42.7 203.1h.01M42.2 194.4h.01M42.3 159.4h.01M38.2 179.1h.01M38.1 203.0h.01M40.1 188.7h.01M41.0 177.1h.01M39.1 165.2h.01M42.9 210.7h.01M39.1 189.0h.01M42.0 189.4h.01M41.6 196.9h.01M40.3 192.1h.01M43.5 195.0h.01M41.7 215.5h.01M41.2 192.5h.01M40.4 176.0h.01M47.1 208.4h.01M39.7 199.0h.01M37.7 173.1h.01M52.6 156.6h.01M48.2 180.1h.01M40.1 180.9h.01M43.8 186.5h.01M39.9 213.2h.01M45.2 204.5h.01M45.5 205.5h.01M41.6 197.2h.01M41.8 166.1h.01M42.9 168.1h.01M42.2 184.1h.01M38.5 174.3h.01M49.4 193.6h.01M39.9 174.0h.01M40.5 162.4h.01M44.1 164.1h.01M49.2 188.1h.01M41.5 198.0h.01M38.0 186.4h.01M39.0 178.6h.01M39.5 183.2h.01M39.3 172.0h.01M40.0 186.0h.01M41.4 180.7h.01M42.0 209.0h.01M44.5 176.3h.01M40.1 176.4h.01M39.5 176.3h.01M44.3 186.1h.01M56.4 164.6h.01M42.9 208.0h.01M38.1 172.8h.01M48.5 157.7h.01M43.4 207.8h.01M39.5 188.7h.01M37.9 187.7h.01M47.0 191.2h.01M39.4 176.6h.01M42.1 163.6h.01M39.1 200.6h.01M46.1 193.6h.01M41.1 209.8h.01M38.8 168.1h.01M38.7 179.6h.01M42.4 182.2h.01M59.6 183.6h.01M43.0 178.2h.01M41.4 192.4h.01M38.3 194.9h.01M39.9 202.8h.01M37.8 169.5h.01M50.0 180.1h.01M38.7 154.5h.01M42.5 165.4h.01M39.3 176.3h.01M41.7 169.5h.01M45.0 198.6h.01M50.5 165.8h.01M41.5 214.1h.01M39.5 170.8h.01M51.2 186.0h.01M39.5 175.8h.01M44.9 203.7h.01M38.3 199.8h.01M39.4 177.5h.01M38.6 171.8h.01M38.5 154.0h.01M47.6 196.1h.01M41.2 179.1h.01M47.5 169.4h.01M42.5 176.4h.01M38.3 175.7h.01M42.3 184.6h.01M45.2 175.4h.01M41.0 168.7h.01" stroke="#111" stroke-width="0.85" stroke-linecap="round" fill="none"/>
<path d="M84.8 212.5h.01M104.5 156.3h.01M92.3 195.5h.01M87.1 171.6h.01M72.1 199.5h.01M99.5 190.1h.01M67.1 167.3h.01M87.2 202.7h.01M97.9 164.1h.01M64.1 167.5h.01M98.5 210.6h.01M87.4 163.2h.01M77.8 179.5h.01M63.3 156.2h.01M65.8 206.0h.01M104.7 182.8h.01M57.5 175.3h.01M92.8 154.3h.01M91.9 172.8h.01M67.9 170.5h.01M75.5 197.4h.01M72.3 169.9h.01M86.2 173.3h.01M99.2 157.1h.01M91.7 163.9h.01M80.9 166.8h.01M72.6 166.9h.01M97.9 199.3h.01M94.9 153.3h.01M84.5 188.2h.01M76.1 168.1h.01M64.7 196.1h.01M58.8 207.5h.01M91.4 185.6h.01M78.9 187.3h.01M103.9 210.5h.01M66.0 153.7h.01M55.7 160.1h.01M94.8 156.9h.01M93.3 183.5h.01M70.0 204.3h.01M98.3 176.1h.01M62.1 183.7h.01M95.7 209.9h.01M63.8 199.4h.01M59.0 197.2h.01M82.1 174.7h.01M98.6 211.8h.01M90.9 157.9h.01M80.5 156.4h.01M103.6 202.7h.01M71.7 209.7h.01M64.9 180.1h.01M80.5 212.9h.01M105.3 202.1h.01M105.0 210.2h.01M78.0 203.0h.01M81.3 199.6h.01M88.6 159.9h.01M70.9 170.0h.01M71.7 169.2h.01M102.6 183.7h.01M57.9 185.6h.01M95.1 211.3h.01M74.2 159.9h.01M74.5 214.5h.01M85.4 183.4h.01M76.8 214.0h.01M96.7 169.1h.01M82.6 193.4h.01M94.2 194.1h.01M58.3 182.7h.01M105.6 199.0h.01M67.2 194.5h.01M103.9 177.2h.01M81.9 157.0h.01M92.2 169.3h.01M71.2 201.0h.01M62.6 156.9h.01M90.0 179.6h.01M94.4 178.2h.01M59.3 182.4h.01M105.7 185.6h.01M56.1 181.3h.01M94.9 182.1h.01M98.6 192.6h.01M105.5 213.8h.01M70.7 207.1h.01M55.8 153.4h.01M63.0 159.2h.01M60.1 209.6h.01M87.5 194.7h.01M83.5 156.4h.01M58.3 164.9h.01M86.0 176.4h.01M91.2 165.1h.01M59.5 179.0h.01M90.6 172.5h.01M81.2 209.6h.01M86.4 166.7h.01M102.7 162.9h.01M105.1 163.5h.01M73.9 198.3h.01M63.0 191.0h.01M73.8 214.4h.01M58.8 184.1h.01M70.0 157.7h.01M56.1 200.5h.01M97.9 168.7h.01M69.1 200.2h.01M61.7 205.7h.01M87.3 156.5h.01M79.0 155.9h.01M90.9 215.4h.01M82.2 206.9h.01M77.8 204.1h.01M92.7 187.4h.01M88.2 189.0h.01M74.0 205.5h.01M102.7 163.7h.01M58.0 203.1h.01M97.4 200.2h.01M65.5 172.8h.01M82.0 155.5h.01M96.2 202.7h.01M83.4 164.1h.01M84.6 213.6h.01M67.5 170.1h.01M71.4 186.3h.01M103.1 214.8h.01M59.0 157.2h.01M99.6 209.5h.01M102.8 210.7h.01M63.4 158.2h.01M104.0 191.2h.01M56.2 200.2h.01M57.9 195.5h.01M78.9 156.4h.01M73.4 166.0h.01M92.5 175.2h.01" stroke="#555" stroke-width="0.8" stroke-linecap="round" fill="none"/>
<path d="M94.3 168.0h.01M95.9 181.5h.01M97.0 185.8h.01M98.1 172.6h.01M95.0 179.4h.01M97.4 167.1h.01M95.8 189.9h.01M91.4 196.5h.01M92.3 186.0h.01M96.0 187.7h.01M96.8 189.7h.01M95.0 195.5h.01M95.2 194.0h.01M94.4 190.7h.01M94.4 192.6h.01M96.7 172.6h.01M95.0 189.4h.01M94.5 178.2h.01M96.0 189.2h.01M94.5 185.4h.01M95.7 185.6h.01M94.8 190.2h.01M95.7 187.1h.01M95.0 182.3h.01M93.2 202.2h.01M96.5 186.2h.01M96.3 189.5h.01M95.4 182.8h.01M94.7 179.9h.01M96.8 178.2h.01M94.2 185.8h.01M95.7 185.2h.01M95.9 190.8h.01M96.0 181.2h.01M95.0 196.2h.01M94.8 193.6h.01M97.6 163.5h.01M94.3 171.6h.01M93.1 180.6h.01M93.4 185.6h.01M95.3 189.2h.01M94.3 188.0h.01M96.2 181.9h.01M96.6 199.4h.01M93.1 172.9h.01" stroke="#444" stroke-width="0.8" stroke-linecap="round" fill="none"/>
<path d="M33.2 151.9C34.2 150.4 37.3 149.4 38.3 151.9C39.3 154.4 39.0 161.1 39.2 166.9C39.4 172.8 39.5 180.3 39.4 187.0C39.2 193.7 38.9 202.4 38.3 207.1C37.7 211.9 36.6 214.4 35.7 215.5C34.8 216.7 33.5 216.7 32.8 214.1C32.1 211.4 31.7 205.8 31.5 199.8C31.3 193.8 31.6 184.3 31.7 177.9C31.8 171.5 32.0 165.8 32.2 161.4C32.5 157.1 32.1 153.5 33.2 151.9Z" stroke="#000" stroke-width="0" fill="#111"/>
<path d="M34.4 155.0C35.1 153.7 36.9 152.5 37.5 155.4C38.1 158.3 38.0 166.2 38.1 172.4C38.2 178.6 38.3 186.7 38.1 192.5C37.9 198.3 37.5 203.9 37.0 207.1C36.5 210.3 35.8 212.7 35.2 211.5C34.6 210.3 33.7 205.4 33.3 199.8C33.0 194.2 33.1 184.0 33.2 177.9C33.2 171.8 33.5 167.1 33.7 163.3C33.9 159.5 33.8 156.4 34.4 155.0Z" stroke="#000" stroke-width="0" fill="#8a8a8a"/>
<path d="M35.5 162.4C35.8 162.1 36.4 167.4 36.6 172.4C36.8 177.4 36.8 187.0 36.6 192.5C36.5 198.0 36.0 204.7 35.7 205.3C35.4 205.9 34.8 201.3 34.6 196.2C34.5 191.0 34.6 179.9 34.8 174.2C34.9 168.6 35.2 162.7 35.5 162.4Z" stroke="#333" stroke-width="0.5" fill="#d8d8d8"/>
<rect x="54.71" y="151.03" width="54.49" height="73.44" stroke="#000" stroke-width="1.2" fill="none"/>
</g>
<rect x="23.00" y="150.20" width="87.00" height="86.20" stroke="#000" stroke-width="1.4" fill="none"/>
<path d="M109.50 216.20L125.00 216.20" stroke="#000" stroke-width="1.2" fill="none"/>
<path d="M128.00 216.20L122.10 213.40L122.10 219.00Z" fill="#000"/>
<clipPath id="cp4"><rect x="128.90" y="150.20" width="86.80" height="86.20"/></clipPath><g clip-path="url(#cp4)">
<ellipse cx="161.9" cy="166.9" rx="2.8" ry="2.8" transform="rotate(0 161.9 166.9)" stroke="#777" stroke-width="0.6" fill="none"/>
<ellipse cx="161.9" cy="166.9" rx="2.0" ry="2.0" transform="rotate(0 161.9 166.9)" stroke="#999" stroke-width="0.6" fill="none"/>
<ellipse cx="161.9" cy="166.9" rx="1.1" ry="1.1" transform="rotate(0 161.9 166.9)" stroke="#666" stroke-width="0.6" fill="none"/>
<ellipse cx="149.0" cy="196.0" rx="2.8" ry="2.8" transform="rotate(0 149.0 196.0)" stroke="#777" stroke-width="0.6" fill="none"/>
<ellipse cx="149.0" cy="196.0" rx="2.0" ry="2.0" transform="rotate(0 149.0 196.0)" stroke="#999" stroke-width="0.6" fill="none"/>
<ellipse cx="149.0" cy="196.0" rx="1.1" ry="1.1" transform="rotate(0 149.0 196.0)" stroke="#666" stroke-width="0.6" fill="none"/>
<ellipse cx="141.0" cy="205.8" rx="2.8" ry="2.8" transform="rotate(0 141.0 205.8)" stroke="#777" stroke-width="0.6" fill="none"/>
<ellipse cx="141.0" cy="205.8" rx="2.0" ry="2.0" transform="rotate(0 141.0 205.8)" stroke="#999" stroke-width="0.6" fill="none"/>
<ellipse cx="141.0" cy="205.8" rx="1.1" ry="1.1" transform="rotate(0 141.0 205.8)" stroke="#666" stroke-width="0.6" fill="none"/>
<ellipse cx="179.0" cy="220.2" rx="2.8" ry="2.8" transform="rotate(0 179.0 220.2)" stroke="#777" stroke-width="0.6" fill="none"/>
<ellipse cx="179.0" cy="220.2" rx="2.0" ry="2.0" transform="rotate(0 179.0 220.2)" stroke="#999" stroke-width="0.6" fill="none"/>
<ellipse cx="179.0" cy="220.2" rx="1.1" ry="1.1" transform="rotate(0 179.0 220.2)" stroke="#666" stroke-width="0.6" fill="none"/>
<ellipse cx="131.8" cy="226.5" rx="3.4" ry="2.2" transform="rotate(0 131.8 226.5)" stroke="#666" stroke-width="0.7" fill="none"/>
<ellipse cx="131.8" cy="226.5" rx="2.0" ry="1.1" transform="rotate(0 131.8 226.5)" stroke="#999" stroke-width="0.6" fill="none"/>
<path d="M164.5 214.0C166.0 214.7 167.8 217.0 167.0 219.0C166.2 221.0 162.2 224.2 160.0 226.0C157.8 227.8 155.2 229.3 153.5 229.5C151.8 229.7 149.8 228.4 149.5 227.0C149.2 225.6 150.6 223.0 152.0 221.0C153.4 219.0 155.9 216.2 158.0 215.0C160.1 213.8 163.0 213.3 164.5 214.0Z" stroke="#333" stroke-width="1.0" fill="#999"/>
<path d="M162.0 217.5C163.4 217.1 163.8 218.7 163.0 220.0C162.2 221.3 158.7 224.4 157.0 225.5C155.3 226.6 153.4 227.0 153.0 226.5C152.6 226.0 153.0 224.0 154.5 222.5C156.0 221.0 160.6 217.9 162.0 217.5Z" stroke="#555" stroke-width="0.6" fill="#e8e8e8"/>
<ellipse cx="167.0" cy="212.5" rx="4.2" ry="4.6" transform="rotate(0 167.0 212.5)" stroke="#111" stroke-width="0.8" fill="#333"/>
<ellipse cx="167.3" cy="212.8" rx="1.8" ry="2.2" transform="rotate(0 167.3 212.8)" stroke="#555" stroke-width="0.5" fill="#aaa"/>
<ellipse cx="150.8" cy="212.0" rx="4.6" ry="4.2" transform="rotate(0 150.8 212.0)" stroke="#000" stroke-width="1.0" fill="#1a1a1a"/>
<ellipse cx="151.0" cy="212.2" rx="2.0" ry="1.8" transform="rotate(0 151.0 212.2)" stroke="#444" stroke-width="0.5" fill="#999"/>
<ellipse cx="158.8" cy="204.0" rx="7.4" ry="7.0" transform="rotate(0 158.8 204.0)" stroke="#000" stroke-width="1.0" fill="#161616"/>
<ellipse cx="158.9" cy="204.3" rx="4.4" ry="4.6" transform="rotate(-20 158.9 204.3)" stroke="#333" stroke-width="0.6" fill="#777"/>
<ellipse cx="159.6" cy="204.6" rx="2.2" ry="3.0" transform="rotate(-20 159.6 204.6)" stroke="#444" stroke-width="0.5" fill="#ddd"/>
<path d="M152.0 209.0C152.7 208.5 155.3 210.2 157.0 211.0C158.7 211.8 161.8 213.0 162.0 214.0C162.2 215.0 159.5 217.0 158.0 217.0C156.5 217.0 154.0 215.3 153.0 214.0C152.0 212.7 151.3 209.5 152.0 209.0Z" stroke="#000" stroke-width="0" fill="#1a1a1a"/>
<ellipse cx="173.3" cy="202.3" rx="6.6" ry="3.5" transform="rotate(32 173.3 202.3)" stroke="#111" stroke-width="1.2" fill="#666"/>
<ellipse cx="173.3" cy="202.3" rx="4.3" ry="1.6" transform="rotate(32 173.3 202.3)" stroke="#444" stroke-width="0.6" fill="#ddd"/>
<path d="M138 236.4Q139 230.4 151 230.3Q163.5 230.4 164.8 236.4Z" stroke="#000" stroke-width="0" fill="#111"/>
<path d="M141 234.2H162" stroke="#888" stroke-width="0.6" fill="none"/>
<rect x="183.82" y="153.77" width="31.48" height="26.85" stroke="#000" stroke-width="1.2" fill="none"/>
<rect x="129.50" y="183.36" width="85.10" height="52.54" stroke="#000" stroke-width="1.3" fill="none"/>
</g>
<rect x="128.90" y="150.20" width="86.80" height="86.20" stroke="#000" stroke-width="1.4" fill="none"/>
<text x="204.50" y="165.60" text-anchor="middle">EC</text>
<path d="M216.00 216.30L229.70 216.30" stroke="#000" stroke-width="1.2" fill="none"/>
<path d="M232.70 216.30L226.80 213.50L226.80 219.10Z" fill="#000"/>
<clipPath id="cp5"><rect x="238.80" y="150.20" width="86.80" height="86.20"/></clipPath><g clip-path="url(#cp5)">
<path d="M283.8 205.4C284.3 203.7 285.4 202.3 287.3 200.8C289.2 199.2 292.7 197.0 295.4 196.2C298.1 195.3 301.3 195.3 303.5 195.9C305.6 196.5 307.3 197.8 308.3 199.6C309.3 201.4 309.8 204.2 309.5 206.5C309.1 208.8 307.7 211.2 306.0 213.5C304.3 215.8 301.0 218.4 299.4 220.4C297.8 222.4 297.9 224.5 296.3 225.6C294.7 226.7 291.5 227.4 289.8 227.1C288.2 226.8 286.6 225.5 286.2 223.8C285.7 222.2 287.6 219.0 287.3 216.9C287.0 214.8 285.0 213.1 284.4 211.2C283.8 209.2 283.4 207.1 283.8 205.4Z" stroke="#111" stroke-width="1.0" fill="#3a3a3a"/>
<path d="M287.3 204.8C288.0 202.4 292.2 200.1 294.8 199.0C297.4 198.0 301.0 197.8 302.9 198.5C304.8 199.1 306.1 201.2 306.3 203.1C306.6 205.0 306.1 208.1 304.6 210.0C303.2 211.9 300.0 214.0 297.7 214.6C295.4 215.2 292.5 215.1 290.8 213.5C289.0 211.8 286.6 207.2 287.3 204.8Z" stroke="#000" stroke-width="0.8" fill="#2a2a2a"/>
<path d="M291.9 206.5C292.2 205.1 295.9 203.1 297.7 202.5C299.5 201.9 302.1 202.1 302.9 203.1C303.7 204.0 303.5 206.9 302.3 208.3C301.2 209.6 297.7 211.4 296.0 211.2C294.2 210.9 291.6 208.0 291.9 206.5Z" stroke="#000" stroke-width="0.6" fill="#777"/>
<path d="M296.8 206.0C297.2 205.3 299.5 204.6 300.2 204.8C300.9 205.1 301.3 206.8 300.9 207.5C300.5 208.1 298.4 209.1 297.7 208.8C297.0 208.6 296.3 206.6 296.8 206.0Z" stroke="#000" stroke-width="0" fill="#ccc"/>
<path d="M288.5 218.1C289.0 216.5 291.8 215.5 293.1 215.8C294.3 216.1 295.9 218.4 296.0 219.8C296.1 221.2 294.7 223.6 293.7 224.4C292.6 225.3 290.5 226.1 289.6 225.0C288.7 223.9 287.9 219.6 288.5 218.1Z" stroke="#222" stroke-width="0.6" fill="#999"/>
<path d="M290.5 220.4C290.8 219.7 292.6 218.9 293.1 219.2C293.6 219.5 293.9 221.4 293.7 222.1C293.4 222.8 291.9 223.6 291.3 223.3C290.8 223.0 290.2 221.1 290.5 220.4Z" stroke="#000" stroke-width="0" fill="#e0e0e0"/>
<path d="M299.4 213.5C299.9 212.4 302.6 211.0 303.5 211.2C304.3 211.3 305.1 213.6 304.6 214.6C304.1 215.7 301.4 217.7 300.6 217.5C299.7 217.3 298.9 214.5 299.4 213.5Z" stroke="#222" stroke-width="0.5" fill="#888"/>
<path d="M294.8 197.3C294.8 196.6 297.6 194.6 298.8 194.4C300.1 194.2 302.3 195.5 302.3 196.2C302.3 196.8 300.1 198.3 298.8 198.5C297.6 198.7 294.8 198.0 294.8 197.3Z" stroke="#444" stroke-width="0.6" fill="#aaa"/>
<path d="M310.2 204.2C310.7 202.1 312.2 198.3 313.6 197.3C315.0 196.3 317.1 197.0 318.5 198.2C319.8 199.5 321.5 202.8 321.6 204.8C321.6 206.8 318.8 208.4 318.7 210.2C318.6 212.1 321.2 214.6 321.0 215.8C320.8 216.9 318.6 217.9 317.5 217.2C316.4 216.4 315.6 212.5 314.4 211.4C313.2 210.2 311.1 211.4 310.4 210.2C309.7 209.0 309.6 206.4 310.2 204.2Z" stroke="#222" stroke-width="0.9" fill="#606060"/>
<path d="M314.4 201.3C315.0 200.4 316.5 200.2 317.3 200.8C318.1 201.3 319.1 203.6 319.0 204.8C318.9 206.1 317.6 208.0 316.7 208.3C315.9 208.6 314.2 207.7 313.8 206.5C313.5 205.4 313.8 202.3 314.4 201.3Z" stroke="#333" stroke-width="0.5" fill="#aaa"/>
<path d="M317.3 213.5C317.5 213.0 318.7 212.6 319.0 212.9C319.4 213.2 319.8 214.7 319.6 215.2C319.4 215.7 318.3 216.1 317.9 215.8C317.5 215.5 317.1 213.9 317.3 213.5Z" stroke="#000" stroke-width="0" fill="#ccc"/>
<path d="M302.9 195.6C302.8 194.6 304.6 192.5 305.8 191.0C306.9 189.4 308.6 187.4 309.8 186.3C311.1 185.2 312.5 184.4 313.3 184.4C314.0 184.4 314.7 185.4 314.4 186.3C314.1 187.2 312.5 188.7 311.5 189.8C310.6 191.0 309.6 192.1 308.7 193.3C307.7 194.4 307.0 196.3 306.0 196.7C305.0 197.1 302.9 196.5 302.9 195.6Z" stroke="#333" stroke-width="0.8" fill="#999"/>
<ellipse cx="312.2" cy="185.5" rx="2.2" ry="1.5" transform="rotate(-30 312.2 185.5)" stroke="#111" stroke-width="0.6" fill="#333"/>
<ellipse cx="278.1" cy="211.2" rx="2.4" ry="2.0" transform="rotate(0 278.1 211.2)" stroke="#777" stroke-width="0.6" fill="#bbb"/>
<ellipse cx="279.2" cy="233.7" rx="1.5" ry="2.2" transform="rotate(0 279.2 233.7)" stroke="#888" stroke-width="0.6" fill="#ccc"/>
<rect x="288.53" y="151.39" width="36.67" height="34.16" stroke="#000" stroke-width="1.2" fill="none"/>
<rect x="239.30" y="187.38" width="40.82" height="48.52" stroke="#000" stroke-width="1.2" fill="none"/>
<rect x="282.86" y="187.38" width="42.34" height="48.52" stroke="#000" stroke-width="1.2" fill="none"/>
</g>
<rect x="238.80" y="150.20" width="86.80" height="86.20" stroke="#000" stroke-width="1.4" fill="none"/>
<text x="310.40" y="163.80" text-anchor="middle">MSC</text>
<text x="309.50" y="233.00" text-anchor="middle">OBC</text>
<text x="240.60" y="232.40">CD51<tspan dy="-4.5" style="font-size:9px">-</tspan></text>
<text x="17.50" y="72.00" text-anchor="middle" transform="rotate(-90 17.50 72.00)">Lin</text>
<text x="58.50" y="129.10" text-anchor="middle">CD45</text>
<text x="123.80" y="71.00" text-anchor="middle" transform="rotate(-90 123.80 71.00)">CD31</text>
<text x="176.30" y="129.20" text-anchor="middle">Sca1</text>
<text x="231.80" y="66.30" text-anchor="middle" transform="rotate(-90 231.80 66.30)">Sca1</text>
<text x="280.50" y="129.20" text-anchor="middle">CD51</text>
<text x="24.60" y="145.60" style="font-size:12.4px;">Coll(2.3)-tTA/TetO-H2B-GFP mice</text>
<text x="17.50" y="197.00" text-anchor="middle" transform="rotate(-90 17.50 197.00)">FSC-A</text>
<text x="69.00" y="250.90" text-anchor="middle">GFP</text>
<text x="123.80" y="186.90" text-anchor="middle" transform="rotate(-90 123.80 186.90)">CD31</text>
<text x="172.20" y="250.90" text-anchor="middle">Sca1</text>
<text x="232.30" y="190.00" text-anchor="middle" transform="rotate(-90 232.30 190.00)">Sca1</text>
<text x="280.50" y="250.90" text-anchor="middle">CD51</text>
<text x="333.50" y="18.20" style="font-size:16.2px;font-weight:bold;">B</text>
<text x="414.30" y="33.90" text-anchor="middle">Frequencies</text>
<path d="M398.70 49.20L398.70 177.90" stroke="#000" stroke-width="1.1" fill="none"/>
<path d="M397.10 177.40L433.80 177.40" stroke="#000" stroke-width="1.1" fill="none"/>
<path d="M396.10 177.40L398.70 177.40" stroke="#000" stroke-width="1.0" fill="none"/>
<text x="393.40" y="182.10" text-anchor="end">0</text>
<path d="M396.10 153.93L398.70 153.93" stroke="#000" stroke-width="1.0" fill="none"/>
<text x="393.40" y="158.63" text-anchor="end">20</text>
<path d="M396.10 130.46L398.70 130.46" stroke="#000" stroke-width="1.0" fill="none"/>
<text x="393.40" y="135.16" text-anchor="end">40</text>
<path d="M396.10 106.99L398.70 106.99" stroke="#000" stroke-width="1.0" fill="none"/>
<text x="393.40" y="111.69" text-anchor="end">60</text>
<path d="M396.10 83.52L398.70 83.52" stroke="#000" stroke-width="1.0" fill="none"/>
<text x="393.40" y="88.22" text-anchor="end">80</text>
<path d="M396.10 60.05L398.70 60.05" stroke="#000" stroke-width="1.0" fill="none"/>
<text x="393.40" y="64.75" text-anchor="end">100</text>
<pattern id="ck" x="410.25" y="70.55" width="4.1" height="4.1" patternUnits="userSpaceOnUse"><rect width="4.1" height="4.1" fill="#000"/><rect x="-0.1" y="-0.1" width="1.95" height="1.95" rx="0.5" fill="#fff"/><rect x="1.95" y="1.95" width="1.95" height="1.95" rx="0.5" fill="#fff"/></pattern>
<rect x="408.6" y="64" width="14.799999999999955" height="113.4" fill="url(#ck)"/>
<rect x="408.6" y="64.6" width="14.799999999999955" height="2.8" fill="#fff"/>
<rect x="408.6" y="67.4" width="14.799999999999955" height="1.8" fill="#000"/>
<rect x="408.6" y="175.7" width="14.799999999999955" height="1.7" fill="#000"/>
<path d="M415.40 63.50L415.40 68.00" stroke="#000" stroke-width="1.6" fill="none"/>
<path d="M412.4 67.5L414.6 65.3H416.2L418.4 67.5Z" stroke="#000" stroke-width="0" fill="#000"/>
<rect x="408.60" y="64.40" width="14.80" height="113.00" stroke="#000" stroke-width="1.25" fill="none"/>
<text x="365.80" y="117.20" text-anchor="middle" transform="rotate(-90 365.80 117.20)">% within GFP<tspan dy="-4" style="font-size:8.5px">+</tspan><tspan dy="4"> cells</tspan></text>
<path d="M444.6 70.4H441V96.6H444.6M441 82.9H435.5" stroke="#000" stroke-width="1.1" fill="none"/>
<path d="M425.60 67.80L434.60 80.40" stroke="#000" stroke-width="1.1" fill="none"/>
<text x="448.00" y="79.70">CD45<tspan dy="-4.5" style="font-size:9px">-</tspan><tspan dy="4.5">/Lin</tspan><tspan dy="-4.5" style="font-size:9px">-</tspan><tspan dy="4.5">/</tspan></text>
<text x="448.00" y="94.30">Sca1<tspan dy="-4.5" style="font-size:9px">-</tspan><tspan dy="4.5">/CD51</tspan><tspan dy="-4.5" style="font-size:9px">-</tspan></text>
<path d="M429.60 125.60L440.20 117.30" stroke="#000" stroke-width="1.1" fill="none"/>
<text x="448.20" y="121.10">OBC</text>
<path d="M444.4 143.8H440.8V170.8H444.4M440.8 157.3H436" stroke="#000" stroke-width="1.1" fill="none"/>
<path d="M425.60 174.00L433.50 159.60" stroke="#000" stroke-width="1.1" fill="none"/>
<text x="447.80" y="154.00">MSC</text>
<text x="447.80" y="168.00">EC</text>
<text x="405.00" y="203.80" text-anchor="middle" style="font-size:12.5px;">Coll(2.3)-tTA/</text>
<text x="404.80" y="218.40" text-anchor="middle" style="font-size:12.5px;">TetO-H2B-GFP</text>
<text x="405.00" y="232.80" text-anchor="middle" style="font-size:12.5px;">mice</text>
<text x="3.50" y="274.60" style="font-size:16.2px;font-weight:bold;">C</text>
<text x="133.80" y="279.10" text-anchor="middle">Numbers</text>
<path d="M64.6 452.5V285.7H204.4V452.5" stroke="#000" stroke-width="1.1" fill="none"/>
<path d="M64.60 449.10L204.40 449.10" stroke="#000" stroke-width="1.1" fill="none"/>
<path d="M61.20 449.10L64.60 449.10" stroke="#000" stroke-width="1.0" fill="none"/>
<text x="55.70" y="454.50" text-anchor="end">0</text>
<path d="M61.20 416.42L64.60 416.42" stroke="#000" stroke-width="1.0" fill="none"/>
<text x="55.70" y="421.82" text-anchor="end">0.2</text>
<path d="M61.20 383.74L64.60 383.74" stroke="#000" stroke-width="1.0" fill="none"/>
<text x="55.70" y="389.14" text-anchor="end">0.4</text>
<path d="M61.20 351.06L64.60 351.06" stroke="#000" stroke-width="1.0" fill="none"/>
<text x="55.70" y="356.46" text-anchor="end">0.6</text>
<path d="M61.20 318.38L64.60 318.38" stroke="#000" stroke-width="1.0" fill="none"/>
<text x="55.70" y="323.78" text-anchor="end">0.8</text>
<path d="M61.20 285.70L64.60 285.70" stroke="#000" stroke-width="1.0" fill="none"/>
<text x="55.70" y="291.10" text-anchor="end">1.0</text>
<path d="M111.30 449.10L111.30 452.50" stroke="#000" stroke-width="1.0" fill="none"/>
<path d="M158.00 449.10L158.00 452.50" stroke="#000" stroke-width="1.0" fill="none"/>
<rect x="64.6" y="285.7" width="46.2" height="16.5" fill="#000"/>
<text x="87.90" y="298.60" text-anchor="middle" style="font-size:12.2px;font-weight:bold;fill:#fff;">12 wk</text>
<rect x="70.80" y="309.60" width="46.60" height="32.80" stroke="#000" stroke-width="1.0" fill="#fff"/>
<rect x="78.00" y="317.80" width="6.80" height="6.60" stroke="#000" stroke-width="1.0" fill="none"/>
<rect x="78.00" y="330.40" width="6.80" height="6.60" stroke="#000" stroke-width="1.0" fill="#000"/>
<text x="90.00" y="324.80">Ctrl</text>
<text x="90.00" y="338.20">Rs1</text>
<rect x="73.80" y="448.00" width="13.70" height="1.10" stroke="#000" stroke-width="1.0" fill="#fff"/>
<path d="M80.65 446.30L80.65 448.00" stroke="#000" stroke-width="1.15" fill="none"/>
<path d="M77.15 446.30L84.15 446.30" stroke="#000" stroke-width="1.15" fill="none"/>
<rect x="87.50" y="424.30" width="13.70" height="24.80" stroke="#000" stroke-width="1.0" fill="#000"/>
<path d="M94.35 405.80L94.35 424.30" stroke="#000" stroke-width="1.15" fill="none"/>
<path d="M90.85 405.80L97.85 405.80" stroke="#000" stroke-width="1.15" fill="none"/>
<rect x="120.50" y="447.20" width="13.30" height="1.90" stroke="#000" stroke-width="1.0" fill="#fff"/>
<path d="M127.15 446.00L127.15 447.20" stroke="#000" stroke-width="1.15" fill="none"/>
<path d="M123.65 446.00L130.65 446.00" stroke="#000" stroke-width="1.15" fill="none"/>
<rect x="133.80" y="433.00" width="13.70" height="16.10" stroke="#000" stroke-width="1.0" fill="#000"/>
<path d="M140.65 418.00L140.65 433.00" stroke="#000" stroke-width="1.15" fill="none"/>
<path d="M137.15 418.00L144.15 418.00" stroke="#000" stroke-width="1.15" fill="none"/>
<rect x="166.80" y="430.50" width="13.70" height="18.60" stroke="#000" stroke-width="1.0" fill="#fff"/>
<path d="M173.65 423.80L173.65 430.50" stroke="#000" stroke-width="1.15" fill="none"/>
<path d="M170.15 423.80L177.15 423.80" stroke="#000" stroke-width="1.15" fill="none"/>
<rect x="180.50" y="363.80" width="14.00" height="85.30" stroke="#000" stroke-width="1.0" fill="#000"/>
<path d="M187.50 324.50L187.50 363.80" stroke="#000" stroke-width="1.15" fill="none"/>
<path d="M184.00 324.50L191.00 324.50" stroke="#000" stroke-width="1.15" fill="none"/>
<path d="M80.5 437.5V390H95V398.8" stroke="#000" stroke-width="1.2" fill="none"/>
<path d="M127.5 445V403H140.8V410" stroke="#000" stroke-width="1.2" fill="none"/>
<path d="M174.3 413.8V308.3H187.5V318" stroke="#000" stroke-width="1.2" fill="none"/>
<text x="88.80" y="389.60" text-anchor="middle" style="font-size:11.2px;font-weight:bold;">**</text>
<text x="134.30" y="402.80" text-anchor="middle" style="font-size:11.2px;font-weight:bold;">*</text>
<text x="180.50" y="307.60" text-anchor="middle" style="font-size:11.2px;font-weight:bold;">***</text>
<text x="88.50" y="464.60" text-anchor="middle">EC</text>
<text x="134.80" y="464.60" text-anchor="middle">MSC</text>
<text x="181.60" y="464.60" text-anchor="middle">OBC</text>
<text x="25.10" y="367.70" text-anchor="middle" transform="rotate(-90 25.10 367.70)">Total cell number (x10<tspan dy="-4" style="font-size:8.5px">3</tspan><tspan dy="4">)</tspan></text>
<text x="255.50" y="274.40" style="font-size:16.2px;font-weight:bold;">D</text>
<text x="308.00" y="280.10" style="font-size:12.45px;">Osteoblastic lineage genes in OBC</text>
<path d="M306.20 367.50L506.50 367.50" stroke="#a4a4a4" stroke-width="1.5" fill="none"/>
<path d="M306.2 452.0V286.4H506.5V452.0" stroke="#000" stroke-width="1.1" fill="none"/>
<path d="M306.20 448.60L506.50 448.60" stroke="#000" stroke-width="1.1" fill="none"/>
<path d="M303.00 286.40L306.20 286.40" stroke="#000" stroke-width="1.0" fill="none"/>
<text x="299.60" y="292.00" text-anchor="end">8</text>
<path d="M303.00 326.95L306.20 326.95" stroke="#000" stroke-width="1.0" fill="none"/>
<text x="299.60" y="332.55" text-anchor="end">4</text>
<path d="M303.00 367.50L306.20 367.50" stroke="#000" stroke-width="1.0" fill="none"/>
<text x="299.60" y="373.10" text-anchor="end">0</text>
<path d="M303.00 408.05L306.20 408.05" stroke="#000" stroke-width="1.0" fill="none"/>
<text x="299.60" y="413.65" text-anchor="end">-4</text>
<path d="M303.00 448.60L306.20 448.60" stroke="#000" stroke-width="1.0" fill="none"/>
<text x="299.60" y="454.20" text-anchor="end">-8</text>
<path d="M339.58 448.60L339.58 452.00" stroke="#000" stroke-width="1.0" fill="none"/>
<path d="M372.97 448.60L372.97 452.00" stroke="#000" stroke-width="1.0" fill="none"/>
<path d="M406.35 448.60L406.35 452.00" stroke="#000" stroke-width="1.0" fill="none"/>
<path d="M439.73 448.60L439.73 452.00" stroke="#000" stroke-width="1.0" fill="none"/>
<path d="M473.12 448.60L473.12 452.00" stroke="#000" stroke-width="1.0" fill="none"/>
<circle cx="314.4" cy="350.8" r="1.85" fill="#fff" stroke="#000" stroke-width="1.3"/>
<circle cx="314.4" cy="353.7" r="1.85" fill="#fff" stroke="#000" stroke-width="1.3"/>
<circle cx="314.4" cy="379.6" r="1.85" fill="#fff" stroke="#000" stroke-width="1.3"/>
<circle cx="314.4" cy="380.2" r="1.85" fill="#fff" stroke="#000" stroke-width="1.3"/>
<circle cx="314.4" cy="383.0" r="1.85" fill="#fff" stroke="#000" stroke-width="1.3"/>
<circle cx="314.4" cy="385.6" r="1.85" fill="#fff" stroke="#000" stroke-width="1.3"/>
<circle cx="314.4" cy="390.2" r="1.85" fill="#fff" stroke="#000" stroke-width="1.3"/>
<circle cx="314.4" cy="401.0" r="1.85" fill="#fff" stroke="#000" stroke-width="1.3"/>
<path d="M309.90 367.50L319.30 367.50" stroke="#000" stroke-width="1.3" fill="none"/>
<path d="M331.2 306.7L334.2 312.1H328.2Z" fill="#000"/>
<path d="M331.2 313.4L334.2 318.8H328.2Z" fill="#000"/>
<path d="M331.2 319.9L334.2 325.3H328.2Z" fill="#000"/>
<path d="M331.2 346.1L334.2 351.5H328.2Z" fill="#000"/>
<path d="M331.2 362.9L334.2 368.3H328.2Z" fill="#000"/>
<path d="M326.50 325.60L335.90 325.60" stroke="#000" stroke-width="1.3" fill="none"/>
<circle cx="347.5" cy="347.0" r="1.85" fill="#fff" stroke="#000" stroke-width="1.3"/>
<circle cx="347.5" cy="360.4" r="1.85" fill="#fff" stroke="#000" stroke-width="1.3"/>
<circle cx="347.5" cy="363.7" r="1.85" fill="#fff" stroke="#000" stroke-width="1.3"/>
<circle cx="347.5" cy="369.7" r="1.85" fill="#fff" stroke="#000" stroke-width="1.3"/>
<circle cx="347.5" cy="390.8" r="1.85" fill="#fff" stroke="#000" stroke-width="1.3"/>
<circle cx="347.5" cy="412.0" r="1.85" fill="#fff" stroke="#000" stroke-width="1.3"/>
<circle cx="347.5" cy="429.2" r="1.85" fill="#fff" stroke="#000" stroke-width="1.3"/>
<path d="M342.90 367.30L352.30 367.30" stroke="#000" stroke-width="1.3" fill="none"/>
<path d="M365.3 329.2L368.3 334.6H362.3Z" fill="#000"/>
<path d="M365.3 335.2L368.3 340.6H362.3Z" fill="#000"/>
<path d="M365.3 343.2L368.3 348.6H362.3Z" fill="#000"/>
<path d="M365.3 347.9L368.3 353.3H362.3Z" fill="#000"/>
<path d="M365.3 350.9L368.3 356.3H362.3Z" fill="#000"/>
<path d="M365.3 363.4L368.3 368.8H362.3Z" fill="#000"/>
<path d="M365.3 386.3L368.3 391.7H362.3Z" fill="#000"/>
<path d="M360.50 346.30L369.90 346.30" stroke="#000" stroke-width="1.3" fill="none"/>
<circle cx="380.8" cy="352.0" r="1.85" fill="#fff" stroke="#000" stroke-width="1.3"/>
<circle cx="380.8" cy="359.4" r="1.85" fill="#fff" stroke="#000" stroke-width="1.3"/>
<circle cx="380.8" cy="365.0" r="1.85" fill="#fff" stroke="#000" stroke-width="1.3"/>
<circle cx="380.8" cy="383.5" r="1.85" fill="#fff" stroke="#000" stroke-width="1.3"/>
<circle cx="380.8" cy="404.2" r="1.85" fill="#fff" stroke="#000" stroke-width="1.3"/>
<circle cx="380.8" cy="413.8" r="1.85" fill="#fff" stroke="#000" stroke-width="1.3"/>
<path d="M376.30 368.70L385.70 368.70" stroke="#000" stroke-width="1.3" fill="none"/>
<path d="M398.0 322.9L401.0 328.3H395.0Z" fill="#000"/>
<path d="M398.0 337.9L401.0 343.3H395.0Z" fill="#000"/>
<path d="M398.0 348.9L401.0 354.3H395.0Z" fill="#000"/>
<path d="M398.0 352.9L401.0 358.3H395.0Z" fill="#000"/>
<path d="M398.0 356.7L401.0 362.1H395.0Z" fill="#000"/>
<path d="M398.0 360.6L401.0 366.0H395.0Z" fill="#000"/>
<path d="M398.0 388.6L401.0 394.0H395.0Z" fill="#000"/>
<path d="M393.30 344.40L402.70 344.40" stroke="#000" stroke-width="1.3" fill="none"/>
<circle cx="414.5" cy="350.4" r="1.85" fill="#fff" stroke="#000" stroke-width="1.3"/>
<circle cx="414.5" cy="358.5" r="1.85" fill="#fff" stroke="#000" stroke-width="1.3"/>
<circle cx="414.5" cy="362.0" r="1.85" fill="#fff" stroke="#000" stroke-width="1.3"/>
<circle cx="414.5" cy="365.4" r="1.85" fill="#fff" stroke="#000" stroke-width="1.3"/>
<circle cx="414.5" cy="369.5" r="1.85" fill="#fff" stroke="#000" stroke-width="1.3"/>
<circle cx="414.5" cy="373.0" r="1.85" fill="#fff" stroke="#000" stroke-width="1.3"/>
<circle cx="414.5" cy="395.4" r="1.85" fill="#fff" stroke="#000" stroke-width="1.3"/>
<circle cx="414.5" cy="401.2" r="1.85" fill="#fff" stroke="#000" stroke-width="1.3"/>
<path d="M409.80 367.20L419.20 367.20" stroke="#000" stroke-width="1.3" fill="none"/>
<path d="M431.2 343.4L434.2 348.8H428.2Z" fill="#000"/>
<path d="M431.2 351.9L434.2 357.3H428.2Z" fill="#000"/>
<path d="M431.2 358.9L434.2 364.3H428.2Z" fill="#000"/>
<path d="M431.2 364.6L434.2 370.0H428.2Z" fill="#000"/>
<path d="M431.2 368.1L434.2 373.5H428.2Z" fill="#000"/>
<path d="M431.2 379.6L434.2 385.0H428.2Z" fill="#000"/>
<path d="M426.50 362.00L435.90 362.00" stroke="#000" stroke-width="1.3" fill="none"/>
<circle cx="447.8" cy="349.7" r="1.85" fill="#fff" stroke="#000" stroke-width="1.3"/>
<circle cx="447.8" cy="365.0" r="1.85" fill="#fff" stroke="#000" stroke-width="1.3"/>
<circle cx="447.8" cy="371.2" r="1.85" fill="#fff" stroke="#000" stroke-width="1.3"/>
<circle cx="447.8" cy="375.3" r="1.85" fill="#fff" stroke="#000" stroke-width="1.3"/>
<circle cx="447.8" cy="379.2" r="1.85" fill="#fff" stroke="#000" stroke-width="1.3"/>
<circle cx="447.8" cy="383.2" r="1.85" fill="#fff" stroke="#000" stroke-width="1.3"/>
<path d="M443.10 367.20L452.50 367.20" stroke="#000" stroke-width="1.3" fill="none"/>
<path d="M465.3 336.9L468.3 342.3H462.3Z" fill="#000"/>
<path d="M465.3 349.6L468.3 355.0H462.3Z" fill="#000"/>
<path d="M465.3 362.8L468.3 368.2H462.3Z" fill="#000"/>
<path d="M465.3 366.9L468.3 372.3H462.3Z" fill="#000"/>
<path d="M465.3 370.4L468.3 375.8H462.3Z" fill="#000"/>
<path d="M465.3 380.1L468.3 385.5H462.3Z" fill="#000"/>
<path d="M460.60 357.30L470.00 357.30" stroke="#000" stroke-width="1.3" fill="none"/>
<circle cx="480.8" cy="354.3" r="1.85" fill="#fff" stroke="#000" stroke-width="1.3"/>
<circle cx="480.8" cy="363.5" r="1.85" fill="#fff" stroke="#000" stroke-width="1.3"/>
<circle cx="480.8" cy="367.2" r="1.85" fill="#fff" stroke="#000" stroke-width="1.3"/>
<circle cx="480.8" cy="370.7" r="1.85" fill="#fff" stroke="#000" stroke-width="1.3"/>
<circle cx="480.8" cy="374.2" r="1.85" fill="#fff" stroke="#000" stroke-width="1.3"/>
<circle cx="480.8" cy="386.6" r="1.85" fill="#fff" stroke="#000" stroke-width="1.3"/>
<path d="M476.10 367.20L485.50 367.20" stroke="#000" stroke-width="1.3" fill="none"/>
<path d="M498.5 352.6L501.5 358.0H495.5Z" fill="#000"/>
<path d="M498.5 356.1L501.5 361.5H495.5Z" fill="#000"/>
<path d="M498.5 361.1L501.5 366.5H495.5Z" fill="#000"/>
<path d="M498.5 364.1L501.5 369.5H495.5Z" fill="#000"/>
<path d="M498.5 368.8L501.5 374.2H495.5Z" fill="#000"/>
<path d="M498.5 383.1L501.5 388.5H495.5Z" fill="#000"/>
<path d="M493.80 365.00L503.20 365.00" stroke="#000" stroke-width="1.3" fill="none"/>
<path d="M313.3 338.8V296.3H331.3V303" stroke="#000" stroke-width="1.2" fill="none"/>
<path d="M348 339.5V318.8H365V322.8" stroke="#000" stroke-width="1.2" fill="none"/>
<text x="322.60" y="297.80" text-anchor="middle" style="font-size:11.2px;font-weight:bold;">*</text>
<text x="356.40" y="320.20" text-anchor="middle" style="font-size:11.2px;font-weight:bold;">*</text>
<rect x="446.20" y="290.50" width="43.80" height="33.30" stroke="#000" stroke-width="1.0" fill="#fff"/>
<circle cx="454.2" cy="299.7" r="1.7" fill="#fff" stroke="#000" stroke-width="1.1"/>
<path d="M454.2 312L456.8 316.8H451.6Z" fill="#000"/>
<text x="461.80" y="304.60" style="font-size:12.7px;">Ctrl</text>
<text x="461.80" y="319.50" style="font-size:12.5px;">Rs1</text>
<text x="325.30" y="455.30" text-anchor="end" style="font-size:12.0px;font-style:italic;" transform="rotate(-90 325.30 455.30)">Nestin</text>
<text x="359.60" y="455.30" text-anchor="end" style="font-size:12.0px;font-style:italic;" transform="rotate(-90 359.60 455.30)">Runx2</text>
<text x="393.10" y="455.30" text-anchor="end" style="font-size:12.0px;font-style:italic;" transform="rotate(-90 393.10 455.30)">Osx</text>
<text x="425.90" y="455.30" text-anchor="end" style="font-size:12.0px;font-style:italic;" transform="rotate(-90 425.90 455.30)">Opn</text>
<text x="460.60" y="455.30" text-anchor="end" style="font-size:12.0px;font-style:italic;" transform="rotate(-90 460.60 455.30)">Colla1</text>
<text x="493.30" y="455.30" text-anchor="end" style="font-size:12.0px;font-style:italic;" transform="rotate(-90 493.30 455.30)">OC</text>
<text x="276.00" y="358.00" text-anchor="middle" style="font-size:12.65px;" transform="rotate(-90 276.00 358.00)">Log<tspan dy="3" style="font-size:8.5px">2</tspan><tspan dy="-3"> (relative expression)</tspan></text>
<text x="3.50" y="505.00" style="font-size:16.2px;font-weight:bold;">E</text>
<text x="147.20" y="517.20" text-anchor="middle">OBC</text>
<path d="M74.6 690.0V523.1H213.7V690.0" stroke="#000" stroke-width="1.1" fill="none"/>
<path d="M74.60 686.40L213.70 686.40" stroke="#000" stroke-width="1.1" fill="none"/>
<path d="M71.20 686.40L74.60 686.40" stroke="#000" stroke-width="1.0" fill="none"/>
<text x="65.90" y="690.00" text-anchor="end">0</text>
<path d="M71.20 653.74L74.60 653.74" stroke="#000" stroke-width="1.0" fill="none"/>
<text x="65.90" y="657.34" text-anchor="end">5</text>
<path d="M71.20 621.08L74.60 621.08" stroke="#000" stroke-width="1.0" fill="none"/>
<text x="65.90" y="624.68" text-anchor="end">10</text>
<path d="M71.20 588.42L74.60 588.42" stroke="#000" stroke-width="1.0" fill="none"/>
<text x="65.90" y="592.02" text-anchor="end">15</text>
<path d="M71.20 555.76L74.60 555.76" stroke="#000" stroke-width="1.0" fill="none"/>
<text x="65.90" y="559.36" text-anchor="end">20</text>
<path d="M71.20 523.10L74.60 523.10" stroke="#000" stroke-width="1.0" fill="none"/>
<text x="65.90" y="526.70" text-anchor="end">25</text>
<path d="M121.00 686.40L121.00 690.00" stroke="#000" stroke-width="1.0" fill="none"/>
<path d="M167.20 686.40L167.20 690.00" stroke="#000" stroke-width="1.0" fill="none"/>
<rect x="74.6" y="523.1" width="45.6" height="16.9" fill="#000"/>
<text x="97.20" y="536.00" text-anchor="middle" style="font-size:12.2px;font-weight:bold;fill:#fff;">9 wk</text>
<rect x="83.80" y="583.00" width="13.70" height="103.40" stroke="#000" stroke-width="1.0" fill="#fff"/>
<path d="M90.65 566.30L90.65 583.00" stroke="#000" stroke-width="1.15" fill="none"/>
<path d="M87.25 566.30L94.05 566.30" stroke="#000" stroke-width="1.15" fill="none"/>
<rect x="97.50" y="580.00" width="13.30" height="106.40" stroke="#000" stroke-width="1.0" fill="#000"/>
<path d="M104.15 557.50L104.15 580.00" stroke="#000" stroke-width="1.15" fill="none"/>
<path d="M100.75 557.50L107.55 557.50" stroke="#000" stroke-width="1.15" fill="none"/>
<rect x="130.00" y="635.00" width="14.20" height="51.40" stroke="#000" stroke-width="1.0" fill="#fff"/>
<path d="M137.10 610.80L137.10 635.00" stroke="#000" stroke-width="1.15" fill="none"/>
<path d="M133.70 610.80L140.50 610.80" stroke="#000" stroke-width="1.15" fill="none"/>
<rect x="144.20" y="639.50" width="13.30" height="46.90" stroke="#000" stroke-width="1.0" fill="#000"/>
<path d="M150.85 612.00L150.85 639.50" stroke="#000" stroke-width="1.15" fill="none"/>
<path d="M147.45 612.00L154.25 612.00" stroke="#000" stroke-width="1.15" fill="none"/>
<rect x="176.30" y="679.50" width="13.70" height="6.90" stroke="#000" stroke-width="1.0" fill="#fff"/>
<path d="M183.15 669.50L183.15 679.50" stroke="#000" stroke-width="1.15" fill="none"/>
<path d="M179.75 669.50L186.55 669.50" stroke="#000" stroke-width="1.15" fill="none"/>
<rect x="190.00" y="676.30" width="13.30" height="10.10" stroke="#000" stroke-width="1.0" fill="#000"/>
<path d="M196.65 658.80L196.65 676.30" stroke="#000" stroke-width="1.15" fill="none"/>
<path d="M193.25 658.80L200.05 658.80" stroke="#000" stroke-width="1.15" fill="none"/>
<text x="97.00" y="704.30" text-anchor="middle">CFU-</text>
<text x="97.00" y="719.30" text-anchor="middle">F</text>
<text x="144.20" y="704.30" text-anchor="middle">CFU-</text>
<text x="144.20" y="719.30" text-anchor="middle">Alk</text>
<text x="190.00" y="704.30" text-anchor="middle">CFU-</text>
<text x="190.00" y="719.30" text-anchor="middle">OB</text>
<text x="42.60" y="604.00" text-anchor="middle" transform="rotate(-90 42.60 604.00)">% CFU</text>
<text x="255.50" y="505.00" style="font-size:16.2px;font-weight:bold;">F</text>
<text x="378.20" y="517.20" text-anchor="middle">MSC</text>
<path d="M305.1 690.1V523.2H444.4V690.1" stroke="#000" stroke-width="1.1" fill="none"/>
<path d="M305.10 686.50L444.40 686.50" stroke="#000" stroke-width="1.1" fill="none"/>
<path d="M301.70 686.50L305.10 686.50" stroke="#000" stroke-width="1.0" fill="none"/>
<text x="296.70" y="690.00" text-anchor="end">0</text>
<path d="M301.70 663.17L305.10 663.17" stroke="#000" stroke-width="1.0" fill="none"/>
<text x="296.70" y="666.67" text-anchor="end">5</text>
<path d="M301.70 639.84L305.10 639.84" stroke="#000" stroke-width="1.0" fill="none"/>
<text x="296.70" y="643.34" text-anchor="end">10</text>
<path d="M301.70 616.51L305.10 616.51" stroke="#000" stroke-width="1.0" fill="none"/>
<text x="296.70" y="620.01" text-anchor="end">15</text>
<path d="M301.70 593.19L305.10 593.19" stroke="#000" stroke-width="1.0" fill="none"/>
<text x="296.70" y="596.69" text-anchor="end">20</text>
<path d="M301.70 569.86L305.10 569.86" stroke="#000" stroke-width="1.0" fill="none"/>
<text x="296.70" y="573.36" text-anchor="end">25</text>
<path d="M301.70 546.53L305.10 546.53" stroke="#000" stroke-width="1.0" fill="none"/>
<text x="296.70" y="550.03" text-anchor="end">30</text>
<path d="M301.70 523.20L305.10 523.20" stroke="#000" stroke-width="1.0" fill="none"/>
<text x="296.70" y="526.70" text-anchor="end">35</text>
<path d="M351.60 686.50L351.60 690.10" stroke="#000" stroke-width="1.0" fill="none"/>
<path d="M398.00 686.50L398.00 690.10" stroke="#000" stroke-width="1.0" fill="none"/>
<rect x="305.1" y="523.2" width="46" height="16.8" fill="#000"/>
<text x="327.20" y="536.10" text-anchor="middle" style="font-size:12.2px;font-weight:bold;fill:#fff;">9 wk</text>
<rect x="314.50" y="550.00" width="13.50" height="136.50" stroke="#000" stroke-width="1.0" fill="#fff"/>
<path d="M321.25 546.80L321.25 550.00" stroke="#000" stroke-width="1.15" fill="none"/>
<path d="M317.85 546.80L324.65 546.80" stroke="#000" stroke-width="1.15" fill="none"/>
<rect x="328.00" y="557.00" width="12.80" height="129.50" stroke="#000" stroke-width="1.0" fill="#000"/>
<path d="M334.40 551.80L334.40 557.00" stroke="#000" stroke-width="1.15" fill="none"/>
<path d="M331.00 551.80L337.80 551.80" stroke="#000" stroke-width="1.15" fill="none"/>
<rect x="360.50" y="596.30" width="14.00" height="90.20" stroke="#000" stroke-width="1.0" fill="#fff"/>
<path d="M367.50 594.50L367.50 596.30" stroke="#000" stroke-width="1.15" fill="none"/>
<path d="M364.10 594.50L370.90 594.50" stroke="#000" stroke-width="1.15" fill="none"/>
<rect x="374.50" y="603.60" width="13.00" height="82.90" stroke="#000" stroke-width="1.0" fill="#000"/>
<path d="M381.00 596.30L381.00 603.60" stroke="#000" stroke-width="1.15" fill="none"/>
<path d="M377.60 596.30L384.40 596.30" stroke="#000" stroke-width="1.15" fill="none"/>
<rect x="407.40" y="629.00" width="13.40" height="57.50" stroke="#000" stroke-width="1.0" fill="#fff"/>
<path d="M414.10 619.60L414.10 629.00" stroke="#000" stroke-width="1.15" fill="none"/>
<path d="M410.70 619.60L417.50 619.60" stroke="#000" stroke-width="1.15" fill="none"/>
<rect x="420.80" y="631.50" width="13.70" height="55.00" stroke="#000" stroke-width="1.0" fill="#000"/>
<path d="M427.65 629.50L427.65 631.50" stroke="#000" stroke-width="1.15" fill="none"/>
<path d="M424.25 629.50L431.05 629.50" stroke="#000" stroke-width="1.15" fill="none"/>
<text x="327.00" y="704.30" text-anchor="middle">CFU-</text>
<text x="327.00" y="719.30" text-anchor="middle">F</text>
<text x="374.60" y="704.30" text-anchor="middle">CFU-</text>
<text x="374.60" y="719.30" text-anchor="middle">Alk</text>
<text x="420.60" y="704.30" text-anchor="middle">CFU-</text>
<text x="420.60" y="719.30" text-anchor="middle">OB</text>
<text x="273.50" y="605.00" text-anchor="middle" transform="rotate(-90 273.50 605.00)">% CFU</text>
</svg>
</body></html>
